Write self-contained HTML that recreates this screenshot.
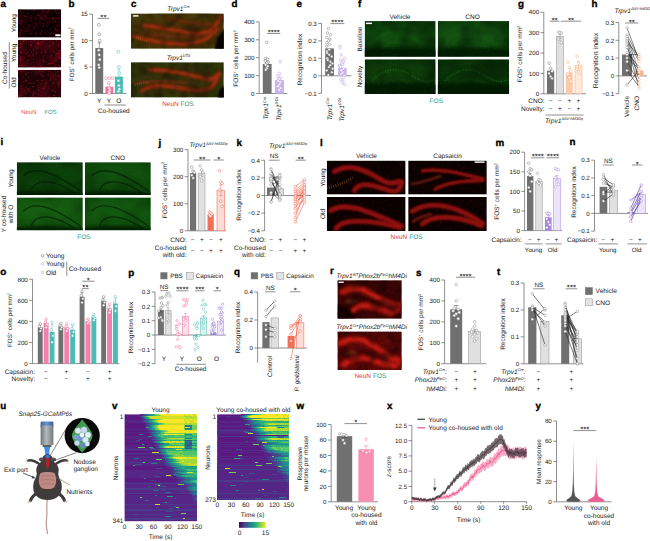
<!DOCTYPE html>
<html lang="en"><head><meta charset="utf-8"><title>Figure</title>
<style>
html,body{margin:0;padding:0;background:#fff;}
svg{display:block;font-family:"Liberation Sans", sans-serif;}
text{font-family:"Liberation Sans", sans-serif;}
</style></head><body>
<svg width="650" height="541" viewBox="0 0 650 541" text-rendering="geometricPrecision">
<defs>
<filter id="nzR" x="0" y="0" width="100%" height="100%" color-interpolation-filters="sRGB">
<feTurbulence type="fractalNoise" baseFrequency="0.4" numOctaves="2" seed="3"/>
<feColorMatrix type="matrix" values="0 0 0 0 0  0 0 0 0 0  0 0 0 0 0  3.4 0 0 0 -1.85"/>
<feComposite in="SourceGraphic" operator="in"/></filter>
<filter id="nzR2" x="0" y="0" width="100%" height="100%" color-interpolation-filters="sRGB">
<feTurbulence type="fractalNoise" baseFrequency="0.08" numOctaves="2" seed="11"/>
<feColorMatrix type="matrix" values="0 0 0 0 0  0 0 0 0 0  0 0 0 0 0  3.0 0 0 0 -1.2"/>
<feComposite in="SourceGraphic" operator="in"/></filter>
<filter id="nzR3" x="0" y="0" width="100%" height="100%" color-interpolation-filters="sRGB">
<feTurbulence type="fractalNoise" baseFrequency="0.06" numOctaves="2" seed="21"/>
<feColorMatrix type="matrix" values="0 0 0 0 0  0 0 0 0 0  0 0 0 0 0  3.0 0 0 0 -1.2"/>
<feComposite in="SourceGraphic" operator="in"/></filter>
<filter id="nzG" x="0" y="0" width="100%" height="100%" color-interpolation-filters="sRGB">
<feTurbulence type="fractalNoise" baseFrequency="0.5" numOctaves="2" seed="5"/>
<feColorMatrix type="matrix" values="0 0 0 0 0  0 0 0 0 0  0 0 0 0 0  2.4 0 0 0 -1.1"/>
<feComposite in="SourceGraphic" operator="in"/></filter>
<filter id="nzG2" x="0" y="0" width="100%" height="100%" color-interpolation-filters="sRGB">
<feTurbulence type="fractalNoise" baseFrequency="0.05" numOctaves="2" seed="9"/>
<feColorMatrix type="matrix" values="0 0 0 0 0  0 0 0 0 0  0 0 0 0 0  3.0 0 0 0 -1.2"/>
<feComposite in="SourceGraphic" operator="in"/></filter>
<filter id="b1" x="-20%" y="-20%" width="140%" height="140%"><feGaussianBlur stdDeviation="0.8"/></filter>
<filter id="b2" x="-20%" y="-20%" width="140%" height="140%"><feGaussianBlur stdDeviation="1.5"/></filter>
<filter id="b3" x="-20%" y="-20%" width="140%" height="140%"><feGaussianBlur stdDeviation="2.5"/></filter>
<filter id="b05" x="-20%" y="-20%" width="140%" height="140%"><feGaussianBlur stdDeviation="0.5"/></filter>
<filter id="b4" x="-20%" y="-20%" width="140%" height="140%"><feGaussianBlur stdDeviation="4"/></filter>
<clipPath id="cp1"><rect x="18" y="9.2" width="43.2" height="28.4"/></clipPath>
<clipPath id="cp2"><rect x="18" y="39.8" width="43.2" height="27.8"/></clipPath>
<clipPath id="cp3"><rect x="18" y="69.8" width="43.2" height="27.6"/></clipPath>
<clipPath id="cp4"><rect x="131" y="13.4" width="92.8" height="35.4"/></clipPath>
<clipPath id="cp5"><rect x="131" y="62.2" width="92.8" height="35.4"/></clipPath>
<clipPath id="cp6"><rect x="364.7" y="21.1" width="70.9" height="35.6"/></clipPath>
<clipPath id="cp7"><rect x="437.8" y="21.1" width="71.3" height="35.6"/></clipPath>
<clipPath id="cp8"><rect x="364.7" y="59.3" width="70.9" height="34.6"/></clipPath>
<clipPath id="cp9"><rect x="437.8" y="59.3" width="71.3" height="34.6"/></clipPath>
<clipPath id="cp10"><rect x="16.8" y="162.2" width="66" height="32.8"/></clipPath>
<clipPath id="cp11"><rect x="85" y="162.2" width="65.8" height="32.8"/></clipPath>
<clipPath id="cp12"><rect x="16.8" y="197.4" width="66" height="32.8"/></clipPath>
<clipPath id="cp13"><rect x="85" y="197.4" width="65.8" height="32.8"/></clipPath>
<clipPath id="cp14"><rect x="326.8" y="160.6" width="78.8" height="34"/></clipPath>
<clipPath id="cp15"><rect x="408.2" y="160.6" width="78.6" height="34"/></clipPath>
<clipPath id="cp16"><rect x="326.8" y="197" width="78.8" height="34"/></clipPath>
<clipPath id="cp17"><rect x="408.2" y="197" width="78.6" height="34"/></clipPath>
<clipPath id="cp18"><rect x="337.4" y="280.2" width="64.4" height="38.6"/></clipPath>
<clipPath id="cp19"><rect x="337.4" y="331.4" width="64.4" height="38.6"/></clipPath>
<linearGradient id="cyl" x1="0" x2="1" y1="0" y2="0"><stop offset="0" stop-color="#6e7378"/><stop offset="0.45" stop-color="#b4b9be"/><stop offset="1" stop-color="#74797e"/></linearGradient>
<linearGradient id="cylb" x1="0" x2="1" y1="0" y2="0"><stop offset="0" stop-color="#3b5f9a"/><stop offset="0.45" stop-color="#6f95cc"/><stop offset="1" stop-color="#3b5f9a"/></linearGradient>
<linearGradient id="virg" x1="0" x2="1" y1="0" y2="0"><stop offset="0.0" stop-color="#440154"/><stop offset="0.1" stop-color="#482475"/><stop offset="0.2" stop-color="#414487"/><stop offset="0.3" stop-color="#355f8d"/><stop offset="0.4" stop-color="#2a788e"/><stop offset="0.5" stop-color="#21918c"/><stop offset="0.6" stop-color="#22a884"/><stop offset="0.7" stop-color="#44bf70"/><stop offset="0.8" stop-color="#7ad151"/><stop offset="0.9" stop-color="#bddf26"/><stop offset="1.0" stop-color="#fde725"/></linearGradient>
</defs>
<rect width="650" height="541" fill="#fff"/>
<g id="panel_a">
<text x="0.5" y="7.2" font-size="9.8" fill="#000" font-weight="bold" stroke="#000" stroke-width="0.35">a</text>
<g clip-path="url(#cp1)">
<rect x="18" y="9.2" width="43.2" height="28.4" fill="#090102"/>
<rect x="18" y="9.2" width="43.2" height="28.4" fill="#3a0610" filter="url(#nzR2)" opacity="0.55"/>
<rect x="18" y="9.2" width="43.2" height="28.4" fill="#d01822" filter="url(#nzR)" opacity="0.42"/>
</g>
<g clip-path="url(#cp2)">
<rect x="18" y="39.8" width="43.2" height="27.8" fill="#250308"/>
<rect x="18" y="39.8" width="43.2" height="27.8" fill="#5a0814" filter="url(#nzR2)" opacity="0.8"/>
<rect x="18" y="39.8" width="43.2" height="27.8" fill="#d01822" filter="url(#nzR)" opacity="0.55"/>
</g>
<g clip-path="url(#cp3)">
<rect x="18" y="69.8" width="43.2" height="27.6" fill="#1b0306"/>
<rect x="18" y="69.8" width="43.2" height="27.6" fill="#4c0812" filter="url(#nzR2)" opacity="0.8"/>
<rect x="18" y="69.8" width="43.2" height="27.6" fill="#d01822" filter="url(#nzR)" opacity="0.5"/>
</g>
<rect x="55.3" y="34.3" width="5.2" height="1.9" fill="#fff"/>
<text font-size="6.5" fill="#1a1a1a" text-anchor="middle" transform="translate(16.2 23.2) rotate(-90)">Young</text>
<text font-size="6.5" fill="#1a1a1a" text-anchor="middle" transform="translate(16.2 52.8) rotate(-90)">Young</text>
<text font-size="6.5" fill="#1a1a1a" text-anchor="middle" transform="translate(16.2 82.4) rotate(-90)">Old</text>
<text font-size="6.5" fill="#1a1a1a" text-anchor="middle" transform="translate(7.2 68) rotate(-90)">Co-housed</text>
<line x1="9.3" y1="42" x2="9.3" y2="88.6" stroke="#444" stroke-width="0.6"/>
<text x="21.2" y="113.6" font-size="6.01" fill="#e8413c">NeuN</text>
<text x="44.4" y="113.6" font-size="6.01" fill="#2f9d7e">FOS</text>
</g>
<g id="panel_b">
<text x="68.5" y="7.2" font-size="9.8" fill="#000" font-weight="bold" stroke="#000" stroke-width="0.35">b</text>
<line x1="92.5" y1="14.2" x2="92.5" y2="93.5" stroke="#444" stroke-width="0.6"/>
<line x1="89.2" y1="14.2" x2="92.5" y2="14.2" stroke="#444" stroke-width="0.6"/>
<text x="87.8" y="16.45" font-size="6.2" fill="#1a1a1a" text-anchor="end">15</text>
<line x1="89.2" y1="40.63" x2="92.5" y2="40.63" stroke="#444" stroke-width="0.6"/>
<text x="87.8" y="42.88" font-size="6.2" fill="#1a1a1a" text-anchor="end">10</text>
<line x1="89.2" y1="67.07" x2="92.5" y2="67.07" stroke="#444" stroke-width="0.6"/>
<text x="87.8" y="69.32" font-size="6.2" fill="#1a1a1a" text-anchor="end">5</text>
<line x1="89.2" y1="93.5" x2="92.5" y2="93.5" stroke="#444" stroke-width="0.6"/>
<text x="87.8" y="95.75" font-size="6.2" fill="#1a1a1a" text-anchor="end">0</text>
<line x1="92.5" y1="93.5" x2="126.5" y2="93.5" stroke="#444" stroke-width="0.6"/>
<text font-size="6.21" fill="#1a1a1a" text-anchor="middle" transform="translate(73.8 54.2) rotate(-90)">FOS<tspan dy="-2.36" font-size="3.73">+</tspan><tspan dy="2.36">​</tspan> cells per mm<tspan dy="-2.36" font-size="3.73">2</tspan><tspan dy="2.36">​</tspan></text>
<rect x="95.3" y="48.03" width="7.9" height="45.47" fill="#707070"/>
<line x1="99.25" y1="42.75" x2="99.25" y2="48.03" stroke="#444" stroke-width="0.5"/>
<line x1="97.65" y1="42.75" x2="100.85" y2="42.75" stroke="#444" stroke-width="0.5"/>
<circle cx="98.75" cy="24.77" r="1.44" fill="#fff" stroke="#777" stroke-width="0.54"/>
<circle cx="99.25" cy="34.29" r="1.44" fill="#fff" stroke="#777" stroke-width="0.54"/>
<circle cx="99.75" cy="40.63" r="1.44" fill="#fff" stroke="#777" stroke-width="0.54"/>
<circle cx="98.75" cy="50.15" r="1.44" fill="#fff" stroke="#777" stroke-width="0.54"/>
<circle cx="99.25" cy="54.91" r="1.44" fill="#fff" stroke="#777" stroke-width="0.54"/>
<circle cx="99.75" cy="59.67" r="1.44" fill="#fff" stroke="#777" stroke-width="0.54"/>
<circle cx="98.75" cy="64.95" r="1.44" fill="#fff" stroke="#777" stroke-width="0.54"/>
<circle cx="99.25" cy="67.6" r="1.44" fill="#fff" stroke="#777" stroke-width="0.54"/>
<rect x="105.4" y="86.63" width="7.8" height="6.87" fill="#f2709f"/>
<line x1="109.3" y1="83.98" x2="109.3" y2="86.63" stroke="#f2709f" stroke-width="0.5"/>
<line x1="107.7" y1="83.98" x2="110.9" y2="83.98" stroke="#f2709f" stroke-width="0.5"/>
<circle cx="106.1" cy="78.17" r="1.44" fill="#fff" stroke="#f2709f" stroke-width="0.54"/>
<circle cx="109.3" cy="78.17" r="1.44" fill="#fff" stroke="#f2709f" stroke-width="0.54"/>
<circle cx="112.5" cy="78.17" r="1.44" fill="#fff" stroke="#f2709f" stroke-width="0.54"/>
<circle cx="108.8" cy="82.93" r="1.44" fill="#fff" stroke="#f2709f" stroke-width="0.54"/>
<circle cx="109.3" cy="88.21" r="1.44" fill="#fff" stroke="#f2709f" stroke-width="0.54"/>
<circle cx="109.8" cy="90.33" r="1.44" fill="#fff" stroke="#f2709f" stroke-width="0.54"/>
<circle cx="108.8" cy="91.91" r="1.44" fill="#fff" stroke="#f2709f" stroke-width="0.54"/>
<circle cx="109.3" cy="92.97" r="1.44" fill="#fff" stroke="#f2709f" stroke-width="0.54"/>
<rect x="114.9" y="76.58" width="8" height="16.92" fill="#4bbcb4"/>
<line x1="118.9" y1="69.71" x2="118.9" y2="76.58" stroke="#4bbcb4" stroke-width="0.5"/>
<line x1="117.3" y1="69.71" x2="120.5" y2="69.71" stroke="#4bbcb4" stroke-width="0.5"/>
<circle cx="118.4" cy="51.74" r="1.44" fill="#fff" stroke="#4bbcb4" stroke-width="0.54"/>
<circle cx="118.9" cy="67.07" r="1.44" fill="#fff" stroke="#4bbcb4" stroke-width="0.54"/>
<circle cx="119.4" cy="73.41" r="1.44" fill="#fff" stroke="#4bbcb4" stroke-width="0.54"/>
<circle cx="118.4" cy="80.81" r="1.44" fill="#fff" stroke="#4bbcb4" stroke-width="0.54"/>
<circle cx="118.9" cy="85.57" r="1.44" fill="#fff" stroke="#4bbcb4" stroke-width="0.54"/>
<circle cx="119.4" cy="89.27" r="1.44" fill="#fff" stroke="#4bbcb4" stroke-width="0.54"/>
<circle cx="118.4" cy="91.39" r="1.44" fill="#fff" stroke="#4bbcb4" stroke-width="0.54"/>
<line x1="97.4" y1="18.4" x2="109.4" y2="18.4" stroke="#444" stroke-width="0.6"/>
<text x="103.4" y="20" font-size="7.8" fill="#1a1a1a" text-anchor="middle">**</text>
<text x="99.2" y="102.6" font-size="6.5" fill="#1a1a1a" text-anchor="middle">Y</text>
<text x="108.8" y="102.6" font-size="6.5" fill="#1a1a1a" text-anchor="middle">Y</text>
<text x="118.9" y="102.6" font-size="6.5" fill="#1a1a1a" text-anchor="middle">O</text>
<line x1="104.5" y1="105" x2="125.8" y2="105" stroke="#444" stroke-width="0.6"/>
<text x="113.8" y="112.6" font-size="6.5" fill="#1a1a1a" text-anchor="middle">Co-housed</text>
</g>
<g id="panel_c">
<text x="131" y="7.2" font-size="9.8" fill="#000" font-weight="bold" stroke="#000" stroke-width="0.35">c</text>
<text x="178.5" y="10.8" font-size="6.5" fill="#1a1a1a" text-anchor="middle" font-style="italic">Trpv1<tspan dy="-2.47" font-size="3.9">Cre</tspan><tspan dy="2.47">​</tspan></text>
<text x="178.5" y="59.6" font-size="6.5" fill="#1a1a1a" text-anchor="middle" font-style="italic">Trpv1<tspan dy="-2.47" font-size="3.9">DTA</tspan><tspan dy="2.47">​</tspan></text>
<g clip-path="url(#cp4)">
<rect x="131" y="13.4" width="92.8" height="35.4" fill="#42380a"/>
<ellipse cx="177.4" cy="32.87" rx="46.4" ry="14.16" fill="#5a240a" opacity="0.28" filter="url(#b4)"/>
<ellipse cx="182.04" cy="15.17" rx="32.48" ry="5.31" fill="#4a3a10" opacity="0.8" filter="url(#b3)"/>
<g filter="url(#b2)" fill="none" stroke-linecap="round"><path d="M149.56 34.64 C168.12 35.35 182.04 37.47 197.82 36.06 M168.12 18.36 C182.04 20.48 195.96 24.73 210.81 24.02" stroke="#7a2a0c" stroke-width="3.2" opacity="0.75"/></g>
<g filter="url(#b2)" fill="none" stroke-linecap="round" stroke="#8a260e" stroke-width="4.4" opacity="0.9"><path d="M143.99 25.44 C158.84 26.14 172.76 30.39 190.39 32.87 S212.66 30.39 221.02 16.94"/><path d="M132.86 36.06 C144.92 38.89 163.48 44.55 182.04 43.84 S208.95 39.95 217.3 28.27"/></g>
<g filter="url(#b1)" fill="none" stroke-linecap="round" stroke="#c43a16" stroke-width="1.8" opacity="0.65"><path d="M143.99 25.44 C158.84 26.14 172.76 30.39 190.39 32.87 S212.66 30.39 221.02 16.94"/><path d="M132.86 36.06 C144.92 38.89 163.48 44.55 182.04 43.84 S208.95 39.95 217.3 28.27"/></g>
<g filter="url(#b05)" fill="none" stroke="#c87020" stroke-width="2.4" stroke-dasharray="0.9 1.3" opacity="0.5"><path d="M133.78 36.76 L147.7 41.72"/></g>
<path d="M214.52 50.57 L217.3 38.18 L225.66 26.85 L225.66 50.57 Z" fill="#050502" filter="url(#b1)"/>
<rect x="131" y="13.4" width="92.8" height="35.4" fill="#7a5a14" filter="url(#nzG)" opacity="0.1"/>
<rect x="131" y="13.4" width="92.8" height="35.4" fill="#100c03" filter="url(#nzR2)" opacity="0.4"/>
</g>
<g clip-path="url(#cp5)">
<rect x="131" y="62.2" width="92.8" height="35.4" fill="#30360c"/>
<ellipse cx="177.4" cy="81.67" rx="41.76" ry="12.39" fill="#4a200a" opacity="0.3" filter="url(#b4)"/>
<g filter="url(#b2)" fill="none" stroke-linecap="round"><path d="M135.64 83.44 C149.56 79.19 168.12 80.61 186.68 83.44" stroke="#7a2a0c" stroke-width="3.2" opacity="0.75"/></g>
<g filter="url(#b2)" fill="none" stroke-linecap="round" stroke="#8a260e" stroke-width="4.4" opacity="0.9"><path d="M149.56 69.99 C163.48 69.28 182.04 72.82 199.67 77.07 S214.52 76.36 219.16 72.82"/><path d="M142.14 90.52 C154.2 82.02 172.76 86.98 190.39 89.81 S212.66 89.1 219.16 74.24"/></g>
<g filter="url(#b1)" fill="none" stroke-linecap="round" stroke="#c43a16" stroke-width="1.8" opacity="0.65"><path d="M149.56 69.99 C163.48 69.28 182.04 72.82 199.67 77.07 S214.52 76.36 219.16 72.82"/><path d="M142.14 90.52 C154.2 82.02 172.76 86.98 190.39 89.81 S212.66 89.1 219.16 74.24"/></g>
<g filter="url(#b05)" fill="none" stroke="#c87020" stroke-width="2.4" stroke-dasharray="0.9 1.3" opacity="0.5"><path d="M134.71 84.86 L149.56 82.02"/></g>
<path d="M217.3 99.37 L220.09 88.75 L225.66 85.21 L225.66 99.37 Z" fill="#050502" filter="url(#b1)"/>
<rect x="131" y="62.2" width="92.8" height="35.4" fill="#7a5a14" filter="url(#nzG)" opacity="0.1"/>
<rect x="131" y="62.2" width="92.8" height="35.4" fill="#100c03" filter="url(#nzR2)" opacity="0.4"/>
</g>
<rect x="133" y="15.2" width="5.5" height="1.4" fill="#fff"/>
<text x="178.8" y="105.6" font-size="6.5" fill="#e8413c" text-anchor="end">NeuN</text>
<text x="180.6" y="105.6" font-size="6.5" fill="#2f9d7e">FOS</text>
</g>
<g id="panel_d">
<text x="231.5" y="7.2" font-size="9.8" fill="#000" font-weight="bold" stroke="#000" stroke-width="0.35">d</text>
<line x1="259.2" y1="21.9" x2="259.2" y2="93.5" stroke="#444" stroke-width="0.6"/>
<line x1="255.9" y1="21.9" x2="259.2" y2="21.9" stroke="#444" stroke-width="0.6"/>
<text x="254.5" y="24.15" font-size="6.2" fill="#1a1a1a" text-anchor="end">400</text>
<line x1="255.9" y1="39.8" x2="259.2" y2="39.8" stroke="#444" stroke-width="0.6"/>
<text x="254.5" y="42.05" font-size="6.2" fill="#1a1a1a" text-anchor="end">300</text>
<line x1="255.9" y1="57.7" x2="259.2" y2="57.7" stroke="#444" stroke-width="0.6"/>
<text x="254.5" y="59.95" font-size="6.2" fill="#1a1a1a" text-anchor="end">200</text>
<line x1="255.9" y1="75.6" x2="259.2" y2="75.6" stroke="#444" stroke-width="0.6"/>
<text x="254.5" y="77.85" font-size="6.2" fill="#1a1a1a" text-anchor="end">100</text>
<line x1="255.9" y1="93.5" x2="259.2" y2="93.5" stroke="#444" stroke-width="0.6"/>
<text x="254.5" y="95.75" font-size="6.2" fill="#1a1a1a" text-anchor="end">0</text>
<line x1="259.2" y1="93.5" x2="287.4" y2="93.5" stroke="#444" stroke-width="0.6"/>
<text font-size="6.5" fill="#1a1a1a" text-anchor="middle" transform="translate(238.3 58.6) rotate(-90)">FOS<tspan dy="-2.47" font-size="3.9">+</tspan><tspan dy="2.47">​</tspan> cells per mm<tspan dy="-2.47" font-size="3.9">2</tspan><tspan dy="2.47">​</tspan></text>
<rect x="262.8" y="63.97" width="8.8" height="29.53" fill="#707070"/>
<line x1="266.75" y1="61.82" x2="266.75" y2="63.97" stroke="#444" stroke-width="0.5"/>
<line x1="265.15" y1="61.82" x2="268.35" y2="61.82" stroke="#444" stroke-width="0.5"/>
<circle cx="266.7" cy="42.48" r="1.38" fill="#fff" stroke="#777" stroke-width="0.54"/>
<circle cx="265.7" cy="58.59" r="1.38" fill="#fff" stroke="#777" stroke-width="0.54"/>
<circle cx="267.7" cy="59.49" r="1.38" fill="#fff" stroke="#777" stroke-width="0.54"/>
<circle cx="265.3" cy="60.92" r="1.38" fill="#fff" stroke="#777" stroke-width="0.54"/>
<circle cx="268.1" cy="62" r="1.38" fill="#fff" stroke="#777" stroke-width="0.54"/>
<circle cx="266.7" cy="63.07" r="1.38" fill="#fff" stroke="#777" stroke-width="0.54"/>
<circle cx="265.7" cy="64.86" r="1.38" fill="#fff" stroke="#777" stroke-width="0.54"/>
<circle cx="267.7" cy="66.29" r="1.38" fill="#fff" stroke="#777" stroke-width="0.54"/>
<circle cx="266.7" cy="68.44" r="1.38" fill="#fff" stroke="#777" stroke-width="0.54"/>
<circle cx="265.7" cy="69.87" r="1.38" fill="#fff" stroke="#777" stroke-width="0.54"/>
<rect x="274.9" y="80.08" width="9.1" height="13.42" fill="#c9b6ee"/>
<line x1="279.2" y1="77.93" x2="279.2" y2="80.08" stroke="#a67fd8" stroke-width="0.5"/>
<line x1="277.6" y1="77.93" x2="280.8" y2="77.93" stroke="#a67fd8" stroke-width="0.5"/>
<circle cx="280.2" cy="61.64" r="1.38" fill="#fff" stroke="#b79ae6" stroke-width="0.54"/>
<circle cx="279.2" cy="73.45" r="1.38" fill="#fff" stroke="#b79ae6" stroke-width="0.54"/>
<circle cx="277.8" cy="76.5" r="1.38" fill="#fff" stroke="#b79ae6" stroke-width="0.54"/>
<circle cx="280.6" cy="77.75" r="1.38" fill="#fff" stroke="#b79ae6" stroke-width="0.54"/>
<circle cx="279.2" cy="79.18" r="1.38" fill="#fff" stroke="#b79ae6" stroke-width="0.54"/>
<circle cx="278.2" cy="80.97" r="1.38" fill="#fff" stroke="#b79ae6" stroke-width="0.54"/>
<circle cx="280.2" cy="82.4" r="1.38" fill="#fff" stroke="#b79ae6" stroke-width="0.54"/>
<circle cx="279.2" cy="84.55" r="1.38" fill="#fff" stroke="#b79ae6" stroke-width="0.54"/>
<circle cx="278" cy="86.34" r="1.38" fill="#fff" stroke="#b79ae6" stroke-width="0.54"/>
<circle cx="280.4" cy="88.13" r="1.38" fill="#fff" stroke="#b79ae6" stroke-width="0.54"/>
<circle cx="279.2" cy="89.92" r="1.38" fill="#fff" stroke="#b79ae6" stroke-width="0.54"/>
<line x1="267.2" y1="33.5" x2="280.4" y2="33.5" stroke="#444" stroke-width="0.6"/>
<text x="273.8" y="35.1" font-size="7.8" fill="#1a1a1a" text-anchor="middle">****</text>
<text font-size="6.6" fill="#1a1a1a" text-anchor="end" font-style="italic" transform="translate(268 96.8) rotate(-90)">Trpv1<tspan dy="-2.51" font-size="3.96">Cre</tspan><tspan dy="2.51">​</tspan></text>
<text font-size="6.6" fill="#1a1a1a" text-anchor="end" font-style="italic" transform="translate(280.8 96.8) rotate(-90)">Trpv1<tspan dy="-2.51" font-size="3.96">DTA</tspan><tspan dy="2.51">​</tspan></text>
</g>
<g id="panel_e">
<text x="296.5" y="7.2" font-size="9.8" fill="#000" font-weight="bold" stroke="#000" stroke-width="0.35">e</text>
<line x1="321.5" y1="23.4" x2="321.5" y2="93.27" stroke="#444" stroke-width="0.6"/>
<line x1="318.2" y1="23.4" x2="321.5" y2="23.4" stroke="#444" stroke-width="0.6"/>
<text x="316.8" y="25.65" font-size="6.2" fill="#1a1a1a" text-anchor="end">0.3</text>
<line x1="318.2" y1="40.87" x2="321.5" y2="40.87" stroke="#444" stroke-width="0.6"/>
<text x="316.8" y="43.12" font-size="6.2" fill="#1a1a1a" text-anchor="end">0.2</text>
<line x1="318.2" y1="58.33" x2="321.5" y2="58.33" stroke="#444" stroke-width="0.6"/>
<text x="316.8" y="60.58" font-size="6.2" fill="#1a1a1a" text-anchor="end">0.1</text>
<line x1="318.2" y1="75.8" x2="321.5" y2="75.8" stroke="#444" stroke-width="0.6"/>
<text x="316.8" y="78.05" font-size="6.2" fill="#1a1a1a" text-anchor="end">0</text>
<line x1="318.2" y1="93.27" x2="321.5" y2="93.27" stroke="#444" stroke-width="0.6"/>
<text x="316.8" y="95.52" font-size="6.2" fill="#1a1a1a" text-anchor="end">−0.1</text>
<line x1="321.5" y1="75.8" x2="351.5" y2="75.8" stroke="#444" stroke-width="0.6"/>
<text font-size="6.5" fill="#1a1a1a" text-anchor="middle" transform="translate(302 59.5) rotate(-90)">Recognition index</text>
<rect x="325.2" y="48.38" width="8.8" height="27.42" fill="#707070"/>
<circle cx="328.47" cy="28.64" r="1.25" fill="#fff" stroke="#777" stroke-width="0.48"/>
<circle cx="327.37" cy="33.01" r="1.25" fill="#fff" stroke="#777" stroke-width="0.48"/>
<circle cx="330.57" cy="34.75" r="1.25" fill="#fff" stroke="#777" stroke-width="0.48"/>
<circle cx="326.86" cy="37.37" r="1.25" fill="#fff" stroke="#777" stroke-width="0.48"/>
<circle cx="329.83" cy="39.12" r="1.25" fill="#fff" stroke="#777" stroke-width="0.48"/>
<circle cx="328.74" cy="40.87" r="1.25" fill="#fff" stroke="#777" stroke-width="0.48"/>
<circle cx="326.77" cy="42.61" r="1.25" fill="#fff" stroke="#777" stroke-width="0.48"/>
<circle cx="329.65" cy="44.36" r="1.25" fill="#fff" stroke="#777" stroke-width="0.48"/>
<circle cx="326.64" cy="46.11" r="1.25" fill="#fff" stroke="#777" stroke-width="0.48"/>
<circle cx="329.18" cy="49.6" r="1.25" fill="#fff" stroke="#777" stroke-width="0.48"/>
<circle cx="326.85" cy="51.35" r="1.25" fill="#fff" stroke="#777" stroke-width="0.48"/>
<circle cx="326.98" cy="53.09" r="1.25" fill="#fff" stroke="#777" stroke-width="0.48"/>
<circle cx="329.12" cy="54.84" r="1.25" fill="#fff" stroke="#777" stroke-width="0.48"/>
<circle cx="331.69" cy="56.59" r="1.25" fill="#fff" stroke="#777" stroke-width="0.48"/>
<circle cx="327.19" cy="58.33" r="1.25" fill="#fff" stroke="#777" stroke-width="0.48"/>
<circle cx="327.83" cy="60.08" r="1.25" fill="#fff" stroke="#777" stroke-width="0.48"/>
<circle cx="330.42" cy="61.83" r="1.25" fill="#fff" stroke="#777" stroke-width="0.48"/>
<circle cx="332.47" cy="63.57" r="1.25" fill="#fff" stroke="#777" stroke-width="0.48"/>
<circle cx="330.09" cy="65.32" r="1.25" fill="#fff" stroke="#777" stroke-width="0.48"/>
<circle cx="328.94" cy="67.07" r="1.25" fill="#fff" stroke="#777" stroke-width="0.48"/>
<circle cx="332.65" cy="68.81" r="1.25" fill="#fff" stroke="#777" stroke-width="0.48"/>
<circle cx="326.7" cy="70.56" r="1.25" fill="#fff" stroke="#777" stroke-width="0.48"/>
<circle cx="331.89" cy="72.31" r="1.25" fill="#fff" stroke="#777" stroke-width="0.48"/>
<circle cx="328.25" cy="74.93" r="1.25" fill="#fff" stroke="#777" stroke-width="0.48"/>
<rect x="338.1" y="67.94" width="8.6" height="7.86" fill="#c9b6ee"/>
<circle cx="340.12" cy="46.11" r="1.25" fill="#fff" stroke="#b79ae6" stroke-width="0.48"/>
<circle cx="339.95" cy="47.85" r="1.25" fill="#fff" stroke="#b79ae6" stroke-width="0.48"/>
<circle cx="341.17" cy="54.84" r="1.25" fill="#fff" stroke="#b79ae6" stroke-width="0.48"/>
<circle cx="344.42" cy="58.33" r="1.25" fill="#fff" stroke="#b79ae6" stroke-width="0.48"/>
<circle cx="340.36" cy="60.08" r="1.25" fill="#fff" stroke="#b79ae6" stroke-width="0.48"/>
<circle cx="342.92" cy="60.95" r="1.25" fill="#fff" stroke="#b79ae6" stroke-width="0.48"/>
<circle cx="343.29" cy="61.83" r="1.25" fill="#fff" stroke="#b79ae6" stroke-width="0.48"/>
<circle cx="341.58" cy="63.57" r="1.25" fill="#fff" stroke="#b79ae6" stroke-width="0.48"/>
<circle cx="342.71" cy="64.45" r="1.25" fill="#fff" stroke="#b79ae6" stroke-width="0.48"/>
<circle cx="339.6" cy="65.32" r="1.25" fill="#fff" stroke="#b79ae6" stroke-width="0.48"/>
<circle cx="339.58" cy="66.19" r="1.25" fill="#fff" stroke="#b79ae6" stroke-width="0.48"/>
<circle cx="340.52" cy="67.07" r="1.25" fill="#fff" stroke="#b79ae6" stroke-width="0.48"/>
<circle cx="343.55" cy="68.81" r="1.25" fill="#fff" stroke="#b79ae6" stroke-width="0.48"/>
<circle cx="341.94" cy="69.69" r="1.25" fill="#fff" stroke="#b79ae6" stroke-width="0.48"/>
<circle cx="341.21" cy="70.56" r="1.25" fill="#fff" stroke="#b79ae6" stroke-width="0.48"/>
<circle cx="342.95" cy="72.31" r="1.25" fill="#fff" stroke="#b79ae6" stroke-width="0.48"/>
<circle cx="342.1" cy="73.18" r="1.25" fill="#fff" stroke="#b79ae6" stroke-width="0.48"/>
<circle cx="341.12" cy="74.05" r="1.25" fill="#fff" stroke="#b79ae6" stroke-width="0.48"/>
<circle cx="344.28" cy="75.8" r="1.25" fill="#fff" stroke="#b79ae6" stroke-width="0.48"/>
<circle cx="343.67" cy="77.55" r="1.25" fill="#fff" stroke="#b79ae6" stroke-width="0.48"/>
<circle cx="340.76" cy="79.29" r="1.25" fill="#fff" stroke="#b79ae6" stroke-width="0.48"/>
<circle cx="342.88" cy="81.04" r="1.25" fill="#fff" stroke="#b79ae6" stroke-width="0.48"/>
<circle cx="342.56" cy="82.79" r="1.25" fill="#fff" stroke="#b79ae6" stroke-width="0.48"/>
<circle cx="344.8" cy="84.53" r="1.25" fill="#fff" stroke="#b79ae6" stroke-width="0.48"/>
<line x1="330.4" y1="23.6" x2="344.4" y2="23.6" stroke="#444" stroke-width="0.6"/>
<text x="337.4" y="25.2" font-size="7.8" fill="#1a1a1a" text-anchor="middle">****</text>
<text font-size="6.6" fill="#1a1a1a" text-anchor="end" font-style="italic" transform="translate(331.6 97.5) rotate(-90)">Trpv1<tspan dy="-2.51" font-size="3.96">Cre</tspan><tspan dy="2.51">​</tspan></text>
<text font-size="6.6" fill="#1a1a1a" text-anchor="end" font-style="italic" transform="translate(343.6 97.5) rotate(-90)">Trpv1<tspan dy="-2.51" font-size="3.96">DTA</tspan><tspan dy="2.51">​</tspan></text>
</g>
<g id="panel_f">
<text x="358" y="7.2" font-size="9.8" fill="#000" font-weight="bold" stroke="#000" stroke-width="0.35">f</text>
<text x="400" y="18.6" font-size="6.5" fill="#1a1a1a" text-anchor="middle">Vehicle</text>
<text x="472.5" y="18.6" font-size="6.5" fill="#1a1a1a" text-anchor="middle">CNO</text>
<g clip-path="url(#cp6)">
<rect x="364.7" y="21.1" width="70.9" height="35.6" fill="#0c3c0b"/>
<ellipse cx="400.15" cy="35.34" rx="35.45" ry="12.82" fill="#186018" opacity="0.45" filter="url(#b4)"/>
<g filter="url(#b1)" fill="none" stroke="#1a5e16" stroke-width="2.4" opacity="0.4"><path d="M371.79 43.17 C382.43 31.78 396.61 28.22 408.66 36.05 S424.97 45.31 434.18 42.46"/><path d="M380.3 50.29 C389.51 38.9 401.57 39.61 415.75 48.16"/></g>
<path d="M361.15 60.26 L361.15 48.87 Q400.15 45.31 439.15 49.58 L439.15 60.26 Z" fill="#041404" opacity="0.8" filter="url(#b2)"/>
<rect x="364.7" y="21.1" width="70.9" height="35.6" fill="#2a8426" filter="url(#nzG)" opacity="0.12"/>
<rect x="364.7" y="21.1" width="70.9" height="35.6" fill="#041604" filter="url(#nzG2)" opacity="0.5"/>
</g>
<g clip-path="url(#cp7)">
<rect x="437.8" y="21.1" width="71.3" height="35.6" fill="#0d400b"/>
<ellipse cx="473.45" cy="35.34" rx="35.65" ry="12.82" fill="#1b661a" opacity="0.45" filter="url(#b4)"/>
<g filter="url(#b1)" fill="none" stroke="#1a5e16" stroke-width="2.4" opacity="0.4"><path d="M444.93 43.17 C455.62 31.78 469.88 28.22 482.01 36.05 S498.41 45.31 507.67 42.46"/><path d="M453.49 50.29 C462.75 38.9 474.88 39.61 489.14 48.16"/></g>
<path d="M434.24 60.26 L434.24 48.87 Q473.45 45.31 512.66 49.58 L512.66 60.26 Z" fill="#041404" opacity="0.8" filter="url(#b2)"/>
<rect x="437.8" y="21.1" width="71.3" height="35.6" fill="#2a8426" filter="url(#nzG)" opacity="0.12"/>
<rect x="437.8" y="21.1" width="71.3" height="35.6" fill="#041604" filter="url(#nzG2)" opacity="0.5"/>
</g>
<g clip-path="url(#cp8)">
<rect x="364.7" y="59.3" width="70.9" height="34.6" fill="#0a3009"/>
<ellipse cx="400.15" cy="73.14" rx="35.45" ry="12.46" fill="#124a10" opacity="0.45" filter="url(#b4)"/>
<g filter="url(#b1)" fill="none" stroke="#1a5e16" stroke-width="2.4" opacity="0.25"><path d="M371.79 80.75 C382.43 69.68 396.61 66.22 408.66 73.83 S424.97 82.83 434.18 80.06"/><path d="M380.3 87.67 C389.51 76.6 401.57 77.29 415.75 85.6"/></g>
<path d="M361.15 97.36 L361.15 84.21 Q400.15 80.75 439.15 84.9 L439.15 97.36 Z" fill="#041404" opacity="0.8" filter="url(#b2)"/>
<g filter="url(#b05)" fill="none" stroke="#4fae4f" stroke-width="0.9" stroke-dasharray="0.7 2" opacity="0.7"><path d="M371.79 80.75 C382.43 69.68 396.61 66.22 408.66 73.83 S424.97 82.83 434.18 80.06"/></g>
<rect x="364.7" y="59.3" width="70.9" height="34.6" fill="#2a8426" filter="url(#nzG)" opacity="0.12"/>
<rect x="364.7" y="59.3" width="70.9" height="34.6" fill="#041604" filter="url(#nzG2)" opacity="0.5"/>
</g>
<g clip-path="url(#cp9)">
<rect x="437.8" y="59.3" width="71.3" height="34.6" fill="#092c08"/>
<ellipse cx="473.45" cy="73.14" rx="35.65" ry="12.46" fill="#10440e" opacity="0.45" filter="url(#b4)"/>
<g filter="url(#b1)" fill="none" stroke="#1a5e16" stroke-width="2.4" opacity="0.25"><path d="M444.93 80.75 C455.62 69.68 469.88 66.22 482.01 73.83 S498.41 82.83 507.67 80.06"/><path d="M453.49 87.67 C462.75 76.6 474.88 77.29 489.14 85.6"/></g>
<path d="M434.24 97.36 L434.24 84.21 Q473.45 80.75 512.66 84.9 L512.66 97.36 Z" fill="#041404" opacity="0.8" filter="url(#b2)"/>
<g filter="url(#b05)" fill="none" stroke="#4fae4f" stroke-width="0.9" stroke-dasharray="0.7 2" opacity="0.7"><path d="M444.93 80.75 C455.62 69.68 469.88 66.22 482.01 73.83 S498.41 82.83 507.67 80.06"/></g>
<rect x="437.8" y="59.3" width="71.3" height="34.6" fill="#2a8426" filter="url(#nzG)" opacity="0.12"/>
<rect x="437.8" y="59.3" width="71.3" height="34.6" fill="#041604" filter="url(#nzG2)" opacity="0.5"/>
</g>
<rect x="366" y="22.6" width="6" height="1.5" fill="#fff"/>
<text font-size="6.5" fill="#1a1a1a" text-anchor="middle" transform="translate(362 39) rotate(-90)">Baseline</text>
<text font-size="6.5" fill="#1a1a1a" text-anchor="middle" transform="translate(362 76.5) rotate(-90)">Novelty</text>
<text x="436.3" y="102.6" font-size="6.5" fill="#2f9d7e" text-anchor="middle">FOS</text>
</g>
<g id="panel_g">
<text x="518" y="7.2" font-size="9.8" fill="#000" font-weight="bold" stroke="#000" stroke-width="0.35">g</text>
<line x1="543.8" y1="12.2" x2="543.8" y2="93.8" stroke="#444" stroke-width="0.6"/>
<line x1="540.5" y1="12.2" x2="543.8" y2="12.2" stroke="#444" stroke-width="0.6"/>
<text x="539.1" y="14.45" font-size="6.2" fill="#1a1a1a" text-anchor="end">400</text>
<line x1="540.5" y1="32.6" x2="543.8" y2="32.6" stroke="#444" stroke-width="0.6"/>
<text x="539.1" y="34.85" font-size="6.2" fill="#1a1a1a" text-anchor="end">300</text>
<line x1="540.5" y1="53" x2="543.8" y2="53" stroke="#444" stroke-width="0.6"/>
<text x="539.1" y="55.25" font-size="6.2" fill="#1a1a1a" text-anchor="end">200</text>
<line x1="540.5" y1="73.4" x2="543.8" y2="73.4" stroke="#444" stroke-width="0.6"/>
<text x="539.1" y="75.65" font-size="6.2" fill="#1a1a1a" text-anchor="end">100</text>
<line x1="540.5" y1="93.8" x2="543.8" y2="93.8" stroke="#444" stroke-width="0.6"/>
<text x="539.1" y="96.05" font-size="6.2" fill="#1a1a1a" text-anchor="end">0</text>
<line x1="543.8" y1="93.8" x2="586" y2="93.8" stroke="#444" stroke-width="0.6"/>
<text font-size="6.5" fill="#1a1a1a" text-anchor="middle" transform="translate(522.4 54) rotate(-90)">FOS<tspan dy="-2.47" font-size="3.9">+</tspan><tspan dy="2.47">​</tspan> cells per mm<tspan dy="-2.47" font-size="3.9">2</tspan><tspan dy="2.47">​</tspan></text>
<rect x="547" y="70.75" width="7.2" height="23.05" fill="#707070"/>
<line x1="550.6" y1="68.3" x2="550.6" y2="73.2" stroke="#444" stroke-width="0.5"/>
<line x1="549.1" y1="68.3" x2="552.1" y2="68.3" stroke="#444" stroke-width="0.5"/>
<line x1="549.1" y1="73.2" x2="552.1" y2="73.2" stroke="#444" stroke-width="0.5"/>
<circle cx="549.1" cy="63.2" r="1.31" fill="#fff" stroke="#777" stroke-width="0.48"/>
<circle cx="550.6" cy="68.3" r="1.31" fill="#fff" stroke="#777" stroke-width="0.48"/>
<circle cx="552.1" cy="71.36" r="1.31" fill="#fff" stroke="#777" stroke-width="0.48"/>
<circle cx="549.1" cy="73.4" r="1.31" fill="#fff" stroke="#777" stroke-width="0.48"/>
<circle cx="550.6" cy="76.46" r="1.31" fill="#fff" stroke="#777" stroke-width="0.48"/>
<circle cx="552.1" cy="78.5" r="1.31" fill="#fff" stroke="#777" stroke-width="0.48"/>
<rect x="556.5" y="36.48" width="6.9" height="57.32" fill="#e0e0e0" stroke="#8c8c8c" stroke-width="0.5"/>
<line x1="559.95" y1="34.44" x2="559.95" y2="38.52" stroke="#888" stroke-width="0.5"/>
<line x1="558.45" y1="34.44" x2="561.45" y2="34.44" stroke="#888" stroke-width="0.5"/>
<line x1="558.45" y1="38.52" x2="561.45" y2="38.52" stroke="#888" stroke-width="0.5"/>
<circle cx="558.45" cy="32.19" r="1.31" fill="#fff" stroke="#888" stroke-width="0.48"/>
<circle cx="559.95" cy="32.6" r="1.31" fill="#fff" stroke="#888" stroke-width="0.48"/>
<circle cx="561.45" cy="33.01" r="1.31" fill="#fff" stroke="#888" stroke-width="0.48"/>
<circle cx="558.45" cy="38.72" r="1.31" fill="#fff" stroke="#888" stroke-width="0.48"/>
<circle cx="559.95" cy="41.78" r="1.31" fill="#fff" stroke="#888" stroke-width="0.48"/>
<circle cx="561.45" cy="42.8" r="1.31" fill="#fff" stroke="#888" stroke-width="0.48"/>
<rect x="565.8" y="72.58" width="7" height="21.22" fill="#f9c9a8"/>
<line x1="569.3" y1="68.1" x2="569.3" y2="77.07" stroke="#f4a87a" stroke-width="0.5"/>
<line x1="567.8" y1="68.1" x2="570.8" y2="68.1" stroke="#f4a87a" stroke-width="0.5"/>
<line x1="567.8" y1="77.07" x2="570.8" y2="77.07" stroke="#f4a87a" stroke-width="0.5"/>
<circle cx="567.8" cy="62.18" r="1.31" fill="#fff" stroke="#f4a87a" stroke-width="0.48"/>
<circle cx="569.3" cy="67.28" r="1.31" fill="#fff" stroke="#f4a87a" stroke-width="0.48"/>
<circle cx="570.8" cy="71.36" r="1.31" fill="#fff" stroke="#f4a87a" stroke-width="0.48"/>
<circle cx="567.8" cy="74.42" r="1.31" fill="#fff" stroke="#f4a87a" stroke-width="0.48"/>
<circle cx="569.3" cy="77.48" r="1.31" fill="#fff" stroke="#f4a87a" stroke-width="0.48"/>
<circle cx="570.8" cy="81.56" r="1.31" fill="#fff" stroke="#f4a87a" stroke-width="0.48"/>
<rect x="575" y="65.65" width="7" height="28.15" fill="#fdeadb" stroke="#f4a87a" stroke-width="0.5"/>
<line x1="578.5" y1="61.16" x2="578.5" y2="70.14" stroke="#f4a87a" stroke-width="0.5"/>
<line x1="577" y1="61.16" x2="580" y2="61.16" stroke="#f4a87a" stroke-width="0.5"/>
<line x1="577" y1="70.14" x2="580" y2="70.14" stroke="#f4a87a" stroke-width="0.5"/>
<circle cx="577" cy="56.06" r="1.31" fill="#fff" stroke="#f4a87a" stroke-width="0.48"/>
<circle cx="578.5" cy="63.2" r="1.31" fill="#fff" stroke="#f4a87a" stroke-width="0.48"/>
<circle cx="580" cy="65.24" r="1.31" fill="#fff" stroke="#f4a87a" stroke-width="0.48"/>
<circle cx="577" cy="69.32" r="1.31" fill="#fff" stroke="#f4a87a" stroke-width="0.48"/>
<circle cx="578.5" cy="72.38" r="1.31" fill="#fff" stroke="#f4a87a" stroke-width="0.48"/>
<circle cx="580" cy="73.4" r="1.31" fill="#fff" stroke="#f4a87a" stroke-width="0.48"/>
<line x1="549.5" y1="21.2" x2="559.4" y2="21.2" stroke="#444" stroke-width="0.6"/>
<text x="554.45" y="22.8" font-size="7.8" fill="#1a1a1a" text-anchor="middle">**</text>
<line x1="560.8" y1="21.2" x2="581.2" y2="21.2" stroke="#444" stroke-width="0.6"/>
<text x="571" y="22.8" font-size="7.8" fill="#1a1a1a" text-anchor="middle">**</text>
<text x="544.5" y="102.8" font-size="6.5" fill="#1a1a1a" text-anchor="end">CNO:</text>
<text x="544.5" y="110.8" font-size="6.5" fill="#1a1a1a" text-anchor="end">Novelty:</text>
<text x="550.6" y="102.8" font-size="6.5" fill="#1a1a1a" text-anchor="middle">−</text>
<text x="550.6" y="110.8" font-size="6.5" fill="#1a1a1a" text-anchor="middle">−</text>
<text x="560" y="102.8" font-size="6.5" fill="#1a1a1a" text-anchor="middle">−</text>
<text x="560" y="110.8" font-size="6.5" fill="#1a1a1a" text-anchor="middle">+</text>
<text x="569.3" y="102.8" font-size="6.5" fill="#1a1a1a" text-anchor="middle">+</text>
<text x="569.3" y="110.8" font-size="6.5" fill="#1a1a1a" text-anchor="middle">−</text>
<text x="578.5" y="102.8" font-size="6.5" fill="#1a1a1a" text-anchor="middle">+</text>
<text x="578.5" y="110.8" font-size="6.5" fill="#1a1a1a" text-anchor="middle">+</text>
<line x1="545.4" y1="115" x2="583.6" y2="115" stroke="#444" stroke-width="0.6"/>
<text x="564" y="122.6" font-size="6.6" fill="#1a1a1a" text-anchor="middle" font-style="italic">Trpv1<tspan dy="-2.51" font-size="3.96">AAV-hM3Dq</tspan><tspan dy="2.51">​</tspan></text>
</g>
<g id="panel_h">
<text x="591.5" y="7.2" font-size="9.8" fill="#000" font-weight="bold" stroke="#000" stroke-width="0.35">h</text>
<text x="614.6" y="12.8" font-size="6.6" fill="#1a1a1a" font-style="italic">Trpv1<tspan dy="-2.51" font-size="3.96">AAV-hM3Dq</tspan><tspan dy="2.51">​</tspan></text>
<line x1="618.8" y1="22.5" x2="618.8" y2="93.7" stroke="#444" stroke-width="0.6"/>
<line x1="615.5" y1="22.5" x2="618.8" y2="22.5" stroke="#444" stroke-width="0.6"/>
<text x="614.1" y="24.75" font-size="6.2" fill="#1a1a1a" text-anchor="end">0.3</text>
<line x1="615.5" y1="40.3" x2="618.8" y2="40.3" stroke="#444" stroke-width="0.6"/>
<text x="614.1" y="42.55" font-size="6.2" fill="#1a1a1a" text-anchor="end">0.2</text>
<line x1="615.5" y1="58.1" x2="618.8" y2="58.1" stroke="#444" stroke-width="0.6"/>
<text x="614.1" y="60.35" font-size="6.2" fill="#1a1a1a" text-anchor="end">0.1</text>
<line x1="615.5" y1="75.9" x2="618.8" y2="75.9" stroke="#444" stroke-width="0.6"/>
<text x="614.1" y="78.15" font-size="6.2" fill="#1a1a1a" text-anchor="end">0</text>
<line x1="615.5" y1="93.7" x2="618.8" y2="93.7" stroke="#444" stroke-width="0.6"/>
<text x="614.1" y="95.95" font-size="6.2" fill="#1a1a1a" text-anchor="end">−0.1</text>
<line x1="618.8" y1="75.9" x2="647" y2="75.9" stroke="#444" stroke-width="0.6"/>
<text font-size="7" fill="#1a1a1a" text-anchor="middle" transform="translate(597.6 60.5) rotate(-90)">Recognition index</text>
<rect x="622" y="54.54" width="10" height="21.36" fill="#707070"/>
<rect x="634.5" y="70.56" width="9" height="5.34" fill="#f9b48c"/>
<line x1="627" y1="27.84" x2="639" y2="59.88" stroke="#222" stroke-width="0.55"/>
<line x1="627" y1="34.96" x2="639" y2="58.1" stroke="#222" stroke-width="0.55"/>
<line x1="627" y1="36.74" x2="639" y2="72.34" stroke="#222" stroke-width="0.55"/>
<line x1="627" y1="38.52" x2="639" y2="61.66" stroke="#222" stroke-width="0.55"/>
<line x1="627" y1="40.3" x2="639" y2="79.46" stroke="#222" stroke-width="0.55"/>
<line x1="627" y1="42.08" x2="639" y2="56.32" stroke="#222" stroke-width="0.55"/>
<line x1="627" y1="47.42" x2="639" y2="75.9" stroke="#222" stroke-width="0.55"/>
<line x1="627" y1="52.76" x2="639" y2="67" stroke="#222" stroke-width="0.55"/>
<line x1="627" y1="58.1" x2="639" y2="68.78" stroke="#222" stroke-width="0.55"/>
<line x1="627" y1="61.66" x2="639" y2="83.02" stroke="#222" stroke-width="0.55"/>
<line x1="627" y1="70.56" x2="639" y2="86.58" stroke="#222" stroke-width="0.55"/>
<line x1="627" y1="84.8" x2="639" y2="70.56" stroke="#222" stroke-width="0.55"/>
<line x1="627" y1="43.86" x2="639" y2="88.36" stroke="#222" stroke-width="0.55"/>
<line x1="627" y1="54.54" x2="639" y2="54.54" stroke="#222" stroke-width="0.55"/>
<circle cx="627" cy="27.84" r="1.25" fill="#fff" stroke="#888" stroke-width="0.48"/>
<circle cx="627" cy="34.96" r="1.25" fill="#fff" stroke="#888" stroke-width="0.48"/>
<circle cx="627" cy="36.74" r="1.25" fill="#fff" stroke="#888" stroke-width="0.48"/>
<circle cx="627" cy="38.52" r="1.25" fill="#fff" stroke="#888" stroke-width="0.48"/>
<circle cx="627" cy="40.3" r="1.25" fill="#fff" stroke="#888" stroke-width="0.48"/>
<circle cx="627" cy="42.08" r="1.25" fill="#fff" stroke="#888" stroke-width="0.48"/>
<circle cx="627" cy="47.42" r="1.25" fill="#fff" stroke="#888" stroke-width="0.48"/>
<circle cx="627" cy="52.76" r="1.25" fill="#fff" stroke="#888" stroke-width="0.48"/>
<circle cx="627" cy="58.1" r="1.25" fill="#fff" stroke="#888" stroke-width="0.48"/>
<circle cx="627" cy="61.66" r="1.25" fill="#fff" stroke="#888" stroke-width="0.48"/>
<circle cx="627" cy="70.56" r="1.25" fill="#fff" stroke="#888" stroke-width="0.48"/>
<circle cx="627" cy="84.8" r="1.25" fill="#fff" stroke="#888" stroke-width="0.48"/>
<circle cx="627" cy="43.86" r="1.25" fill="#fff" stroke="#888" stroke-width="0.48"/>
<circle cx="627" cy="54.54" r="1.25" fill="#fff" stroke="#888" stroke-width="0.48"/>
<circle cx="639" cy="59.88" r="1.25" fill="#fff" stroke="#f4a87a" stroke-width="0.48"/>
<circle cx="639" cy="58.1" r="1.25" fill="#fff" stroke="#f4a87a" stroke-width="0.48"/>
<circle cx="639" cy="72.34" r="1.25" fill="#fff" stroke="#f4a87a" stroke-width="0.48"/>
<circle cx="639" cy="61.66" r="1.25" fill="#fff" stroke="#f4a87a" stroke-width="0.48"/>
<circle cx="639" cy="79.46" r="1.25" fill="#fff" stroke="#f4a87a" stroke-width="0.48"/>
<circle cx="639" cy="56.32" r="1.25" fill="#fff" stroke="#f4a87a" stroke-width="0.48"/>
<circle cx="639" cy="75.9" r="1.25" fill="#fff" stroke="#f4a87a" stroke-width="0.48"/>
<circle cx="639" cy="67" r="1.25" fill="#fff" stroke="#f4a87a" stroke-width="0.48"/>
<circle cx="639" cy="68.78" r="1.25" fill="#fff" stroke="#f4a87a" stroke-width="0.48"/>
<circle cx="639" cy="83.02" r="1.25" fill="#fff" stroke="#f4a87a" stroke-width="0.48"/>
<circle cx="639" cy="86.58" r="1.25" fill="#fff" stroke="#f4a87a" stroke-width="0.48"/>
<circle cx="639" cy="70.56" r="1.25" fill="#fff" stroke="#f4a87a" stroke-width="0.48"/>
<circle cx="639" cy="88.36" r="1.25" fill="#fff" stroke="#f4a87a" stroke-width="0.48"/>
<circle cx="639" cy="54.54" r="1.25" fill="#fff" stroke="#f4a87a" stroke-width="0.48"/>
<line x1="625" y1="23" x2="638.5" y2="23" stroke="#444" stroke-width="0.6"/>
<text x="631.75" y="24.6" font-size="7.8" fill="#1a1a1a" text-anchor="middle">**</text>
<text font-size="6.5" fill="#1a1a1a" text-anchor="end" transform="translate(628.6 96) rotate(-90)">Vehicle</text>
<text font-size="6.5" fill="#1a1a1a" text-anchor="end" transform="translate(638.6 96) rotate(-90)">CNO</text>
</g>
<g id="panel_i">
<text x="0.5" y="144.5" font-size="9.8" fill="#000" font-weight="bold" stroke="#000" stroke-width="0.35">i</text>
<text x="50" y="159.6" font-size="6.5" fill="#1a1a1a" text-anchor="middle">Vehicle</text>
<text x="117.8" y="159.6" font-size="6.5" fill="#1a1a1a" text-anchor="middle">CNO</text>
<g clip-path="url(#cp10)">
<rect x="16.8" y="162.2" width="66" height="32.8" fill="#0c3a09"/>
<ellipse cx="49.8" cy="175.32" rx="33" ry="11.81" fill="#114a0d" opacity="0.45" filter="url(#b4)"/>
<g filter="url(#b05)" fill="none" stroke="#062005" stroke-width="1.4" opacity="0.7"><path d="M23.4 175.98 C33.3 166.14 49.8 169.42 80.82 191.06"/><path d="M31.32 190.08 C36.6 176.96 56.4 180.24 74.88 193.36"/></g>
<path d="M13.5 198.28 L13.5 192.38 Q49.8 189.1 86.1 193.03 L86.1 198.28 Z" fill="#041404" opacity="0.8" filter="url(#b2)"/>
<rect x="16.8" y="162.2" width="66" height="32.8" fill="#2a8426" filter="url(#nzG)" opacity="0.12"/>
<rect x="16.8" y="162.2" width="66" height="32.8" fill="#041604" filter="url(#nzG2)" opacity="0.2"/>
</g>
<g clip-path="url(#cp11)">
<rect x="85" y="162.2" width="65.8" height="32.8" fill="#0f460b"/>
<ellipse cx="117.9" cy="175.32" rx="32.9" ry="11.81" fill="#175c13" opacity="0.45" filter="url(#b4)"/>
<g filter="url(#b05)" fill="none" stroke="#062005" stroke-width="1.4" opacity="0.7"><path d="M91.58 175.98 C101.45 166.14 117.9 169.42 148.83 191.06"/><path d="M99.48 190.08 C104.74 176.96 124.48 180.24 142.9 193.36"/></g>
<path d="M81.71 198.28 L81.71 192.38 Q117.9 189.1 154.09 193.03 L154.09 198.28 Z" fill="#041404" opacity="0.8" filter="url(#b2)"/>
<rect x="85" y="162.2" width="65.8" height="32.8" fill="#2a8426" filter="url(#nzG)" opacity="0.12"/>
<rect x="85" y="162.2" width="65.8" height="32.8" fill="#041604" filter="url(#nzG2)" opacity="0.2"/>
</g>
<g clip-path="url(#cp12)">
<rect x="16.8" y="197.4" width="66" height="32.8" fill="#13540f"/>
<ellipse cx="49.8" cy="210.52" rx="33" ry="11.81" fill="#1a6815" opacity="0.45" filter="url(#b4)"/>
<g filter="url(#b05)" fill="none" stroke="#062005" stroke-width="1.4" opacity="0.7"><path d="M23.4 211.18 C33.3 201.34 49.8 204.62 80.82 226.26"/><path d="M31.32 225.28 C36.6 212.16 56.4 215.44 74.88 228.56"/></g>
<path d="M13.5 233.48 L13.5 227.58 Q49.8 224.3 86.1 228.23 L86.1 233.48 Z" fill="#041404" opacity="0.8" filter="url(#b2)"/>
<rect x="16.8" y="197.4" width="66" height="32.8" fill="#2a8426" filter="url(#nzG)" opacity="0.12"/>
<rect x="16.8" y="197.4" width="66" height="32.8" fill="#041604" filter="url(#nzG2)" opacity="0.2"/>
</g>
<g clip-path="url(#cp13)">
<rect x="85" y="197.4" width="65.8" height="32.8" fill="#12500e"/>
<ellipse cx="117.9" cy="210.52" rx="32.9" ry="11.81" fill="#196414" opacity="0.45" filter="url(#b4)"/>
<g filter="url(#b05)" fill="none" stroke="#062005" stroke-width="1.4" opacity="0.7"><path d="M91.58 211.18 C101.45 201.34 117.9 204.62 148.83 226.26"/><path d="M99.48 225.28 C104.74 212.16 124.48 215.44 142.9 228.56"/></g>
<path d="M81.71 233.48 L81.71 227.58 Q117.9 224.3 154.09 228.23 L154.09 233.48 Z" fill="#041404" opacity="0.8" filter="url(#b2)"/>
<rect x="85" y="197.4" width="65.8" height="32.8" fill="#2a8426" filter="url(#nzG)" opacity="0.12"/>
<rect x="85" y="197.4" width="65.8" height="32.8" fill="#041604" filter="url(#nzG2)" opacity="0.2"/>
</g>
<text font-size="6.5" fill="#1a1a1a" text-anchor="middle" transform="translate(13.2 178.5) rotate(-90)">Young</text>
<text font-size="6.6" fill="#1a1a1a" text-anchor="middle" transform="translate(6.2 214) rotate(-90)">Y co-housed</text>
<text font-size="6.6" fill="#1a1a1a" text-anchor="middle" transform="translate(13.2 214) rotate(-90)">with O</text>
<text x="84" y="238.6" font-size="6.5" fill="#2f9d7e" text-anchor="middle">FOS</text>
</g>
<g id="panel_j">
<text x="158.6" y="145.6" font-size="9.8" fill="#000" font-weight="bold" stroke="#000" stroke-width="0.35">j</text>
<text x="189.5" y="147.2" font-size="6.6" fill="#1a1a1a" font-style="italic">Trpv1<tspan dy="-2.51" font-size="3.96">AAV-hM3Dq</tspan><tspan dy="2.51">​</tspan></text>
<line x1="188" y1="149.6" x2="188" y2="230.8" stroke="#444" stroke-width="0.6"/>
<line x1="184.7" y1="149.6" x2="188" y2="149.6" stroke="#444" stroke-width="0.6"/>
<text x="183.3" y="151.85" font-size="6.2" fill="#1a1a1a" text-anchor="end">300</text>
<line x1="184.7" y1="176.67" x2="188" y2="176.67" stroke="#444" stroke-width="0.6"/>
<text x="183.3" y="178.92" font-size="6.2" fill="#1a1a1a" text-anchor="end">200</text>
<line x1="184.7" y1="203.73" x2="188" y2="203.73" stroke="#444" stroke-width="0.6"/>
<text x="183.3" y="205.98" font-size="6.2" fill="#1a1a1a" text-anchor="end">100</text>
<line x1="184.7" y1="230.8" x2="188" y2="230.8" stroke="#444" stroke-width="0.6"/>
<text x="183.3" y="233.05" font-size="6.2" fill="#1a1a1a" text-anchor="end">0</text>
<line x1="188" y1="230.8" x2="226" y2="230.8" stroke="#444" stroke-width="0.6"/>
<text font-size="6.5" fill="#1a1a1a" text-anchor="middle" transform="translate(166.5 190) rotate(-90)">FOS<tspan dy="-2.47" font-size="3.9">+</tspan><tspan dy="2.47">​</tspan> cells per mm<tspan dy="-2.47" font-size="3.9">2</tspan><tspan dy="2.47">​</tspan></text>
<rect x="190" y="173.15" width="6.2" height="57.65" fill="#707070"/>
<line x1="193.1" y1="170.44" x2="193.1" y2="175.85" stroke="#444" stroke-width="0.5"/>
<line x1="191.6" y1="170.44" x2="194.6" y2="170.44" stroke="#444" stroke-width="0.5"/>
<line x1="191.6" y1="175.85" x2="194.6" y2="175.85" stroke="#444" stroke-width="0.5"/>
<circle cx="191.8" cy="167.19" r="1.31" fill="#fff" stroke="#777" stroke-width="0.48"/>
<circle cx="193.1" cy="171.25" r="1.31" fill="#fff" stroke="#777" stroke-width="0.48"/>
<circle cx="194.4" cy="172.61" r="1.31" fill="#fff" stroke="#777" stroke-width="0.48"/>
<circle cx="191.8" cy="175.31" r="1.31" fill="#fff" stroke="#777" stroke-width="0.48"/>
<circle cx="193.1" cy="178.02" r="1.31" fill="#fff" stroke="#777" stroke-width="0.48"/>
<rect x="198.2" y="173.15" width="6.8" height="57.65" fill="#e0e0e0" stroke="#8c8c8c" stroke-width="0.5"/>
<line x1="201.6" y1="169.9" x2="201.6" y2="176.4" stroke="#888" stroke-width="0.5"/>
<line x1="200.1" y1="169.9" x2="203.1" y2="169.9" stroke="#888" stroke-width="0.5"/>
<line x1="200.1" y1="176.4" x2="203.1" y2="176.4" stroke="#888" stroke-width="0.5"/>
<circle cx="200.3" cy="165.84" r="1.31" fill="#fff" stroke="#888" stroke-width="0.48"/>
<circle cx="201.6" cy="169.9" r="1.31" fill="#fff" stroke="#888" stroke-width="0.48"/>
<circle cx="202.9" cy="172.61" r="1.31" fill="#fff" stroke="#888" stroke-width="0.48"/>
<circle cx="200.3" cy="176.67" r="1.31" fill="#fff" stroke="#888" stroke-width="0.48"/>
<circle cx="201.6" cy="180.73" r="1.31" fill="#fff" stroke="#888" stroke-width="0.48"/>
<rect x="207.5" y="214.56" width="6.3" height="16.24" fill="#f0705c"/>
<line x1="210.65" y1="213.48" x2="210.65" y2="215.64" stroke="#f0604a" stroke-width="0.5"/>
<line x1="209.15" y1="213.48" x2="212.15" y2="213.48" stroke="#f0604a" stroke-width="0.5"/>
<line x1="209.15" y1="215.64" x2="212.15" y2="215.64" stroke="#f0604a" stroke-width="0.5"/>
<circle cx="209.35" cy="211.85" r="1.31" fill="#fff" stroke="#f0604a" stroke-width="0.48"/>
<circle cx="210.65" cy="212.94" r="1.31" fill="#fff" stroke="#f0604a" stroke-width="0.48"/>
<circle cx="211.95" cy="214.02" r="1.31" fill="#fff" stroke="#f0604a" stroke-width="0.48"/>
<circle cx="209.35" cy="215.1" r="1.31" fill="#fff" stroke="#f0604a" stroke-width="0.48"/>
<circle cx="210.65" cy="216.18" r="1.31" fill="#fff" stroke="#f0604a" stroke-width="0.48"/>
<rect x="217" y="190.2" width="7.7" height="40.6" fill="#fcdcd5" stroke="#f0604a" stroke-width="0.5"/>
<line x1="220.85" y1="184.79" x2="220.85" y2="195.61" stroke="#f0604a" stroke-width="0.5"/>
<line x1="219.35" y1="184.79" x2="222.35" y2="184.79" stroke="#f0604a" stroke-width="0.5"/>
<line x1="219.35" y1="195.61" x2="222.35" y2="195.61" stroke="#f0604a" stroke-width="0.5"/>
<circle cx="219.55" cy="170.71" r="1.31" fill="#fff" stroke="#f0604a" stroke-width="0.48"/>
<circle cx="220.85" cy="182.08" r="1.31" fill="#fff" stroke="#f0604a" stroke-width="0.48"/>
<circle cx="222.15" cy="183.43" r="1.31" fill="#fff" stroke="#f0604a" stroke-width="0.48"/>
<circle cx="219.55" cy="190.2" r="1.31" fill="#fff" stroke="#f0604a" stroke-width="0.48"/>
<circle cx="220.85" cy="201.03" r="1.31" fill="#fff" stroke="#f0604a" stroke-width="0.48"/>
<circle cx="222.15" cy="206.44" r="1.31" fill="#fff" stroke="#f0604a" stroke-width="0.48"/>
<line x1="193.8" y1="160" x2="210.5" y2="160" stroke="#444" stroke-width="0.6"/>
<text x="202.15" y="161.6" font-size="7.8" fill="#1a1a1a" text-anchor="middle">**</text>
<line x1="213.5" y1="160" x2="223.8" y2="160" stroke="#444" stroke-width="0.6"/>
<text x="218.65" y="161.6" font-size="7.8" fill="#1a1a1a" text-anchor="middle">*</text>
<text x="186.5" y="242.4" font-size="6.5" fill="#1a1a1a" text-anchor="end">CNO:</text>
<text x="186.5" y="249.8" font-size="6.5" fill="#1a1a1a" text-anchor="end">Co-housed</text>
<text x="186.5" y="256.8" font-size="6.5" fill="#1a1a1a" text-anchor="end">with old:</text>
<text x="192.6" y="242.4" font-size="6.5" fill="#1a1a1a" text-anchor="middle">−</text>
<text x="192.6" y="252.6" font-size="6.5" fill="#1a1a1a" text-anchor="middle">−</text>
<text x="201.8" y="242.4" font-size="6.5" fill="#1a1a1a" text-anchor="middle">+</text>
<text x="201.8" y="252.6" font-size="6.5" fill="#1a1a1a" text-anchor="middle">−</text>
<text x="210.8" y="242.4" font-size="6.5" fill="#1a1a1a" text-anchor="middle">−</text>
<text x="210.8" y="252.6" font-size="6.5" fill="#1a1a1a" text-anchor="middle">+</text>
<text x="220.8" y="242.4" font-size="6.5" fill="#1a1a1a" text-anchor="middle">+</text>
<text x="220.8" y="252.6" font-size="6.5" fill="#1a1a1a" text-anchor="middle">+</text>
</g>
<g id="panel_k">
<text x="236.5" y="145.6" font-size="9.8" fill="#000" font-weight="bold" stroke="#000" stroke-width="0.35">k</text>
<text x="269" y="147.8" font-size="6.6" fill="#1a1a1a" font-style="italic">Trpv1<tspan dy="-2.51" font-size="3.96">AAV-hM3Dq</tspan><tspan dy="2.51">​</tspan></text>
<line x1="264.6" y1="160.25" x2="264.6" y2="230.75" stroke="#444" stroke-width="0.6"/>
<line x1="261.3" y1="160.25" x2="264.6" y2="160.25" stroke="#444" stroke-width="0.6"/>
<text x="259.9" y="162.5" font-size="6.2" fill="#1a1a1a" text-anchor="end">0.4</text>
<line x1="261.3" y1="177.88" x2="264.6" y2="177.88" stroke="#444" stroke-width="0.6"/>
<text x="259.9" y="180.12" font-size="6.2" fill="#1a1a1a" text-anchor="end">0.2</text>
<line x1="261.3" y1="195.5" x2="264.6" y2="195.5" stroke="#444" stroke-width="0.6"/>
<text x="259.9" y="197.75" font-size="6.2" fill="#1a1a1a" text-anchor="end">0</text>
<line x1="261.3" y1="213.12" x2="264.6" y2="213.12" stroke="#444" stroke-width="0.6"/>
<text x="259.9" y="215.38" font-size="6.2" fill="#1a1a1a" text-anchor="end">−0.2</text>
<line x1="261.3" y1="230.75" x2="264.6" y2="230.75" stroke="#444" stroke-width="0.6"/>
<text x="259.9" y="233" font-size="6.2" fill="#1a1a1a" text-anchor="end">−0.4</text>
<line x1="264.6" y1="195.5" x2="311" y2="195.5" stroke="#444" stroke-width="0.6"/>
<text font-size="6.5" fill="#1a1a1a" text-anchor="middle" transform="translate(241 195) rotate(-90)">Recognition index</text>
<rect x="267" y="187.57" width="7.8" height="7.93" fill="#707070"/>
<rect x="276.2" y="188.89" width="7.6" height="6.61" fill="#e0e0e0" stroke="#8c8c8c" stroke-width="0.5"/>
<line x1="271" y1="169.06" x2="279.8" y2="193.74" stroke="#222" stroke-width="0.5"/>
<line x1="271" y1="201.67" x2="279.8" y2="174.35" stroke="#222" stroke-width="0.5"/>
<line x1="271" y1="177.88" x2="279.8" y2="199.91" stroke="#222" stroke-width="0.5"/>
<line x1="271" y1="202.11" x2="279.8" y2="177.91" stroke="#222" stroke-width="0.5"/>
<line x1="271" y1="193.86" x2="279.8" y2="194.39" stroke="#222" stroke-width="0.5"/>
<line x1="271" y1="169.21" x2="279.8" y2="187.94" stroke="#222" stroke-width="0.5"/>
<line x1="271" y1="174.54" x2="279.8" y2="187.77" stroke="#222" stroke-width="0.5"/>
<line x1="271" y1="181.15" x2="279.8" y2="196.67" stroke="#222" stroke-width="0.5"/>
<line x1="271" y1="181.29" x2="279.8" y2="177.07" stroke="#222" stroke-width="0.5"/>
<line x1="271" y1="185.03" x2="279.8" y2="180.54" stroke="#222" stroke-width="0.5"/>
<line x1="271" y1="180.07" x2="279.8" y2="199.04" stroke="#222" stroke-width="0.5"/>
<line x1="271" y1="177.16" x2="279.8" y2="184.64" stroke="#222" stroke-width="0.5"/>
<line x1="271" y1="192.46" x2="279.8" y2="199.94" stroke="#222" stroke-width="0.5"/>
<line x1="271" y1="173.57" x2="279.8" y2="187.87" stroke="#222" stroke-width="0.5"/>
<line x1="271" y1="178.48" x2="279.8" y2="176.78" stroke="#222" stroke-width="0.5"/>
<line x1="271" y1="178.64" x2="279.8" y2="175.62" stroke="#222" stroke-width="0.5"/>
<circle cx="271" cy="169.06" r="1.25" fill="#fff" stroke="#888" stroke-width="0.48"/>
<circle cx="271" cy="201.67" r="1.25" fill="#fff" stroke="#888" stroke-width="0.48"/>
<circle cx="271" cy="177.88" r="1.25" fill="#fff" stroke="#888" stroke-width="0.48"/>
<circle cx="271" cy="202.11" r="1.25" fill="#fff" stroke="#888" stroke-width="0.48"/>
<circle cx="271" cy="193.86" r="1.25" fill="#fff" stroke="#888" stroke-width="0.48"/>
<circle cx="271" cy="169.21" r="1.25" fill="#fff" stroke="#888" stroke-width="0.48"/>
<circle cx="271" cy="174.54" r="1.25" fill="#fff" stroke="#888" stroke-width="0.48"/>
<circle cx="271" cy="181.15" r="1.25" fill="#fff" stroke="#888" stroke-width="0.48"/>
<circle cx="271" cy="181.29" r="1.25" fill="#fff" stroke="#888" stroke-width="0.48"/>
<circle cx="271" cy="185.03" r="1.25" fill="#fff" stroke="#888" stroke-width="0.48"/>
<circle cx="271" cy="180.07" r="1.25" fill="#fff" stroke="#888" stroke-width="0.48"/>
<circle cx="271" cy="177.16" r="1.25" fill="#fff" stroke="#888" stroke-width="0.48"/>
<circle cx="271" cy="192.46" r="1.25" fill="#fff" stroke="#888" stroke-width="0.48"/>
<circle cx="271" cy="173.57" r="1.25" fill="#fff" stroke="#888" stroke-width="0.48"/>
<circle cx="271" cy="178.48" r="1.25" fill="#fff" stroke="#888" stroke-width="0.48"/>
<circle cx="271" cy="178.64" r="1.25" fill="#fff" stroke="#888" stroke-width="0.48"/>
<circle cx="279.8" cy="193.74" r="1.25" fill="#fff" stroke="#888" stroke-width="0.48"/>
<circle cx="279.8" cy="174.35" r="1.25" fill="#fff" stroke="#888" stroke-width="0.48"/>
<circle cx="279.8" cy="199.91" r="1.25" fill="#fff" stroke="#888" stroke-width="0.48"/>
<circle cx="279.8" cy="177.91" r="1.25" fill="#fff" stroke="#888" stroke-width="0.48"/>
<circle cx="279.8" cy="194.39" r="1.25" fill="#fff" stroke="#888" stroke-width="0.48"/>
<circle cx="279.8" cy="187.94" r="1.25" fill="#fff" stroke="#888" stroke-width="0.48"/>
<circle cx="279.8" cy="187.77" r="1.25" fill="#fff" stroke="#888" stroke-width="0.48"/>
<circle cx="279.8" cy="196.67" r="1.25" fill="#fff" stroke="#888" stroke-width="0.48"/>
<circle cx="279.8" cy="177.07" r="1.25" fill="#fff" stroke="#888" stroke-width="0.48"/>
<circle cx="279.8" cy="180.54" r="1.25" fill="#fff" stroke="#888" stroke-width="0.48"/>
<circle cx="279.8" cy="199.04" r="1.25" fill="#fff" stroke="#888" stroke-width="0.48"/>
<circle cx="279.8" cy="184.64" r="1.25" fill="#fff" stroke="#888" stroke-width="0.48"/>
<circle cx="279.8" cy="199.94" r="1.25" fill="#fff" stroke="#888" stroke-width="0.48"/>
<circle cx="279.8" cy="187.87" r="1.25" fill="#fff" stroke="#888" stroke-width="0.48"/>
<circle cx="279.8" cy="176.78" r="1.25" fill="#fff" stroke="#888" stroke-width="0.48"/>
<circle cx="279.8" cy="175.62" r="1.25" fill="#fff" stroke="#888" stroke-width="0.48"/>
<line x1="295.3" y1="186.69" x2="304.4" y2="179.64" stroke="#f0604a" stroke-width="0.6"/>
<line x1="295.3" y1="190.21" x2="304.4" y2="182.28" stroke="#f0604a" stroke-width="0.6"/>
<line x1="295.3" y1="191.97" x2="304.4" y2="184.93" stroke="#f0604a" stroke-width="0.6"/>
<line x1="295.3" y1="193.74" x2="304.4" y2="186.69" stroke="#f0604a" stroke-width="0.6"/>
<line x1="295.3" y1="195.5" x2="304.4" y2="187.57" stroke="#f0604a" stroke-width="0.6"/>
<line x1="295.3" y1="196.38" x2="304.4" y2="189.33" stroke="#f0604a" stroke-width="0.6"/>
<line x1="295.3" y1="198.14" x2="304.4" y2="190.21" stroke="#f0604a" stroke-width="0.6"/>
<line x1="295.3" y1="199.03" x2="304.4" y2="191.09" stroke="#f0604a" stroke-width="0.6"/>
<line x1="295.3" y1="199.91" x2="304.4" y2="193.74" stroke="#f0604a" stroke-width="0.6"/>
<line x1="295.3" y1="201.67" x2="304.4" y2="195.5" stroke="#f0604a" stroke-width="0.6"/>
<line x1="295.3" y1="203.43" x2="304.4" y2="192.86" stroke="#f0604a" stroke-width="0.6"/>
<line x1="295.3" y1="206.07" x2="304.4" y2="199.91" stroke="#f0604a" stroke-width="0.6"/>
<line x1="295.3" y1="208.72" x2="304.4" y2="188.45" stroke="#f0604a" stroke-width="0.6"/>
<line x1="295.3" y1="213.12" x2="304.4" y2="197.26" stroke="#f0604a" stroke-width="0.6"/>
<line x1="295.3" y1="221.94" x2="304.4" y2="202.55" stroke="#f0604a" stroke-width="0.6"/>
<line x1="295.3" y1="217.53" x2="304.4" y2="191.97" stroke="#f0604a" stroke-width="0.6"/>
<circle cx="295.3" cy="186.69" r="1.25" fill="#fff" stroke="#f0604a" stroke-width="0.48"/>
<circle cx="295.3" cy="190.21" r="1.25" fill="#fff" stroke="#f0604a" stroke-width="0.48"/>
<circle cx="295.3" cy="191.97" r="1.25" fill="#fff" stroke="#f0604a" stroke-width="0.48"/>
<circle cx="295.3" cy="193.74" r="1.25" fill="#fff" stroke="#f0604a" stroke-width="0.48"/>
<circle cx="295.3" cy="195.5" r="1.25" fill="#fff" stroke="#f0604a" stroke-width="0.48"/>
<circle cx="295.3" cy="196.38" r="1.25" fill="#fff" stroke="#f0604a" stroke-width="0.48"/>
<circle cx="295.3" cy="198.14" r="1.25" fill="#fff" stroke="#f0604a" stroke-width="0.48"/>
<circle cx="295.3" cy="199.03" r="1.25" fill="#fff" stroke="#f0604a" stroke-width="0.48"/>
<circle cx="295.3" cy="199.91" r="1.25" fill="#fff" stroke="#f0604a" stroke-width="0.48"/>
<circle cx="295.3" cy="201.67" r="1.25" fill="#fff" stroke="#f0604a" stroke-width="0.48"/>
<circle cx="295.3" cy="203.43" r="1.25" fill="#fff" stroke="#f0604a" stroke-width="0.48"/>
<circle cx="295.3" cy="206.07" r="1.25" fill="#fff" stroke="#f0604a" stroke-width="0.48"/>
<circle cx="295.3" cy="208.72" r="1.25" fill="#fff" stroke="#f0604a" stroke-width="0.48"/>
<circle cx="295.3" cy="213.12" r="1.25" fill="#fff" stroke="#f0604a" stroke-width="0.48"/>
<circle cx="295.3" cy="221.94" r="1.25" fill="#fff" stroke="#f0604a" stroke-width="0.48"/>
<circle cx="295.3" cy="217.53" r="1.25" fill="#fff" stroke="#f0604a" stroke-width="0.48"/>
<circle cx="304.4" cy="179.64" r="1.25" fill="#fff" stroke="#f0604a" stroke-width="0.48"/>
<circle cx="304.4" cy="182.28" r="1.25" fill="#fff" stroke="#f0604a" stroke-width="0.48"/>
<circle cx="304.4" cy="184.93" r="1.25" fill="#fff" stroke="#f0604a" stroke-width="0.48"/>
<circle cx="304.4" cy="186.69" r="1.25" fill="#fff" stroke="#f0604a" stroke-width="0.48"/>
<circle cx="304.4" cy="187.57" r="1.25" fill="#fff" stroke="#f0604a" stroke-width="0.48"/>
<circle cx="304.4" cy="189.33" r="1.25" fill="#fff" stroke="#f0604a" stroke-width="0.48"/>
<circle cx="304.4" cy="190.21" r="1.25" fill="#fff" stroke="#f0604a" stroke-width="0.48"/>
<circle cx="304.4" cy="191.09" r="1.25" fill="#fff" stroke="#f0604a" stroke-width="0.48"/>
<circle cx="304.4" cy="193.74" r="1.25" fill="#fff" stroke="#f0604a" stroke-width="0.48"/>
<circle cx="304.4" cy="195.5" r="1.25" fill="#fff" stroke="#f0604a" stroke-width="0.48"/>
<circle cx="304.4" cy="192.86" r="1.25" fill="#fff" stroke="#f0604a" stroke-width="0.48"/>
<circle cx="304.4" cy="199.91" r="1.25" fill="#fff" stroke="#f0604a" stroke-width="0.48"/>
<circle cx="304.4" cy="188.45" r="1.25" fill="#fff" stroke="#f0604a" stroke-width="0.48"/>
<circle cx="304.4" cy="197.26" r="1.25" fill="#fff" stroke="#f0604a" stroke-width="0.48"/>
<circle cx="304.4" cy="202.55" r="1.25" fill="#fff" stroke="#f0604a" stroke-width="0.48"/>
<circle cx="304.4" cy="191.97" r="1.25" fill="#fff" stroke="#f0604a" stroke-width="0.48"/>
<line x1="268.8" y1="160.2" x2="279.6" y2="160.2" stroke="#444" stroke-width="0.6"/>
<text x="274.2" y="158.4" font-size="6.3" fill="#1a1a1a" text-anchor="middle">NS</text>
<line x1="295.6" y1="160.2" x2="305.8" y2="160.2" stroke="#444" stroke-width="0.6"/>
<text x="300.7" y="161.8" font-size="7.8" fill="#1a1a1a" text-anchor="middle">**</text>
<text x="265.8" y="242.4" font-size="6.5" fill="#1a1a1a" text-anchor="end">CNO:</text>
<text x="265.8" y="249.8" font-size="6.5" fill="#1a1a1a" text-anchor="end">Co-housed</text>
<text x="265.8" y="256.8" font-size="6.5" fill="#1a1a1a" text-anchor="end">with old:</text>
<text x="271.1" y="242.4" font-size="6.5" fill="#1a1a1a" text-anchor="middle">−</text>
<text x="271.1" y="252.6" font-size="6.5" fill="#1a1a1a" text-anchor="middle">−</text>
<text x="280.3" y="242.4" font-size="6.5" fill="#1a1a1a" text-anchor="middle">+</text>
<text x="280.3" y="252.6" font-size="6.5" fill="#1a1a1a" text-anchor="middle">−</text>
<text x="295.4" y="242.4" font-size="6.5" fill="#1a1a1a" text-anchor="middle">−</text>
<text x="295.4" y="252.6" font-size="6.5" fill="#1a1a1a" text-anchor="middle">+</text>
<text x="304.4" y="242.4" font-size="6.5" fill="#1a1a1a" text-anchor="middle">+</text>
<text x="304.4" y="252.6" font-size="6.5" fill="#1a1a1a" text-anchor="middle">+</text>
</g>
<g id="panel_l">
<text x="320" y="145.6" font-size="9.8" fill="#000" font-weight="bold" stroke="#000" stroke-width="0.35">l</text>
<text x="366.5" y="158.2" font-size="6.5" fill="#1a1a1a" text-anchor="middle">Vehicle</text>
<text x="447.5" y="158.2" font-size="6.5" fill="#1a1a1a" text-anchor="middle">Capsaicin</text>
<g clip-path="url(#cp14)">
<rect x="326.8" y="160.6" width="78.8" height="34" fill="#0a0101"/>
<g filter="url(#b1)" fill="none" stroke="#6a0a0a" stroke-width="5.6" stroke-linecap="round"><path d="M334.68 171.48 C350.44 162.3 366.2 170.8 380.38 179.3 S397.72 179.3 401.66 181.68"/><path d="M354.38 190.52 C358.32 181 374.08 185.08 385.9 189.5 S400.08 189.5 401.66 182.36"/></g>
<g filter="url(#b1)" fill="none" stroke="#aa1210" stroke-width="2.6" stroke-linecap="round" opacity="0.7"><path d="M334.68 171.48 C350.44 162.3 366.2 170.8 380.38 179.3 S397.72 179.3 401.66 181.68"/><path d="M354.38 190.52 C358.32 181 374.08 185.08 385.9 189.5 S400.08 189.5 401.66 182.36"/></g>
<path d="M326.8 187.8 Q338.62 186.1 352.8 177.6" stroke="#b87818" stroke-width="3" stroke-dasharray="0.7 1.6" fill="none" filter="url(#b05)" opacity="0.6"/>
<rect x="326.8" y="160.6" width="78.8" height="34" fill="#c02018" filter="url(#nzR)" opacity="0.15"/>
</g>
<g clip-path="url(#cp15)">
<rect x="408.2" y="160.6" width="78.6" height="34" fill="#0a0101"/>
<g filter="url(#b1)" fill="none" stroke="#6a0a0a" stroke-width="3.81" stroke-linecap="round"><path d="M422.35 170.8 C439.64 168.08 459.29 172.84 482.87 178.96"/><path d="M434.92 189.5 C445.93 181.68 467.15 181 482.87 180.32"/></g>
<g filter="url(#b1)" fill="none" stroke="#aa1210" stroke-width="1.77" stroke-linecap="round" opacity="0.7"><path d="M422.35 170.8 C439.64 168.08 459.29 172.84 482.87 178.96"/><path d="M434.92 189.5 C445.93 181.68 467.15 181 482.87 180.32"/></g>
<path d="M410.56 184.4 C419.99 182.7 431.78 179.3 441.21 175.9" stroke="#6a1a10" stroke-width="2.4" fill="none" filter="url(#b1)"/>
<rect x="408.2" y="160.6" width="78.6" height="34" fill="#c02018" filter="url(#nzR)" opacity="0.15"/>
</g>
<g clip-path="url(#cp16)">
<rect x="326.8" y="197" width="78.8" height="34" fill="#0a0101"/>
<g filter="url(#b1)" fill="none" stroke="#6a0a0a" stroke-width="5.6" stroke-linecap="round"><path d="M330.74 210.6 C346.5 200.4 370.14 212.3 401.66 225.9"/><path d="M336.26 228.28 C342.56 217.4 374.08 220.8 400.08 227.6"/></g>
<g filter="url(#b1)" fill="none" stroke="#aa1210" stroke-width="2.6" stroke-linecap="round" opacity="0.7"><path d="M330.74 210.6 C346.5 200.4 370.14 212.3 401.66 225.9"/><path d="M336.26 228.28 C342.56 217.4 374.08 220.8 400.08 227.6"/></g>

<rect x="326.8" y="197" width="78.8" height="34" fill="#c02018" filter="url(#nzR)" opacity="0.15"/>
</g>
<g clip-path="url(#cp17)">
<rect x="408.2" y="197" width="78.6" height="34" fill="#0a0101"/>
<g filter="url(#b1)" fill="none" stroke="#6a0a0a" stroke-width="5.6" stroke-linecap="round"><path d="M412.13 211.28 C431.78 198.7 459.29 207.2 482.87 223.52"/><path d="M422.35 224.2 C431.78 214 459.29 215.7 481.3 225.9"/></g>
<g filter="url(#b1)" fill="none" stroke="#aa1210" stroke-width="2.6" stroke-linecap="round" opacity="0.7"><path d="M412.13 211.28 C431.78 198.7 459.29 207.2 482.87 223.52"/><path d="M422.35 224.2 C431.78 214 459.29 215.7 481.3 225.9"/></g>
<path d="M412.13 222.5 C417.63 217.4 423.92 215.7 431.78 214" stroke="#6a1210" stroke-width="3" fill="none" filter="url(#b1)"/>
<rect x="408.2" y="197" width="78.6" height="34" fill="#c02018" filter="url(#nzR)" opacity="0.15"/>
</g>
<rect x="474.6" y="161.4" width="10" height="1.4" fill="#fff"/>
<text font-size="6.5" fill="#1a1a1a" text-anchor="middle" transform="translate(324.6 177.6) rotate(-90)">Young</text>
<text font-size="6.5" fill="#1a1a1a" text-anchor="middle" transform="translate(324.6 214) rotate(-90)">Old</text>
<text x="407.2" y="238.8" font-size="6.5" fill="#e8413c" text-anchor="end">NeuN</text>
<text x="409.2" y="238.8" font-size="6.5" fill="#2f9d7e">FOS</text>
</g>
<g id="panel_m">
<text x="495.5" y="145.6" font-size="9.8" fill="#000" font-weight="bold" stroke="#000" stroke-width="0.35">m</text>
<line x1="524.6" y1="152.2" x2="524.6" y2="230.6" stroke="#444" stroke-width="0.6"/>
<line x1="521.3" y1="152.2" x2="524.6" y2="152.2" stroke="#444" stroke-width="0.6"/>
<text x="519.9" y="154.45" font-size="6.2" fill="#1a1a1a" text-anchor="end">200</text>
<line x1="521.3" y1="171.8" x2="524.6" y2="171.8" stroke="#444" stroke-width="0.6"/>
<text x="519.9" y="174.05" font-size="6.2" fill="#1a1a1a" text-anchor="end">150</text>
<line x1="521.3" y1="191.4" x2="524.6" y2="191.4" stroke="#444" stroke-width="0.6"/>
<text x="519.9" y="193.65" font-size="6.2" fill="#1a1a1a" text-anchor="end">100</text>
<line x1="521.3" y1="211" x2="524.6" y2="211" stroke="#444" stroke-width="0.6"/>
<text x="519.9" y="213.25" font-size="6.2" fill="#1a1a1a" text-anchor="end">50</text>
<line x1="521.3" y1="230.6" x2="524.6" y2="230.6" stroke="#444" stroke-width="0.6"/>
<text x="519.9" y="232.85" font-size="6.2" fill="#1a1a1a" text-anchor="end">0</text>
<line x1="524.6" y1="230.6" x2="562" y2="230.6" stroke="#444" stroke-width="0.6"/>
<text font-size="6.5" fill="#1a1a1a" text-anchor="middle" transform="translate(499.2 191.5) rotate(-90)">FOS<tspan dy="-2.47" font-size="3.9">+</tspan><tspan dy="2.47">​</tspan> cells per mm<tspan dy="-2.47" font-size="3.9">2</tspan><tspan dy="2.47">​</tspan></text>
<rect x="527" y="176.11" width="6.4" height="54.49" fill="#707070"/>
<line x1="530.2" y1="173.37" x2="530.2" y2="178.86" stroke="#444" stroke-width="0.5"/>
<line x1="528.7" y1="173.37" x2="531.7" y2="173.37" stroke="#444" stroke-width="0.5"/>
<line x1="528.7" y1="178.86" x2="531.7" y2="178.86" stroke="#444" stroke-width="0.5"/>
<circle cx="528.7" cy="163.18" r="1.31" fill="#fff" stroke="#777" stroke-width="0.48"/>
<circle cx="530.2" cy="168.66" r="1.31" fill="#fff" stroke="#777" stroke-width="0.48"/>
<circle cx="531.7" cy="169.84" r="1.31" fill="#fff" stroke="#777" stroke-width="0.48"/>
<circle cx="528.7" cy="171.8" r="1.31" fill="#fff" stroke="#777" stroke-width="0.48"/>
<circle cx="530.2" cy="175.72" r="1.31" fill="#fff" stroke="#777" stroke-width="0.48"/>
<circle cx="531.7" cy="181.6" r="1.31" fill="#fff" stroke="#777" stroke-width="0.48"/>
<circle cx="528.7" cy="187.48" r="1.31" fill="#fff" stroke="#777" stroke-width="0.48"/>
<circle cx="530.2" cy="191.4" r="1.31" fill="#fff" stroke="#777" stroke-width="0.48"/>
<rect x="535.8" y="181.21" width="6.4" height="49.39" fill="#e0e0e0" stroke="#8c8c8c" stroke-width="0.5"/>
<line x1="539" y1="179.25" x2="539" y2="183.17" stroke="#888" stroke-width="0.5"/>
<line x1="537.5" y1="179.25" x2="540.5" y2="179.25" stroke="#888" stroke-width="0.5"/>
<line x1="537.5" y1="183.17" x2="540.5" y2="183.17" stroke="#888" stroke-width="0.5"/>
<circle cx="537.5" cy="173.37" r="1.31" fill="#fff" stroke="#888" stroke-width="0.48"/>
<circle cx="539" cy="179.64" r="1.31" fill="#fff" stroke="#888" stroke-width="0.48"/>
<circle cx="540.5" cy="180.42" r="1.31" fill="#fff" stroke="#888" stroke-width="0.48"/>
<circle cx="537.5" cy="181.99" r="1.31" fill="#fff" stroke="#888" stroke-width="0.48"/>
<circle cx="539" cy="183.56" r="1.31" fill="#fff" stroke="#888" stroke-width="0.48"/>
<circle cx="540.5" cy="185.13" r="1.31" fill="#fff" stroke="#888" stroke-width="0.48"/>
<rect x="545" y="217.27" width="6.6" height="13.33" fill="#a888dc"/>
<line x1="548.3" y1="215.31" x2="548.3" y2="219.23" stroke="#9a74d4" stroke-width="0.5"/>
<line x1="546.8" y1="215.31" x2="549.8" y2="215.31" stroke="#9a74d4" stroke-width="0.5"/>
<line x1="546.8" y1="219.23" x2="549.8" y2="219.23" stroke="#9a74d4" stroke-width="0.5"/>
<circle cx="546.8" cy="212.96" r="1.31" fill="#fff" stroke="#9a74d4" stroke-width="0.48"/>
<circle cx="548.3" cy="213.35" r="1.31" fill="#fff" stroke="#9a74d4" stroke-width="0.48"/>
<circle cx="549.8" cy="213.74" r="1.31" fill="#fff" stroke="#9a74d4" stroke-width="0.48"/>
<circle cx="546.8" cy="218.84" r="1.31" fill="#fff" stroke="#9a74d4" stroke-width="0.48"/>
<circle cx="548.3" cy="221.98" r="1.31" fill="#fff" stroke="#9a74d4" stroke-width="0.48"/>
<circle cx="549.8" cy="224.72" r="1.31" fill="#fff" stroke="#9a74d4" stroke-width="0.48"/>
<circle cx="546.8" cy="227.46" r="1.31" fill="#fff" stroke="#9a74d4" stroke-width="0.48"/>
<rect x="553.4" y="178.46" width="7" height="52.14" fill="#ece4fa" stroke="#a888dc" stroke-width="0.5"/>
<line x1="556.9" y1="175.33" x2="556.9" y2="181.6" stroke="#a888dc" stroke-width="0.5"/>
<line x1="555.4" y1="175.33" x2="558.4" y2="175.33" stroke="#a888dc" stroke-width="0.5"/>
<line x1="555.4" y1="181.6" x2="558.4" y2="181.6" stroke="#a888dc" stroke-width="0.5"/>
<circle cx="555.4" cy="168.66" r="1.31" fill="#fff" stroke="#a888dc" stroke-width="0.48"/>
<circle cx="556.9" cy="169.45" r="1.31" fill="#fff" stroke="#a888dc" stroke-width="0.48"/>
<circle cx="558.4" cy="169.84" r="1.31" fill="#fff" stroke="#a888dc" stroke-width="0.48"/>
<circle cx="555.4" cy="177.68" r="1.31" fill="#fff" stroke="#a888dc" stroke-width="0.48"/>
<circle cx="556.9" cy="181.6" r="1.31" fill="#fff" stroke="#a888dc" stroke-width="0.48"/>
<circle cx="558.4" cy="184.34" r="1.31" fill="#fff" stroke="#a888dc" stroke-width="0.48"/>
<circle cx="555.4" cy="186.7" r="1.31" fill="#fff" stroke="#a888dc" stroke-width="0.48"/>
<line x1="531.2" y1="157.8" x2="544.4" y2="157.8" stroke="#444" stroke-width="0.6"/>
<text x="537.8" y="159.4" font-size="7.8" fill="#1a1a1a" text-anchor="middle">****</text>
<line x1="546.6" y1="157.8" x2="559.2" y2="157.8" stroke="#444" stroke-width="0.6"/>
<text x="552.9" y="159.4" font-size="7.8" fill="#1a1a1a" text-anchor="middle">****</text>
<text x="521.8" y="242" font-size="6.5" fill="#1a1a1a" text-anchor="end">Capsaicin:</text>
<text x="529.9" y="242" font-size="6.5" fill="#1a1a1a" text-anchor="middle">−</text>
<text x="538.7" y="242" font-size="6.5" fill="#1a1a1a" text-anchor="middle">+</text>
<text x="547.9" y="242" font-size="6.5" fill="#1a1a1a" text-anchor="middle">−</text>
<text x="556.5" y="242" font-size="6.5" fill="#1a1a1a" text-anchor="middle">+</text>
<line x1="524.8" y1="243.9" x2="542.7" y2="243.9" stroke="#444" stroke-width="0.6"/>
<line x1="545.5" y1="243.9" x2="561.6" y2="243.9" stroke="#444" stroke-width="0.6"/>
<text x="533.5" y="251.6" font-size="6.21" fill="#1a1a1a" text-anchor="middle">Young</text>
<text x="552.6" y="251.6" font-size="6.21" fill="#1a1a1a" text-anchor="middle">Old</text>
</g>
<g id="panel_n">
<text x="569.4" y="145.2" font-size="9.8" fill="#000" font-weight="bold" stroke="#000" stroke-width="0.35">n</text>
<line x1="594.5" y1="160.2" x2="594.5" y2="231.13" stroke="#444" stroke-width="0.6"/>
<line x1="591.2" y1="160.2" x2="594.5" y2="160.2" stroke="#444" stroke-width="0.6"/>
<text x="589.8" y="162.45" font-size="6.2" fill="#1a1a1a" text-anchor="end">0.3</text>
<line x1="591.2" y1="177.93" x2="594.5" y2="177.93" stroke="#444" stroke-width="0.6"/>
<text x="589.8" y="180.18" font-size="6.2" fill="#1a1a1a" text-anchor="end">0.2</text>
<line x1="591.2" y1="195.67" x2="594.5" y2="195.67" stroke="#444" stroke-width="0.6"/>
<text x="589.8" y="197.92" font-size="6.2" fill="#1a1a1a" text-anchor="end">0.1</text>
<line x1="591.2" y1="213.4" x2="594.5" y2="213.4" stroke="#444" stroke-width="0.6"/>
<text x="589.8" y="215.65" font-size="6.2" fill="#1a1a1a" text-anchor="end">0</text>
<line x1="591.2" y1="231.13" x2="594.5" y2="231.13" stroke="#444" stroke-width="0.6"/>
<text x="589.8" y="233.38" font-size="6.2" fill="#1a1a1a" text-anchor="end">−0.1</text>
<line x1="594.5" y1="213.4" x2="648" y2="213.4" stroke="#444" stroke-width="0.6"/>
<text font-size="6.5" fill="#1a1a1a" text-anchor="middle" transform="translate(576 192) rotate(-90)">Recognition index</text>
<rect x="599.6" y="186.8" width="7.7" height="26.6" fill="#707070"/>
<rect x="609.5" y="190.35" width="8.1" height="23.05" fill="#e0e0e0" stroke="#8c8c8c" stroke-width="0.5"/>
<rect x="627.4" y="211.98" width="6.9" height="1.42" fill="#a888dc"/>
<rect x="637.2" y="194.78" width="8.4" height="18.62" fill="#ece4fa" stroke="#a888dc" stroke-width="0.5"/>
<line x1="603.4" y1="174.39" x2="613.5" y2="195.67" stroke="#222" stroke-width="0.6"/>
<line x1="603.4" y1="177.93" x2="613.5" y2="185.03" stroke="#222" stroke-width="0.6"/>
<line x1="603.4" y1="179.71" x2="613.5" y2="190.35" stroke="#222" stroke-width="0.6"/>
<line x1="603.4" y1="183.25" x2="613.5" y2="186.8" stroke="#222" stroke-width="0.6"/>
<line x1="603.4" y1="193.89" x2="613.5" y2="185.03" stroke="#222" stroke-width="0.6"/>
<line x1="603.4" y1="192.12" x2="613.5" y2="192.12" stroke="#222" stroke-width="0.6"/>
<line x1="603.4" y1="200.99" x2="613.5" y2="193.89" stroke="#222" stroke-width="0.6"/>
<circle cx="603.4" cy="174.39" r="1.25" fill="#fff" stroke="#888" stroke-width="0.48"/>
<circle cx="603.4" cy="177.93" r="1.25" fill="#fff" stroke="#888" stroke-width="0.48"/>
<circle cx="603.4" cy="179.71" r="1.25" fill="#fff" stroke="#888" stroke-width="0.48"/>
<circle cx="603.4" cy="183.25" r="1.25" fill="#fff" stroke="#888" stroke-width="0.48"/>
<circle cx="603.4" cy="193.89" r="1.25" fill="#fff" stroke="#888" stroke-width="0.48"/>
<circle cx="603.4" cy="192.12" r="1.25" fill="#fff" stroke="#888" stroke-width="0.48"/>
<circle cx="603.4" cy="200.99" r="1.25" fill="#fff" stroke="#888" stroke-width="0.48"/>
<circle cx="613.5" cy="195.67" r="1.25" fill="#fff" stroke="#888" stroke-width="0.48"/>
<circle cx="613.5" cy="185.03" r="1.25" fill="#fff" stroke="#888" stroke-width="0.48"/>
<circle cx="613.5" cy="190.35" r="1.25" fill="#fff" stroke="#888" stroke-width="0.48"/>
<circle cx="613.5" cy="186.8" r="1.25" fill="#fff" stroke="#888" stroke-width="0.48"/>
<circle cx="613.5" cy="185.03" r="1.25" fill="#fff" stroke="#888" stroke-width="0.48"/>
<circle cx="613.5" cy="192.12" r="1.25" fill="#fff" stroke="#888" stroke-width="0.48"/>
<circle cx="613.5" cy="193.89" r="1.25" fill="#fff" stroke="#888" stroke-width="0.48"/>
<line x1="630.8" y1="200.1" x2="641.2" y2="192.12" stroke="#5a3fa8" stroke-width="0.7"/>
<line x1="630.8" y1="208.08" x2="641.2" y2="185.03" stroke="#5a3fa8" stroke-width="0.7"/>
<line x1="630.8" y1="213.4" x2="641.2" y2="195.67" stroke="#5a3fa8" stroke-width="0.7"/>
<line x1="630.8" y1="216.95" x2="641.2" y2="200.99" stroke="#5a3fa8" stroke-width="0.7"/>
<line x1="630.8" y1="221.38" x2="641.2" y2="197.44" stroke="#5a3fa8" stroke-width="0.7"/>
<line x1="630.8" y1="211.63" x2="641.2" y2="191.23" stroke="#5a3fa8" stroke-width="0.7"/>
<circle cx="630.8" cy="200.1" r="1.25" fill="#fff" stroke="#9a74d4" stroke-width="0.48"/>
<circle cx="630.8" cy="208.08" r="1.25" fill="#fff" stroke="#9a74d4" stroke-width="0.48"/>
<circle cx="630.8" cy="213.4" r="1.25" fill="#fff" stroke="#9a74d4" stroke-width="0.48"/>
<circle cx="630.8" cy="216.95" r="1.25" fill="#fff" stroke="#9a74d4" stroke-width="0.48"/>
<circle cx="630.8" cy="221.38" r="1.25" fill="#fff" stroke="#9a74d4" stroke-width="0.48"/>
<circle cx="630.8" cy="211.63" r="1.25" fill="#fff" stroke="#9a74d4" stroke-width="0.48"/>
<circle cx="641.2" cy="192.12" r="1.25" fill="#fff" stroke="#9a74d4" stroke-width="0.48"/>
<circle cx="641.2" cy="185.03" r="1.25" fill="#fff" stroke="#9a74d4" stroke-width="0.48"/>
<circle cx="641.2" cy="195.67" r="1.25" fill="#fff" stroke="#9a74d4" stroke-width="0.48"/>
<circle cx="641.2" cy="200.99" r="1.25" fill="#fff" stroke="#9a74d4" stroke-width="0.48"/>
<circle cx="641.2" cy="197.44" r="1.25" fill="#fff" stroke="#9a74d4" stroke-width="0.48"/>
<circle cx="641.2" cy="191.23" r="1.25" fill="#fff" stroke="#9a74d4" stroke-width="0.48"/>
<line x1="603" y1="165" x2="613.6" y2="165" stroke="#444" stroke-width="0.6"/>
<text x="608.3" y="163.2" font-size="6.3" fill="#1a1a1a" text-anchor="middle">NS</text>
<line x1="632" y1="165" x2="642.4" y2="165" stroke="#444" stroke-width="0.6"/>
<text x="637.2" y="166.6" font-size="7.8" fill="#1a1a1a" text-anchor="middle">*</text>
<text x="597.3" y="242" font-size="6.5" fill="#1a1a1a" text-anchor="end">Capsaicin:</text>
<text x="603.2" y="242" font-size="6.5" fill="#1a1a1a" text-anchor="middle">−</text>
<text x="612.4" y="242" font-size="6.5" fill="#1a1a1a" text-anchor="middle">+</text>
<text x="630.8" y="242" font-size="6.5" fill="#1a1a1a" text-anchor="middle">−</text>
<text x="639.8" y="242" font-size="6.5" fill="#1a1a1a" text-anchor="middle">+</text>
<line x1="598.5" y1="243.9" x2="618" y2="243.9" stroke="#444" stroke-width="0.6"/>
<line x1="627.4" y1="243.9" x2="647" y2="243.9" stroke="#444" stroke-width="0.6"/>
<text x="607.7" y="251.6" font-size="6.21" fill="#1a1a1a" text-anchor="middle">Young</text>
<text x="636.6" y="251.6" font-size="6.21" fill="#1a1a1a" text-anchor="middle">Old</text>
</g>
<g id="panel_o">
<text x="0.3" y="275.2" font-size="9.8" fill="#000" font-weight="bold" stroke="#000" stroke-width="0.35">o</text>
<circle cx="42.6" cy="255.8" r="1.2" fill="#fff" stroke="#555" stroke-width="0.5"/>
<text x="46" y="258.2" font-size="6.6" fill="#1a1a1a">Young</text>
<circle cx="42.6" cy="263.8" r="1.2" fill="#fff" stroke="#f2709f" stroke-width="0.5"/>
<text x="46" y="266.2" font-size="6.6" fill="#1a1a1a">Young</text>
<circle cx="42.6" cy="272.4" r="1.2" fill="#fff" stroke="#4bbcb4" stroke-width="0.5"/>
<text x="46" y="274.8" font-size="6.6" fill="#1a1a1a">Old</text>
<line x1="66.8" y1="261.6" x2="66.8" y2="275.9" stroke="#444" stroke-width="0.6"/>
<text x="68.8" y="271" font-size="6.6" fill="#1a1a1a">Co-housed</text>
<line x1="32.5" y1="279.3" x2="32.5" y2="363.6" stroke="#444" stroke-width="0.6"/>
<line x1="29.2" y1="279.3" x2="32.5" y2="279.3" stroke="#444" stroke-width="0.6"/>
<text x="27.8" y="281.55" font-size="6.2" fill="#1a1a1a" text-anchor="end">800</text>
<line x1="29.2" y1="300.38" x2="32.5" y2="300.38" stroke="#444" stroke-width="0.6"/>
<text x="27.8" y="302.62" font-size="6.2" fill="#1a1a1a" text-anchor="end">600</text>
<line x1="29.2" y1="321.45" x2="32.5" y2="321.45" stroke="#444" stroke-width="0.6"/>
<text x="27.8" y="323.7" font-size="6.2" fill="#1a1a1a" text-anchor="end">400</text>
<line x1="29.2" y1="342.53" x2="32.5" y2="342.53" stroke="#444" stroke-width="0.6"/>
<text x="27.8" y="344.78" font-size="6.2" fill="#1a1a1a" text-anchor="end">200</text>
<line x1="29.2" y1="363.6" x2="32.5" y2="363.6" stroke="#444" stroke-width="0.6"/>
<text x="27.8" y="365.85" font-size="6.2" fill="#1a1a1a" text-anchor="end">0</text>
<line x1="32.5" y1="363.6" x2="119.5" y2="363.6" stroke="#444" stroke-width="0.6"/>
<text font-size="6.21" fill="#1a1a1a" text-anchor="middle" transform="translate(12.4 320) rotate(-90)">FOS<tspan dy="-2.36" font-size="3.73">+</tspan><tspan dy="2.36">​</tspan> cells per mm<tspan dy="-2.36" font-size="3.73">2</tspan><tspan dy="2.36">​</tspan></text>
<rect x="37.8" y="327.25" width="4.9" height="36.35" fill="#707070"/>
<line x1="40.25" y1="324.61" x2="40.25" y2="329.88" stroke="#444" stroke-width="0.5"/>
<line x1="38.95" y1="324.61" x2="41.55" y2="324.61" stroke="#444" stroke-width="0.5"/>
<line x1="38.95" y1="329.88" x2="41.55" y2="329.88" stroke="#444" stroke-width="0.5"/>
<circle cx="40.25" cy="323.82" r="1.25" fill="#fff" stroke="#777" stroke-width="0.48"/>
<circle cx="39.45" cy="326.46" r="1.25" fill="#fff" stroke="#777" stroke-width="0.48"/>
<circle cx="41.05" cy="328.56" r="1.25" fill="#fff" stroke="#777" stroke-width="0.48"/>
<circle cx="40.25" cy="330.93" r="1.25" fill="#fff" stroke="#777" stroke-width="0.48"/>
<rect x="43.7" y="323.03" width="4.9" height="40.57" fill="#f47fab"/>
<line x1="46.15" y1="319.87" x2="46.15" y2="326.19" stroke="#f2709f" stroke-width="0.5"/>
<line x1="44.85" y1="319.87" x2="47.45" y2="319.87" stroke="#f2709f" stroke-width="0.5"/>
<line x1="44.85" y1="326.19" x2="47.45" y2="326.19" stroke="#f2709f" stroke-width="0.5"/>
<circle cx="46.15" cy="318.92" r="1.25" fill="#fff" stroke="#f2709f" stroke-width="0.48"/>
<circle cx="45.35" cy="322.08" r="1.25" fill="#fff" stroke="#f2709f" stroke-width="0.48"/>
<circle cx="46.95" cy="324.61" r="1.25" fill="#fff" stroke="#f2709f" stroke-width="0.48"/>
<circle cx="46.15" cy="327.46" r="1.25" fill="#fff" stroke="#f2709f" stroke-width="0.48"/>
<rect x="49.6" y="331.99" width="4.9" height="31.61" fill="#4bbcb4"/>
<line x1="52.05" y1="324.61" x2="52.05" y2="339.36" stroke="#4bbcb4" stroke-width="0.5"/>
<line x1="50.75" y1="324.61" x2="53.35" y2="324.61" stroke="#4bbcb4" stroke-width="0.5"/>
<line x1="50.75" y1="339.36" x2="53.35" y2="339.36" stroke="#4bbcb4" stroke-width="0.5"/>
<circle cx="52.05" cy="322.4" r="1.25" fill="#fff" stroke="#4bbcb4" stroke-width="0.48"/>
<circle cx="51.25" cy="329.77" r="1.25" fill="#fff" stroke="#4bbcb4" stroke-width="0.48"/>
<circle cx="52.85" cy="335.68" r="1.25" fill="#fff" stroke="#4bbcb4" stroke-width="0.48"/>
<circle cx="52.05" cy="342.31" r="1.25" fill="#fff" stroke="#4bbcb4" stroke-width="0.48"/>
<rect x="58.4" y="326.19" width="4.9" height="37.41" fill="#707070"/>
<line x1="60.85" y1="324.08" x2="60.85" y2="328.3" stroke="#444" stroke-width="0.5"/>
<line x1="59.55" y1="324.08" x2="62.15" y2="324.08" stroke="#444" stroke-width="0.5"/>
<line x1="59.55" y1="328.3" x2="62.15" y2="328.3" stroke="#444" stroke-width="0.5"/>
<circle cx="60.85" cy="323.45" r="1.25" fill="#fff" stroke="#777" stroke-width="0.48"/>
<circle cx="60.05" cy="325.56" r="1.25" fill="#fff" stroke="#777" stroke-width="0.48"/>
<circle cx="61.65" cy="327.25" r="1.25" fill="#fff" stroke="#777" stroke-width="0.48"/>
<circle cx="60.85" cy="329.14" r="1.25" fill="#fff" stroke="#777" stroke-width="0.48"/>
<rect x="64.3" y="327.25" width="4.9" height="36.35" fill="#f47fab"/>
<line x1="66.75" y1="324.61" x2="66.75" y2="329.88" stroke="#f2709f" stroke-width="0.5"/>
<line x1="65.45" y1="324.61" x2="68.05" y2="324.61" stroke="#f2709f" stroke-width="0.5"/>
<line x1="65.45" y1="329.88" x2="68.05" y2="329.88" stroke="#f2709f" stroke-width="0.5"/>
<circle cx="66.75" cy="323.82" r="1.25" fill="#fff" stroke="#f2709f" stroke-width="0.48"/>
<circle cx="65.95" cy="326.46" r="1.25" fill="#fff" stroke="#f2709f" stroke-width="0.48"/>
<circle cx="67.55" cy="328.56" r="1.25" fill="#fff" stroke="#f2709f" stroke-width="0.48"/>
<circle cx="66.75" cy="330.93" r="1.25" fill="#fff" stroke="#f2709f" stroke-width="0.48"/>
<rect x="70.2" y="329.88" width="4.9" height="33.72" fill="#4bbcb4"/>
<line x1="72.65" y1="325.67" x2="72.65" y2="334.09" stroke="#4bbcb4" stroke-width="0.5"/>
<line x1="71.35" y1="325.67" x2="73.95" y2="325.67" stroke="#4bbcb4" stroke-width="0.5"/>
<line x1="71.35" y1="334.09" x2="73.95" y2="334.09" stroke="#4bbcb4" stroke-width="0.5"/>
<circle cx="72.65" cy="324.4" r="1.25" fill="#fff" stroke="#4bbcb4" stroke-width="0.48"/>
<circle cx="71.85" cy="328.62" r="1.25" fill="#fff" stroke="#4bbcb4" stroke-width="0.48"/>
<circle cx="73.45" cy="331.99" r="1.25" fill="#fff" stroke="#4bbcb4" stroke-width="0.48"/>
<circle cx="72.65" cy="335.78" r="1.25" fill="#fff" stroke="#4bbcb4" stroke-width="0.48"/>
<rect x="79.6" y="296.69" width="4.9" height="66.91" fill="#707070"/>
<line x1="82.05" y1="292.47" x2="82.05" y2="300.9" stroke="#444" stroke-width="0.5"/>
<line x1="80.75" y1="292.47" x2="83.35" y2="292.47" stroke="#444" stroke-width="0.5"/>
<line x1="80.75" y1="300.9" x2="83.35" y2="300.9" stroke="#444" stroke-width="0.5"/>
<circle cx="82.05" cy="291.21" r="1.25" fill="#fff" stroke="#777" stroke-width="0.48"/>
<circle cx="81.25" cy="295.42" r="1.25" fill="#fff" stroke="#777" stroke-width="0.48"/>
<circle cx="82.85" cy="298.79" r="1.25" fill="#fff" stroke="#777" stroke-width="0.48"/>
<circle cx="82.05" cy="302.59" r="1.25" fill="#fff" stroke="#777" stroke-width="0.48"/>
<rect x="85.5" y="320.92" width="4.9" height="42.68" fill="#f47fab"/>
<line x1="87.95" y1="319.34" x2="87.95" y2="322.5" stroke="#f2709f" stroke-width="0.5"/>
<line x1="86.65" y1="319.34" x2="89.25" y2="319.34" stroke="#f2709f" stroke-width="0.5"/>
<line x1="86.65" y1="322.5" x2="89.25" y2="322.5" stroke="#f2709f" stroke-width="0.5"/>
<circle cx="87.95" cy="318.87" r="1.25" fill="#fff" stroke="#f2709f" stroke-width="0.48"/>
<circle cx="87.15" cy="320.45" r="1.25" fill="#fff" stroke="#f2709f" stroke-width="0.48"/>
<circle cx="88.75" cy="321.71" r="1.25" fill="#fff" stroke="#f2709f" stroke-width="0.48"/>
<circle cx="87.95" cy="323.14" r="1.25" fill="#fff" stroke="#f2709f" stroke-width="0.48"/>
<rect x="91.4" y="317.24" width="4.9" height="46.37" fill="#4bbcb4"/>
<line x1="93.85" y1="315.13" x2="93.85" y2="319.34" stroke="#4bbcb4" stroke-width="0.5"/>
<line x1="92.55" y1="315.13" x2="95.15" y2="315.13" stroke="#4bbcb4" stroke-width="0.5"/>
<line x1="92.55" y1="319.34" x2="95.15" y2="319.34" stroke="#4bbcb4" stroke-width="0.5"/>
<circle cx="93.85" cy="314.5" r="1.25" fill="#fff" stroke="#4bbcb4" stroke-width="0.48"/>
<circle cx="93.05" cy="316.6" r="1.25" fill="#fff" stroke="#4bbcb4" stroke-width="0.48"/>
<circle cx="94.65" cy="318.29" r="1.25" fill="#fff" stroke="#4bbcb4" stroke-width="0.48"/>
<circle cx="93.85" cy="320.19" r="1.25" fill="#fff" stroke="#4bbcb4" stroke-width="0.48"/>
<rect x="101.2" y="300.9" width="4.9" height="62.7" fill="#707070"/>
<line x1="103.65" y1="297.74" x2="103.65" y2="304.06" stroke="#444" stroke-width="0.5"/>
<line x1="102.35" y1="297.74" x2="104.95" y2="297.74" stroke="#444" stroke-width="0.5"/>
<line x1="102.35" y1="304.06" x2="104.95" y2="304.06" stroke="#444" stroke-width="0.5"/>
<circle cx="103.65" cy="296.79" r="1.25" fill="#fff" stroke="#777" stroke-width="0.48"/>
<circle cx="102.85" cy="299.95" r="1.25" fill="#fff" stroke="#777" stroke-width="0.48"/>
<circle cx="104.45" cy="302.48" r="1.25" fill="#fff" stroke="#777" stroke-width="0.48"/>
<circle cx="103.65" cy="305.33" r="1.25" fill="#fff" stroke="#777" stroke-width="0.48"/>
<rect x="107.1" y="308.28" width="4.9" height="55.32" fill="#f47fab"/>
<line x1="109.55" y1="305.12" x2="109.55" y2="311.44" stroke="#f2709f" stroke-width="0.5"/>
<line x1="108.25" y1="305.12" x2="110.85" y2="305.12" stroke="#f2709f" stroke-width="0.5"/>
<line x1="108.25" y1="311.44" x2="110.85" y2="311.44" stroke="#f2709f" stroke-width="0.5"/>
<circle cx="109.55" cy="304.17" r="1.25" fill="#fff" stroke="#f2709f" stroke-width="0.48"/>
<circle cx="108.75" cy="307.33" r="1.25" fill="#fff" stroke="#f2709f" stroke-width="0.48"/>
<circle cx="110.35" cy="309.86" r="1.25" fill="#fff" stroke="#f2709f" stroke-width="0.48"/>
<circle cx="109.55" cy="312.7" r="1.25" fill="#fff" stroke="#f2709f" stroke-width="0.48"/>
<rect x="113" y="303.54" width="4.9" height="60.06" fill="#4bbcb4"/>
<line x1="115.45" y1="298.27" x2="115.45" y2="308.81" stroke="#4bbcb4" stroke-width="0.5"/>
<line x1="114.15" y1="298.27" x2="116.75" y2="298.27" stroke="#4bbcb4" stroke-width="0.5"/>
<line x1="114.15" y1="308.81" x2="116.75" y2="308.81" stroke="#4bbcb4" stroke-width="0.5"/>
<circle cx="115.45" cy="296.69" r="1.25" fill="#fff" stroke="#4bbcb4" stroke-width="0.48"/>
<circle cx="114.65" cy="301.96" r="1.25" fill="#fff" stroke="#4bbcb4" stroke-width="0.48"/>
<circle cx="116.25" cy="306.17" r="1.25" fill="#fff" stroke="#4bbcb4" stroke-width="0.48"/>
<circle cx="115.45" cy="310.91" r="1.25" fill="#fff" stroke="#4bbcb4" stroke-width="0.48"/>
<line x1="82" y1="281.2" x2="94.6" y2="281.2" stroke="#444" stroke-width="0.6"/>
<text x="88.3" y="282.8" font-size="7.8" fill="#1a1a1a" text-anchor="middle">*</text>
<line x1="82" y1="288.6" x2="88.8" y2="288.6" stroke="#444" stroke-width="0.6"/>
<text x="85.4" y="290.2" font-size="7.8" fill="#1a1a1a" text-anchor="middle">**</text>
<text x="35" y="373.6" font-size="6.5" fill="#1a1a1a" text-anchor="end">Capsaicin:</text>
<text x="35" y="381.2" font-size="6.5" fill="#1a1a1a" text-anchor="end">Novelty:</text>
<text x="45.6" y="373.6" font-size="6.5" fill="#1a1a1a" text-anchor="middle">−</text>
<text x="45.6" y="381.2" font-size="6.5" fill="#1a1a1a" text-anchor="middle">−</text>
<text x="66.4" y="373.6" font-size="6.5" fill="#1a1a1a" text-anchor="middle">+</text>
<text x="66.4" y="381.2" font-size="6.5" fill="#1a1a1a" text-anchor="middle">−</text>
<text x="88" y="373.6" font-size="6.5" fill="#1a1a1a" text-anchor="middle">−</text>
<text x="88" y="381.2" font-size="6.5" fill="#1a1a1a" text-anchor="middle">+</text>
<text x="109.6" y="373.6" font-size="6.5" fill="#1a1a1a" text-anchor="middle">+</text>
<text x="109.6" y="381.2" font-size="6.5" fill="#1a1a1a" text-anchor="middle">+</text>
</g>
<g id="panel_p">
<text x="128.2" y="275.6" font-size="9.8" fill="#000" font-weight="bold" stroke="#000" stroke-width="0.35">p</text>
<rect x="160.4" y="272.3" width="7" height="6.9" fill="#707070"/>
<text x="170.2" y="278.2" font-size="6.31" fill="#1a1a1a">PBS</text>
<rect x="186.4" y="272.3" width="7" height="6.9" fill="#e4e4e4" stroke="#8c8c8c" stroke-width="0.5"/>
<text x="195.7" y="278.2" font-size="6.31" fill="#1a1a1a">Capsaicin</text>
<line x1="155" y1="292" x2="155" y2="363.67" stroke="#444" stroke-width="0.6"/>
<line x1="151.7" y1="292" x2="155" y2="292" stroke="#444" stroke-width="0.6"/>
<text x="150.3" y="294.25" font-size="6.2" fill="#1a1a1a" text-anchor="end">0.3</text>
<line x1="151.7" y1="306.33" x2="155" y2="306.33" stroke="#444" stroke-width="0.6"/>
<text x="150.3" y="308.58" font-size="6.2" fill="#1a1a1a" text-anchor="end">0.2</text>
<line x1="151.7" y1="320.67" x2="155" y2="320.67" stroke="#444" stroke-width="0.6"/>
<text x="150.3" y="322.92" font-size="6.2" fill="#1a1a1a" text-anchor="end">0.1</text>
<line x1="151.7" y1="335" x2="155" y2="335" stroke="#444" stroke-width="0.6"/>
<text x="150.3" y="337.25" font-size="6.2" fill="#1a1a1a" text-anchor="end">0</text>
<line x1="151.7" y1="349.33" x2="155" y2="349.33" stroke="#444" stroke-width="0.6"/>
<text x="150.3" y="351.58" font-size="6.2" fill="#1a1a1a" text-anchor="end">−0.1</text>
<line x1="151.7" y1="363.67" x2="155" y2="363.67" stroke="#444" stroke-width="0.6"/>
<text x="150.3" y="365.92" font-size="6.2" fill="#1a1a1a" text-anchor="end">−0.2</text>
<line x1="155" y1="335" x2="226" y2="335" stroke="#444" stroke-width="0.6"/>
<text font-size="6.5" fill="#1a1a1a" text-anchor="middle" transform="translate(133 327.5) rotate(-90)">Recognition index</text>
<rect x="157.9" y="309.92" width="6" height="25.08" fill="#707070"/>
<rect x="165.1" y="310.63" width="6" height="24.37" fill="#e0e0e0" stroke="#8c8c8c" stroke-width="0.5"/>
<line x1="160.9" y1="307.77" x2="160.9" y2="312.07" stroke="#444" stroke-width="0.5"/>
<line x1="159.6" y1="307.77" x2="162.2" y2="307.77" stroke="#444" stroke-width="0.5"/>
<line x1="159.6" y1="312.07" x2="162.2" y2="312.07" stroke="#444" stroke-width="0.5"/>
<line x1="168.1" y1="307.77" x2="168.1" y2="313.5" stroke="#888" stroke-width="0.5"/>
<line x1="166.8" y1="307.77" x2="169.4" y2="307.77" stroke="#888" stroke-width="0.5"/>
<line x1="166.8" y1="313.5" x2="169.4" y2="313.5" stroke="#888" stroke-width="0.5"/>
<circle cx="161.44" cy="302.99" r="1.19" fill="#fff" stroke="#777" stroke-width="0.48"/>
<circle cx="162.2" cy="297.23" r="1.19" fill="#fff" stroke="#777" stroke-width="0.48"/>
<circle cx="161.96" cy="297.81" r="1.19" fill="#fff" stroke="#777" stroke-width="0.48"/>
<circle cx="158.83" cy="310.9" r="1.19" fill="#fff" stroke="#777" stroke-width="0.48"/>
<circle cx="162.85" cy="305.65" r="1.19" fill="#fff" stroke="#777" stroke-width="0.48"/>
<circle cx="162.66" cy="321" r="1.19" fill="#fff" stroke="#777" stroke-width="0.48"/>
<circle cx="160.76" cy="317.18" r="1.19" fill="#fff" stroke="#777" stroke-width="0.48"/>
<circle cx="161.09" cy="307.8" r="1.19" fill="#fff" stroke="#777" stroke-width="0.48"/>
<circle cx="158.76" cy="318.04" r="1.19" fill="#fff" stroke="#777" stroke-width="0.48"/>
<circle cx="159.93" cy="297.98" r="1.19" fill="#fff" stroke="#777" stroke-width="0.48"/>
<circle cx="162.07" cy="319.67" r="1.19" fill="#fff" stroke="#777" stroke-width="0.48"/>
<circle cx="162.21" cy="320.27" r="1.19" fill="#fff" stroke="#777" stroke-width="0.48"/>
<circle cx="168.62" cy="320.79" r="1.19" fill="#fff" stroke="#888" stroke-width="0.48"/>
<circle cx="165.91" cy="296.24" r="1.19" fill="#fff" stroke="#888" stroke-width="0.48"/>
<circle cx="166.82" cy="317.86" r="1.19" fill="#fff" stroke="#888" stroke-width="0.48"/>
<circle cx="170.22" cy="296.21" r="1.19" fill="#fff" stroke="#888" stroke-width="0.48"/>
<circle cx="167.17" cy="293.27" r="1.19" fill="#fff" stroke="#888" stroke-width="0.48"/>
<circle cx="168.27" cy="302.62" r="1.19" fill="#fff" stroke="#888" stroke-width="0.48"/>
<circle cx="166.8" cy="293.95" r="1.19" fill="#fff" stroke="#888" stroke-width="0.48"/>
<circle cx="168.94" cy="293.1" r="1.19" fill="#fff" stroke="#888" stroke-width="0.48"/>
<circle cx="169.83" cy="315.12" r="1.19" fill="#fff" stroke="#888" stroke-width="0.48"/>
<circle cx="167.49" cy="319.5" r="1.19" fill="#fff" stroke="#888" stroke-width="0.48"/>
<circle cx="166.54" cy="322.82" r="1.19" fill="#fff" stroke="#888" stroke-width="0.48"/>
<circle cx="167.23" cy="305.08" r="1.19" fill="#fff" stroke="#888" stroke-width="0.48"/>
<rect x="175.4" y="333.85" width="6" height="1.15" fill="#f47fab"/>
<rect x="182.4" y="316.37" width="6" height="18.63" fill="#fde0ea" stroke="#f2709f" stroke-width="0.5"/>
<line x1="178.4" y1="331.7" x2="178.4" y2="336" stroke="#f2709f" stroke-width="0.5"/>
<line x1="177.1" y1="331.7" x2="179.7" y2="331.7" stroke="#f2709f" stroke-width="0.5"/>
<line x1="177.1" y1="336" x2="179.7" y2="336" stroke="#f2709f" stroke-width="0.5"/>
<line x1="185.4" y1="313.5" x2="185.4" y2="319.23" stroke="#f2709f" stroke-width="0.5"/>
<line x1="184.1" y1="313.5" x2="186.7" y2="313.5" stroke="#f2709f" stroke-width="0.5"/>
<line x1="184.1" y1="319.23" x2="186.7" y2="319.23" stroke="#f2709f" stroke-width="0.5"/>
<circle cx="176.21" cy="328.75" r="1.19" fill="#fff" stroke="#f2709f" stroke-width="0.48"/>
<circle cx="177.69" cy="339.3" r="1.19" fill="#fff" stroke="#f2709f" stroke-width="0.48"/>
<circle cx="179.8" cy="334.41" r="1.19" fill="#fff" stroke="#f2709f" stroke-width="0.48"/>
<circle cx="177.59" cy="334.39" r="1.19" fill="#fff" stroke="#f2709f" stroke-width="0.48"/>
<circle cx="179.3" cy="346.55" r="1.19" fill="#fff" stroke="#f2709f" stroke-width="0.48"/>
<circle cx="180.49" cy="347.53" r="1.19" fill="#fff" stroke="#f2709f" stroke-width="0.48"/>
<circle cx="179.5" cy="323.97" r="1.19" fill="#fff" stroke="#f2709f" stroke-width="0.48"/>
<circle cx="176.28" cy="325.6" r="1.19" fill="#fff" stroke="#f2709f" stroke-width="0.48"/>
<circle cx="177.81" cy="331.6" r="1.19" fill="#fff" stroke="#f2709f" stroke-width="0.48"/>
<circle cx="176.24" cy="346.85" r="1.19" fill="#fff" stroke="#f2709f" stroke-width="0.48"/>
<circle cx="177" cy="320.8" r="1.19" fill="#fff" stroke="#f2709f" stroke-width="0.48"/>
<circle cx="177.06" cy="326.52" r="1.19" fill="#fff" stroke="#f2709f" stroke-width="0.48"/>
<circle cx="187.29" cy="299.64" r="1.19" fill="#fff" stroke="#f2709f" stroke-width="0.48"/>
<circle cx="184.72" cy="319" r="1.19" fill="#fff" stroke="#f2709f" stroke-width="0.48"/>
<circle cx="185.51" cy="305.13" r="1.19" fill="#fff" stroke="#f2709f" stroke-width="0.48"/>
<circle cx="183.68" cy="306.03" r="1.19" fill="#fff" stroke="#f2709f" stroke-width="0.48"/>
<circle cx="186.71" cy="302.36" r="1.19" fill="#fff" stroke="#f2709f" stroke-width="0.48"/>
<circle cx="183.36" cy="299.52" r="1.19" fill="#fff" stroke="#f2709f" stroke-width="0.48"/>
<circle cx="183.6" cy="319.47" r="1.19" fill="#fff" stroke="#f2709f" stroke-width="0.48"/>
<circle cx="185.89" cy="300.43" r="1.19" fill="#fff" stroke="#f2709f" stroke-width="0.48"/>
<circle cx="184.7" cy="300.23" r="1.19" fill="#fff" stroke="#f2709f" stroke-width="0.48"/>
<circle cx="185.6" cy="320.4" r="1.19" fill="#fff" stroke="#f2709f" stroke-width="0.48"/>
<circle cx="184.59" cy="324.85" r="1.19" fill="#fff" stroke="#f2709f" stroke-width="0.48"/>
<circle cx="183.54" cy="325.79" r="1.19" fill="#fff" stroke="#f2709f" stroke-width="0.48"/>
<rect x="193.4" y="335" width="6" height="1.72" fill="#4bbcb4"/>
<rect x="200.6" y="318.52" width="6" height="16.48" fill="#d8f1ef" stroke="#4bbcb4" stroke-width="0.5"/>
<line x1="196.4" y1="334.57" x2="196.4" y2="338.87" stroke="#4bbcb4" stroke-width="0.5"/>
<line x1="195.1" y1="334.57" x2="197.7" y2="334.57" stroke="#4bbcb4" stroke-width="0.5"/>
<line x1="195.1" y1="338.87" x2="197.7" y2="338.87" stroke="#4bbcb4" stroke-width="0.5"/>
<line x1="203.6" y1="315.65" x2="203.6" y2="321.38" stroke="#4bbcb4" stroke-width="0.5"/>
<line x1="202.3" y1="315.65" x2="204.9" y2="315.65" stroke="#4bbcb4" stroke-width="0.5"/>
<line x1="202.3" y1="321.38" x2="204.9" y2="321.38" stroke="#4bbcb4" stroke-width="0.5"/>
<circle cx="197.23" cy="322.48" r="1.19" fill="#fff" stroke="#4bbcb4" stroke-width="0.48"/>
<circle cx="194.91" cy="349.66" r="1.19" fill="#fff" stroke="#4bbcb4" stroke-width="0.48"/>
<circle cx="198.54" cy="335.76" r="1.19" fill="#fff" stroke="#4bbcb4" stroke-width="0.48"/>
<circle cx="195.99" cy="344.25" r="1.19" fill="#fff" stroke="#4bbcb4" stroke-width="0.48"/>
<circle cx="196.81" cy="327.37" r="1.19" fill="#fff" stroke="#4bbcb4" stroke-width="0.48"/>
<circle cx="196.2" cy="338.96" r="1.19" fill="#fff" stroke="#4bbcb4" stroke-width="0.48"/>
<circle cx="194.45" cy="324.79" r="1.19" fill="#fff" stroke="#4bbcb4" stroke-width="0.48"/>
<circle cx="194.34" cy="336.9" r="1.19" fill="#fff" stroke="#4bbcb4" stroke-width="0.48"/>
<circle cx="197.89" cy="347.31" r="1.19" fill="#fff" stroke="#4bbcb4" stroke-width="0.48"/>
<circle cx="197.42" cy="323.83" r="1.19" fill="#fff" stroke="#4bbcb4" stroke-width="0.48"/>
<circle cx="196.97" cy="328.46" r="1.19" fill="#fff" stroke="#4bbcb4" stroke-width="0.48"/>
<circle cx="194.67" cy="338.6" r="1.19" fill="#fff" stroke="#4bbcb4" stroke-width="0.48"/>
<circle cx="202.06" cy="305" r="1.19" fill="#fff" stroke="#4bbcb4" stroke-width="0.48"/>
<circle cx="202.7" cy="317.91" r="1.19" fill="#fff" stroke="#4bbcb4" stroke-width="0.48"/>
<circle cx="205.8" cy="304.75" r="1.19" fill="#fff" stroke="#4bbcb4" stroke-width="0.48"/>
<circle cx="205.69" cy="317.9" r="1.19" fill="#fff" stroke="#4bbcb4" stroke-width="0.48"/>
<circle cx="203.55" cy="308.8" r="1.19" fill="#fff" stroke="#4bbcb4" stroke-width="0.48"/>
<circle cx="203.51" cy="323.26" r="1.19" fill="#fff" stroke="#4bbcb4" stroke-width="0.48"/>
<circle cx="203.18" cy="328.02" r="1.19" fill="#fff" stroke="#4bbcb4" stroke-width="0.48"/>
<circle cx="203.06" cy="300.27" r="1.19" fill="#fff" stroke="#4bbcb4" stroke-width="0.48"/>
<circle cx="205.62" cy="312.18" r="1.19" fill="#fff" stroke="#4bbcb4" stroke-width="0.48"/>
<circle cx="203.6" cy="321.69" r="1.19" fill="#fff" stroke="#4bbcb4" stroke-width="0.48"/>
<circle cx="201.79" cy="323.87" r="1.19" fill="#fff" stroke="#4bbcb4" stroke-width="0.48"/>
<circle cx="204.84" cy="304.26" r="1.19" fill="#fff" stroke="#4bbcb4" stroke-width="0.48"/>
<rect x="210.4" y="332.13" width="6" height="2.87" fill="#a888dc"/>
<rect x="217.6" y="321.38" width="6" height="13.62" fill="#ece4fa" stroke="#a888dc" stroke-width="0.5"/>
<line x1="213.4" y1="329.98" x2="213.4" y2="334.28" stroke="#9a74d4" stroke-width="0.5"/>
<line x1="212.1" y1="329.98" x2="214.7" y2="329.98" stroke="#9a74d4" stroke-width="0.5"/>
<line x1="212.1" y1="334.28" x2="214.7" y2="334.28" stroke="#9a74d4" stroke-width="0.5"/>
<line x1="220.6" y1="318.52" x2="220.6" y2="324.25" stroke="#9a74d4" stroke-width="0.5"/>
<line x1="219.3" y1="318.52" x2="221.9" y2="318.52" stroke="#9a74d4" stroke-width="0.5"/>
<line x1="219.3" y1="324.25" x2="221.9" y2="324.25" stroke="#9a74d4" stroke-width="0.5"/>
<circle cx="212.79" cy="323.93" r="1.19" fill="#fff" stroke="#9a74d4" stroke-width="0.48"/>
<circle cx="214.61" cy="326.55" r="1.19" fill="#fff" stroke="#9a74d4" stroke-width="0.48"/>
<circle cx="214.12" cy="324.69" r="1.19" fill="#fff" stroke="#9a74d4" stroke-width="0.48"/>
<circle cx="212.8" cy="326.27" r="1.19" fill="#fff" stroke="#9a74d4" stroke-width="0.48"/>
<circle cx="212.44" cy="332.54" r="1.19" fill="#fff" stroke="#9a74d4" stroke-width="0.48"/>
<circle cx="214.59" cy="326.66" r="1.19" fill="#fff" stroke="#9a74d4" stroke-width="0.48"/>
<circle cx="212.49" cy="319.36" r="1.19" fill="#fff" stroke="#9a74d4" stroke-width="0.48"/>
<circle cx="214.06" cy="329.82" r="1.19" fill="#fff" stroke="#9a74d4" stroke-width="0.48"/>
<circle cx="211.25" cy="330.79" r="1.19" fill="#fff" stroke="#9a74d4" stroke-width="0.48"/>
<circle cx="212.3" cy="327.21" r="1.19" fill="#fff" stroke="#9a74d4" stroke-width="0.48"/>
<circle cx="213.24" cy="323.06" r="1.19" fill="#fff" stroke="#9a74d4" stroke-width="0.48"/>
<circle cx="214.05" cy="323.6" r="1.19" fill="#fff" stroke="#9a74d4" stroke-width="0.48"/>
<circle cx="219.93" cy="314.48" r="1.19" fill="#fff" stroke="#9a74d4" stroke-width="0.48"/>
<circle cx="221.65" cy="308.41" r="1.19" fill="#fff" stroke="#9a74d4" stroke-width="0.48"/>
<circle cx="219.94" cy="307.93" r="1.19" fill="#fff" stroke="#9a74d4" stroke-width="0.48"/>
<circle cx="222.23" cy="313.02" r="1.19" fill="#fff" stroke="#9a74d4" stroke-width="0.48"/>
<circle cx="222.69" cy="304.18" r="1.19" fill="#fff" stroke="#9a74d4" stroke-width="0.48"/>
<circle cx="220.68" cy="318.27" r="1.19" fill="#fff" stroke="#9a74d4" stroke-width="0.48"/>
<circle cx="219.13" cy="308.14" r="1.19" fill="#fff" stroke="#9a74d4" stroke-width="0.48"/>
<circle cx="222.52" cy="319.98" r="1.19" fill="#fff" stroke="#9a74d4" stroke-width="0.48"/>
<circle cx="221.44" cy="311.99" r="1.19" fill="#fff" stroke="#9a74d4" stroke-width="0.48"/>
<circle cx="221.61" cy="330.05" r="1.19" fill="#fff" stroke="#9a74d4" stroke-width="0.48"/>
<circle cx="221.83" cy="316.57" r="1.19" fill="#fff" stroke="#9a74d4" stroke-width="0.48"/>
<circle cx="221.33" cy="321.84" r="1.19" fill="#fff" stroke="#9a74d4" stroke-width="0.48"/>
<line x1="160.2" y1="290.6" x2="168.2" y2="290.6" stroke="#444" stroke-width="0.6"/>
<text x="164.2" y="288.8" font-size="6.3" fill="#1a1a1a" text-anchor="middle">NS</text>
<line x1="176.4" y1="290.8" x2="188.4" y2="290.8" stroke="#444" stroke-width="0.6"/>
<text x="182.4" y="292.4" font-size="7.8" fill="#1a1a1a" text-anchor="middle">****</text>
<line x1="195" y1="290.8" x2="204.4" y2="290.8" stroke="#444" stroke-width="0.6"/>
<text x="199.7" y="292.4" font-size="7.8" fill="#1a1a1a" text-anchor="middle">***</text>
<line x1="213.6" y1="290.8" x2="221" y2="290.8" stroke="#444" stroke-width="0.6"/>
<text x="217.3" y="292.4" font-size="7.8" fill="#1a1a1a" text-anchor="middle">*</text>
<text x="163.8" y="361" font-size="6.5" fill="#1a1a1a" text-anchor="middle">Y</text>
<text x="181.8" y="361" font-size="6.5" fill="#1a1a1a" text-anchor="middle">Y</text>
<text x="199.4" y="361" font-size="6.5" fill="#1a1a1a" text-anchor="middle">O</text>
<text x="216.6" y="361" font-size="6.5" fill="#1a1a1a" text-anchor="middle">O</text>
<line x1="176.4" y1="364.3" x2="206" y2="364.3" stroke="#444" stroke-width="0.6"/>
<text x="190.6" y="371.2" font-size="6.5" fill="#1a1a1a" text-anchor="middle">Co-housed</text>
</g>
<g id="panel_q">
<text x="234" y="275.4" font-size="9.8" fill="#000" font-weight="bold" stroke="#000" stroke-width="0.35">q</text>
<rect x="250.9" y="272.3" width="7" height="6.9" fill="#707070"/>
<text x="260.8" y="278.2" font-size="6.31" fill="#1a1a1a">PBS</text>
<rect x="276.8" y="272.3" width="7" height="6.9" fill="#e4e4e4" stroke="#8c8c8c" stroke-width="0.5"/>
<text x="286.2" y="278.2" font-size="6.31" fill="#1a1a1a">Capsaicin</text>
<line x1="257.6" y1="292" x2="257.6" y2="362.6" stroke="#444" stroke-width="0.6"/>
<line x1="254.3" y1="292" x2="257.6" y2="292" stroke="#444" stroke-width="0.6"/>
<text x="252.9" y="294.25" font-size="6.2" fill="#1a1a1a" text-anchor="end">0.4</text>
<line x1="254.3" y1="320" x2="257.6" y2="320" stroke="#444" stroke-width="0.6"/>
<text x="252.9" y="322.25" font-size="6.2" fill="#1a1a1a" text-anchor="end">0.2</text>
<line x1="254.3" y1="348" x2="257.6" y2="348" stroke="#444" stroke-width="0.6"/>
<text x="252.9" y="350.25" font-size="6.2" fill="#1a1a1a" text-anchor="end">0</text>
<line x1="257.6" y1="348" x2="307" y2="348" stroke="#444" stroke-width="0.6"/>
<text font-size="6.5" fill="#1a1a1a" text-anchor="middle" transform="translate(240 327.5) rotate(-90)">Recognition index</text>
<rect x="262.4" y="322.1" width="7.2" height="25.9" fill="#707070"/>
<rect x="271" y="317.9" width="7.4" height="30.1" fill="#e0e0e0" stroke="#8c8c8c" stroke-width="0.5"/>
<rect x="287.6" y="335.82" width="6.9" height="12.18" fill="#f0705c"/>
<rect x="296.5" y="322.8" width="7.4" height="25.2" fill="#fcdcd5" stroke="#f0604a" stroke-width="0.5"/>
<line x1="266" y1="310.2" x2="274.8" y2="301.1" stroke="#222" stroke-width="0.6"/>
<line x1="266" y1="316.5" x2="274.8" y2="306" stroke="#222" stroke-width="0.6"/>
<line x1="266" y1="324.9" x2="274.8" y2="328.4" stroke="#222" stroke-width="0.6"/>
<line x1="266" y1="329.8" x2="274.8" y2="332.6" stroke="#222" stroke-width="0.6"/>
<line x1="266" y1="336.8" x2="274.8" y2="336.8" stroke="#222" stroke-width="0.6"/>
<circle cx="266" cy="310.2" r="1.25" fill="#fff" stroke="#888" stroke-width="0.48"/>
<circle cx="266" cy="316.5" r="1.25" fill="#fff" stroke="#888" stroke-width="0.48"/>
<circle cx="266" cy="324.9" r="1.25" fill="#fff" stroke="#888" stroke-width="0.48"/>
<circle cx="266" cy="329.8" r="1.25" fill="#fff" stroke="#888" stroke-width="0.48"/>
<circle cx="266" cy="336.8" r="1.25" fill="#fff" stroke="#888" stroke-width="0.48"/>
<circle cx="274.8" cy="301.1" r="1.25" fill="#fff" stroke="#888" stroke-width="0.48"/>
<circle cx="274.8" cy="306" r="1.25" fill="#fff" stroke="#888" stroke-width="0.48"/>
<circle cx="274.8" cy="328.4" r="1.25" fill="#fff" stroke="#888" stroke-width="0.48"/>
<circle cx="274.8" cy="332.6" r="1.25" fill="#fff" stroke="#888" stroke-width="0.48"/>
<circle cx="274.8" cy="336.8" r="1.25" fill="#fff" stroke="#888" stroke-width="0.48"/>
<line x1="291" y1="325.6" x2="300.2" y2="320" stroke="#f0604a" stroke-width="0.6"/>
<line x1="291" y1="327" x2="300.2" y2="321.4" stroke="#f0604a" stroke-width="0.6"/>
<line x1="291" y1="328.4" x2="300.2" y2="315.8" stroke="#f0604a" stroke-width="0.6"/>
<line x1="291" y1="334" x2="300.2" y2="318.6" stroke="#f0604a" stroke-width="0.6"/>
<line x1="291" y1="358.5" x2="300.2" y2="315.8" stroke="#f0604a" stroke-width="0.6"/>
<line x1="291" y1="341" x2="300.2" y2="331.2" stroke="#f0604a" stroke-width="0.6"/>
<circle cx="291" cy="325.6" r="1.25" fill="#fff" stroke="#f0604a" stroke-width="0.48"/>
<circle cx="291" cy="327" r="1.25" fill="#fff" stroke="#f0604a" stroke-width="0.48"/>
<circle cx="291" cy="328.4" r="1.25" fill="#fff" stroke="#f0604a" stroke-width="0.48"/>
<circle cx="291" cy="334" r="1.25" fill="#fff" stroke="#f0604a" stroke-width="0.48"/>
<circle cx="291" cy="358.5" r="1.25" fill="#fff" stroke="#f0604a" stroke-width="0.48"/>
<circle cx="291" cy="341" r="1.25" fill="#fff" stroke="#f0604a" stroke-width="0.48"/>
<circle cx="300.2" cy="320" r="1.25" fill="#fff" stroke="#f0604a" stroke-width="0.48"/>
<circle cx="300.2" cy="321.4" r="1.25" fill="#fff" stroke="#f0604a" stroke-width="0.48"/>
<circle cx="300.2" cy="315.8" r="1.25" fill="#fff" stroke="#f0604a" stroke-width="0.48"/>
<circle cx="300.2" cy="318.6" r="1.25" fill="#fff" stroke="#f0604a" stroke-width="0.48"/>
<circle cx="300.2" cy="315.8" r="1.25" fill="#fff" stroke="#f0604a" stroke-width="0.48"/>
<circle cx="300.2" cy="331.2" r="1.25" fill="#fff" stroke="#f0604a" stroke-width="0.48"/>
<line x1="265" y1="291.8" x2="275.6" y2="291.8" stroke="#444" stroke-width="0.6"/>
<text x="270.3" y="290" font-size="6.3" fill="#1a1a1a" text-anchor="middle">NS</text>
<line x1="290" y1="291.8" x2="300.4" y2="291.8" stroke="#444" stroke-width="0.6"/>
<text x="295.2" y="293.4" font-size="7.8" fill="#1a1a1a" text-anchor="middle">*</text>
<text font-size="6.5" fill="#1a1a1a" text-anchor="end" transform="translate(272.2 356) rotate(-90)">Control</text>
<text font-size="6.5" fill="#1a1a1a" text-anchor="end" font-style="italic" transform="translate(298.6 355.4) rotate(-90)">P. goldsteinii</text>
</g>
<g id="panel_r">
<text x="330" y="274.2" font-size="9.8" fill="#000" font-weight="bold" stroke="#000" stroke-width="0.35">r</text>
<text x="336.6" y="278.4" font-size="6.4" fill="#1a1a1a" font-style="italic">Trpv1<tspan dy="-2.43" font-size="3.84">WT</tspan><tspan dy="2.43">​</tspan>Phox2b<tspan dy="-2.43" font-size="3.84">FlpO</tspan><tspan dy="2.43">​</tspan>hM4Di</text>
<text x="336.6" y="329" font-size="6.4" fill="#1a1a1a" font-style="italic">Trpv1<tspan dy="-2.43" font-size="3.84">Cre</tspan><tspan dy="2.43">​</tspan>Phox2b<tspan dy="-2.43" font-size="3.84">FlpO</tspan><tspan dy="2.43">​</tspan>hM4Di</text>
<g clip-path="url(#cp18)">
<rect x="337.4" y="280.2" width="64.4" height="38.6" fill="#360505"/>
<path d="M337.4 304.13 L350.28 309.15 L356.72 318.8 L337.4 318.8 Z" fill="#100101" filter="url(#b2)"/>
<g filter="url(#b2)" fill="none" stroke="#a81410" stroke-width="7" stroke-linecap="round" opacity="0.9"><path d="M342.55 291.78 C356.72 283.29 369.6 292.55 381.19 299.5 S394.07 303.36 399.22 305.68"/><path d="M353.5 309.54 C363.16 301.82 376.04 307.22 385.7 311.08 S395.36 311.08 399.22 307.22"/></g>
<g filter="url(#b1)" fill="none" stroke="#d02018" stroke-width="3" stroke-linecap="round" opacity="0.7"><path d="M342.55 291.78 C356.72 283.29 369.6 292.55 381.19 299.5 S394.07 303.36 399.22 305.68"/><path d="M353.5 309.54 C363.16 301.82 376.04 307.22 385.7 311.08 S395.36 311.08 399.22 307.22"/></g>
<ellipse cx="351.57" cy="301.43" rx="6" ry="2.5" fill="#b06a20" opacity="0.35" filter="url(#b1)"/>
<rect x="337.4" y="280.2" width="64.4" height="38.6" fill="#ff3020" filter="url(#nzR)" opacity="0.13"/>
<rect x="337.4" y="280.2" width="64.4" height="38.6" fill="#180202" filter="url(#nzR2)" opacity="0.5"/>
</g>
<g clip-path="url(#cp19)">
<rect x="337.4" y="331.4" width="64.4" height="38.6" fill="#560707"/>
<g filter="url(#b2)" fill="none" stroke="#a81410" stroke-width="7" stroke-linecap="round" opacity="0.9"><path d="M340.62 343.75 C356.72 332.17 369.6 342.98 381.19 351.47 S394.07 358.42 399.22 360.74"/><path d="M343.84 364.6 C356.72 352.63 372.82 360.35 383.77 363.82 S395.36 365.37 399.22 363.82"/></g>
<g filter="url(#b1)" fill="none" stroke="#d02018" stroke-width="3" stroke-linecap="round" opacity="0.7"><path d="M340.62 343.75 C356.72 332.17 369.6 342.98 381.19 351.47 S394.07 358.42 399.22 360.74"/><path d="M343.84 364.6 C356.72 352.63 372.82 360.35 383.77 363.82 S395.36 365.37 399.22 363.82"/></g>
<ellipse cx="351.57" cy="352.63" rx="6" ry="2.5" fill="#b06a20" opacity="0.35" filter="url(#b1)"/>
<rect x="337.4" y="331.4" width="64.4" height="38.6" fill="#ff3020" filter="url(#nzR)" opacity="0.13"/>
<rect x="337.4" y="331.4" width="64.4" height="38.6" fill="#180202" filter="url(#nzR2)" opacity="0.5"/>
</g>
<rect x="338.6" y="281.6" width="5.2" height="1.3" fill="#fff"/>
<text x="371" y="377.6" font-size="6.5" fill="#e8413c" text-anchor="end">NeuN</text>
<text x="373" y="377.6" font-size="6.5" fill="#2f9d7e">FOS</text>
</g>
<g id="panel_s">
<text x="416" y="275.6" font-size="9.8" fill="#000" font-weight="bold" stroke="#000" stroke-width="0.35">s</text>
<line x1="444.6" y1="280" x2="444.6" y2="363.7" stroke="#444" stroke-width="0.6"/>
<line x1="441.3" y1="280" x2="444.6" y2="280" stroke="#444" stroke-width="0.6"/>
<text x="439.9" y="282.25" font-size="6.2" fill="#1a1a1a" text-anchor="end">400</text>
<line x1="441.3" y1="300.93" x2="444.6" y2="300.93" stroke="#444" stroke-width="0.6"/>
<text x="439.9" y="303.18" font-size="6.2" fill="#1a1a1a" text-anchor="end">300</text>
<line x1="441.3" y1="321.85" x2="444.6" y2="321.85" stroke="#444" stroke-width="0.6"/>
<text x="439.9" y="324.1" font-size="6.2" fill="#1a1a1a" text-anchor="end">200</text>
<line x1="441.3" y1="342.77" x2="444.6" y2="342.77" stroke="#444" stroke-width="0.6"/>
<text x="439.9" y="345.02" font-size="6.2" fill="#1a1a1a" text-anchor="end">100</text>
<line x1="441.3" y1="363.7" x2="444.6" y2="363.7" stroke="#444" stroke-width="0.6"/>
<text x="439.9" y="365.95" font-size="6.2" fill="#1a1a1a" text-anchor="end">0</text>
<line x1="444.6" y1="363.7" x2="486" y2="363.7" stroke="#444" stroke-width="0.6"/>
<text font-size="6.5" fill="#1a1a1a" text-anchor="middle" transform="translate(423 322) rotate(-90)">FOS<tspan dy="-2.47" font-size="3.9">+</tspan><tspan dy="2.47">​</tspan> cells per mm<tspan dy="-2.47" font-size="3.9">2</tspan><tspan dy="2.47">​</tspan></text>
<rect x="450.2" y="309.3" width="12" height="54.4" fill="#707070"/>
<line x1="456.2" y1="305.53" x2="456.2" y2="313.06" stroke="#444" stroke-width="0.5"/>
<line x1="453.8" y1="305.53" x2="458.6" y2="305.53" stroke="#444" stroke-width="0.5"/>
<line x1="453.8" y1="313.06" x2="458.6" y2="313.06" stroke="#444" stroke-width="0.5"/>
<circle cx="456.2" cy="284.6" r="1.38" fill="#fff" stroke="#888" stroke-width="0.48"/>
<circle cx="456.2" cy="300.93" r="1.38" fill="#fff" stroke="#888" stroke-width="0.48"/>
<circle cx="454.2" cy="308.25" r="1.38" fill="#fff" stroke="#888" stroke-width="0.48"/>
<circle cx="458.2" cy="309.3" r="1.38" fill="#fff" stroke="#888" stroke-width="0.48"/>
<circle cx="453.2" cy="310.97" r="1.38" fill="#fff" stroke="#888" stroke-width="0.48"/>
<circle cx="459.2" cy="312.43" r="1.38" fill="#fff" stroke="#888" stroke-width="0.48"/>
<circle cx="456.2" cy="313.9" r="1.38" fill="#fff" stroke="#888" stroke-width="0.48"/>
<circle cx="454.2" cy="315.57" r="1.38" fill="#fff" stroke="#888" stroke-width="0.48"/>
<circle cx="458.2" cy="318.71" r="1.38" fill="#fff" stroke="#888" stroke-width="0.48"/>
<circle cx="456.2" cy="326.03" r="1.38" fill="#fff" stroke="#888" stroke-width="0.48"/>
<rect x="468.6" y="331.68" width="12" height="32.02" fill="#e0e0e0" stroke="#8c8c8c" stroke-width="0.5"/>
<line x1="474.6" y1="329.59" x2="474.6" y2="333.78" stroke="#666" stroke-width="0.5"/>
<line x1="472.2" y1="329.59" x2="477" y2="329.59" stroke="#666" stroke-width="0.5"/>
<line x1="472.2" y1="333.78" x2="477" y2="333.78" stroke="#666" stroke-width="0.5"/>
<circle cx="474.6" cy="321.85" r="1.38" fill="#fff" stroke="#888" stroke-width="0.48"/>
<circle cx="474.6" cy="326.03" r="1.38" fill="#fff" stroke="#888" stroke-width="0.48"/>
<circle cx="472.6" cy="329.17" r="1.38" fill="#fff" stroke="#888" stroke-width="0.48"/>
<circle cx="476.6" cy="330.22" r="1.38" fill="#fff" stroke="#888" stroke-width="0.48"/>
<circle cx="471.6" cy="331.89" r="1.38" fill="#fff" stroke="#888" stroke-width="0.48"/>
<circle cx="477.6" cy="332.73" r="1.38" fill="#fff" stroke="#888" stroke-width="0.48"/>
<circle cx="474.6" cy="334.4" r="1.38" fill="#fff" stroke="#888" stroke-width="0.48"/>
<circle cx="472.6" cy="336.5" r="1.38" fill="#fff" stroke="#888" stroke-width="0.48"/>
<circle cx="476.6" cy="338.59" r="1.38" fill="#fff" stroke="#888" stroke-width="0.48"/>
<circle cx="474.6" cy="341.1" r="1.38" fill="#fff" stroke="#888" stroke-width="0.48"/>
<line x1="456" y1="277.2" x2="475" y2="277.2" stroke="#444" stroke-width="0.6"/>
<text x="465.5" y="278.8" font-size="7.8" fill="#1a1a1a" text-anchor="middle">****</text>
<text x="447" y="373.8" font-size="6.5" fill="#1a1a1a" text-anchor="end" font-style="italic">Trpv1<tspan dy="-2.47" font-size="3.9">Cre</tspan><tspan dy="2.47">​</tspan>:</text>
<text x="447" y="382.4" font-size="6.5" fill="#1a1a1a" text-anchor="end" font-style="italic">Phox2b<tspan dy="-2.47" font-size="3.9">FlpO</tspan><tspan dy="2.47">​</tspan>:</text>
<text x="447" y="390.8" font-size="6.5" fill="#1a1a1a" text-anchor="end" font-style="italic">hM4Di:</text>
<text x="456.4" y="373.8" font-size="6.5" fill="#1a1a1a" text-anchor="middle">−</text>
<text x="456.4" y="382.4" font-size="6.5" fill="#1a1a1a" text-anchor="middle">+</text>
<text x="456.4" y="390.8" font-size="6.5" fill="#1a1a1a" text-anchor="middle">+</text>
<text x="474.8" y="373.8" font-size="6.5" fill="#1a1a1a" text-anchor="middle">+</text>
<text x="474.8" y="382.4" font-size="6.5" fill="#1a1a1a" text-anchor="middle">+</text>
<text x="474.8" y="390.8" font-size="6.5" fill="#1a1a1a" text-anchor="middle">+</text>
</g>
<g id="panel_t">
<text x="497" y="275" font-size="9.8" fill="#000" font-weight="bold" stroke="#000" stroke-width="0.35">t</text>
<line x1="524" y1="283" x2="524" y2="363.8" stroke="#444" stroke-width="0.6"/>
<line x1="520.7" y1="283" x2="524" y2="283" stroke="#444" stroke-width="0.6"/>
<text x="519.3" y="285.25" font-size="6.2" fill="#1a1a1a" text-anchor="end">0.3</text>
<line x1="520.7" y1="309.93" x2="524" y2="309.93" stroke="#444" stroke-width="0.6"/>
<text x="519.3" y="312.18" font-size="6.2" fill="#1a1a1a" text-anchor="end">0.2</text>
<line x1="520.7" y1="336.87" x2="524" y2="336.87" stroke="#444" stroke-width="0.6"/>
<text x="519.3" y="339.12" font-size="6.2" fill="#1a1a1a" text-anchor="end">0.1</text>
<line x1="520.7" y1="363.8" x2="524" y2="363.8" stroke="#444" stroke-width="0.6"/>
<text x="519.3" y="366.05" font-size="6.2" fill="#1a1a1a" text-anchor="end">0</text>
<line x1="524" y1="363.8" x2="583.5" y2="363.8" stroke="#444" stroke-width="0.6"/>
<text font-size="6.5" fill="#1a1a1a" text-anchor="middle" transform="translate(505 324) rotate(-90)">Recognition index</text>
<rect x="528.2" y="307.24" width="8.2" height="56.56" fill="#707070"/>
<rect x="540.8" y="321.51" width="8.2" height="42.29" fill="#e0e0e0" stroke="#8c8c8c" stroke-width="0.5"/>
<rect x="561.2" y="315.32" width="8" height="48.48" fill="#707070"/>
<rect x="573.2" y="338.75" width="8.4" height="25.05" fill="#e0e0e0" stroke="#8c8c8c" stroke-width="0.5"/>
<line x1="532.3" y1="293.77" x2="545" y2="309.93" stroke="#222" stroke-width="0.6"/>
<line x1="532.3" y1="305.89" x2="545" y2="344.95" stroke="#222" stroke-width="0.6"/>
<line x1="532.3" y1="307.24" x2="545" y2="315.32" stroke="#222" stroke-width="0.6"/>
<line x1="532.3" y1="309.93" x2="545" y2="322.05" stroke="#222" stroke-width="0.6"/>
<line x1="532.3" y1="319.36" x2="545" y2="308.59" stroke="#222" stroke-width="0.6"/>
<line x1="532.3" y1="307.24" x2="545" y2="326.09" stroke="#222" stroke-width="0.6"/>
<circle cx="532.3" cy="293.77" r="1.25" fill="#fff" stroke="#888" stroke-width="0.48"/>
<circle cx="532.3" cy="305.89" r="1.25" fill="#fff" stroke="#888" stroke-width="0.48"/>
<circle cx="532.3" cy="307.24" r="1.25" fill="#fff" stroke="#888" stroke-width="0.48"/>
<circle cx="532.3" cy="309.93" r="1.25" fill="#fff" stroke="#888" stroke-width="0.48"/>
<circle cx="532.3" cy="319.36" r="1.25" fill="#fff" stroke="#888" stroke-width="0.48"/>
<circle cx="532.3" cy="307.24" r="1.25" fill="#fff" stroke="#888" stroke-width="0.48"/>
<circle cx="545" cy="309.93" r="1.25" fill="#fff" stroke="#888" stroke-width="0.48"/>
<circle cx="545" cy="344.95" r="1.25" fill="#fff" stroke="#888" stroke-width="0.48"/>
<circle cx="545" cy="315.32" r="1.25" fill="#fff" stroke="#888" stroke-width="0.48"/>
<circle cx="545" cy="322.05" r="1.25" fill="#fff" stroke="#888" stroke-width="0.48"/>
<circle cx="545" cy="308.59" r="1.25" fill="#fff" stroke="#888" stroke-width="0.48"/>
<circle cx="545" cy="326.09" r="1.25" fill="#fff" stroke="#888" stroke-width="0.48"/>
<line x1="565.2" y1="303.2" x2="577.4" y2="363.8" stroke="#222" stroke-width="0.6"/>
<line x1="565.2" y1="304.55" x2="577.4" y2="342.25" stroke="#222" stroke-width="0.6"/>
<line x1="565.2" y1="307.24" x2="577.4" y2="334.17" stroke="#222" stroke-width="0.6"/>
<line x1="565.2" y1="309.93" x2="577.4" y2="339.56" stroke="#222" stroke-width="0.6"/>
<line x1="565.2" y1="312.63" x2="577.4" y2="350.33" stroke="#222" stroke-width="0.6"/>
<line x1="565.2" y1="315.32" x2="577.4" y2="336.87" stroke="#222" stroke-width="0.6"/>
<line x1="565.2" y1="316.67" x2="577.4" y2="332.83" stroke="#222" stroke-width="0.6"/>
<line x1="565.2" y1="318.01" x2="577.4" y2="344.95" stroke="#222" stroke-width="0.6"/>
<line x1="565.2" y1="319.36" x2="577.4" y2="311.28" stroke="#222" stroke-width="0.6"/>
<line x1="565.2" y1="320.71" x2="577.4" y2="358.41" stroke="#222" stroke-width="0.6"/>
<line x1="565.2" y1="323.4" x2="577.4" y2="340.91" stroke="#222" stroke-width="0.6"/>
<line x1="565.2" y1="326.09" x2="577.4" y2="347.64" stroke="#222" stroke-width="0.6"/>
<line x1="565.2" y1="331.48" x2="577.4" y2="363.8" stroke="#222" stroke-width="0.6"/>
<line x1="565.2" y1="313.97" x2="577.4" y2="331.48" stroke="#222" stroke-width="0.6"/>
<circle cx="565.2" cy="303.2" r="1.25" fill="#fff" stroke="#888" stroke-width="0.48"/>
<circle cx="565.2" cy="304.55" r="1.25" fill="#fff" stroke="#888" stroke-width="0.48"/>
<circle cx="565.2" cy="307.24" r="1.25" fill="#fff" stroke="#888" stroke-width="0.48"/>
<circle cx="565.2" cy="309.93" r="1.25" fill="#fff" stroke="#888" stroke-width="0.48"/>
<circle cx="565.2" cy="312.63" r="1.25" fill="#fff" stroke="#888" stroke-width="0.48"/>
<circle cx="565.2" cy="315.32" r="1.25" fill="#fff" stroke="#888" stroke-width="0.48"/>
<circle cx="565.2" cy="316.67" r="1.25" fill="#fff" stroke="#888" stroke-width="0.48"/>
<circle cx="565.2" cy="318.01" r="1.25" fill="#fff" stroke="#888" stroke-width="0.48"/>
<circle cx="565.2" cy="319.36" r="1.25" fill="#fff" stroke="#888" stroke-width="0.48"/>
<circle cx="565.2" cy="320.71" r="1.25" fill="#fff" stroke="#888" stroke-width="0.48"/>
<circle cx="565.2" cy="323.4" r="1.25" fill="#fff" stroke="#888" stroke-width="0.48"/>
<circle cx="565.2" cy="326.09" r="1.25" fill="#fff" stroke="#888" stroke-width="0.48"/>
<circle cx="565.2" cy="331.48" r="1.25" fill="#fff" stroke="#888" stroke-width="0.48"/>
<circle cx="565.2" cy="313.97" r="1.25" fill="#fff" stroke="#888" stroke-width="0.48"/>
<circle cx="577.4" cy="363.8" r="1.25" fill="#fff" stroke="#888" stroke-width="0.48"/>
<circle cx="577.4" cy="342.25" r="1.25" fill="#fff" stroke="#888" stroke-width="0.48"/>
<circle cx="577.4" cy="334.17" r="1.25" fill="#fff" stroke="#888" stroke-width="0.48"/>
<circle cx="577.4" cy="339.56" r="1.25" fill="#fff" stroke="#888" stroke-width="0.48"/>
<circle cx="577.4" cy="350.33" r="1.25" fill="#fff" stroke="#888" stroke-width="0.48"/>
<circle cx="577.4" cy="336.87" r="1.25" fill="#fff" stroke="#888" stroke-width="0.48"/>
<circle cx="577.4" cy="332.83" r="1.25" fill="#fff" stroke="#888" stroke-width="0.48"/>
<circle cx="577.4" cy="344.95" r="1.25" fill="#fff" stroke="#888" stroke-width="0.48"/>
<circle cx="577.4" cy="311.28" r="1.25" fill="#fff" stroke="#888" stroke-width="0.48"/>
<circle cx="577.4" cy="358.41" r="1.25" fill="#fff" stroke="#888" stroke-width="0.48"/>
<circle cx="577.4" cy="340.91" r="1.25" fill="#fff" stroke="#888" stroke-width="0.48"/>
<circle cx="577.4" cy="347.64" r="1.25" fill="#fff" stroke="#888" stroke-width="0.48"/>
<circle cx="577.4" cy="363.8" r="1.25" fill="#fff" stroke="#888" stroke-width="0.48"/>
<circle cx="577.4" cy="331.48" r="1.25" fill="#fff" stroke="#888" stroke-width="0.48"/>
<line x1="533.2" y1="288.8" x2="544.6" y2="288.8" stroke="#444" stroke-width="0.6"/>
<text x="538.9" y="287" font-size="6.3" fill="#1a1a1a" text-anchor="middle">NS</text>
<line x1="565.6" y1="288.8" x2="577.2" y2="288.8" stroke="#444" stroke-width="0.6"/>
<text x="571.4" y="290.4" font-size="7.8" fill="#1a1a1a" text-anchor="middle">***</text>
<rect x="585.4" y="287.6" width="7" height="7" fill="#707070" stroke="#555" stroke-width="0.4"/>
<text x="595.6" y="293.4" font-size="6.6" fill="#1a1a1a">Vehicle</text>
<rect x="585.4" y="298.8" width="7" height="7" fill="#e4e4e4" stroke="#8c8c8c" stroke-width="0.5"/>
<text x="595.6" y="304.6" font-size="6.6" fill="#1a1a1a">CNO</text>
<text x="525.6" y="373.6" font-size="6.5" fill="#1a1a1a" text-anchor="end" font-style="italic">Trpv1<tspan dy="-2.47" font-size="3.9">Cre</tspan><tspan dy="2.47">​</tspan>:</text>
<text x="525.6" y="382.2" font-size="6.5" fill="#1a1a1a" text-anchor="end" font-style="italic">Phox2b<tspan dy="-2.47" font-size="3.9">FlpO</tspan><tspan dy="2.47">​</tspan>:</text>
<text x="525.6" y="390.8" font-size="6.5" fill="#1a1a1a" text-anchor="end" font-style="italic">hM4Di:</text>
<text x="538.4" y="373.6" font-size="6.5" fill="#1a1a1a" text-anchor="middle">−</text>
<text x="538.4" y="382.2" font-size="6.5" fill="#1a1a1a" text-anchor="middle">+</text>
<text x="538.4" y="390.8" font-size="6.5" fill="#1a1a1a" text-anchor="middle">+</text>
<text x="571.4" y="373.6" font-size="6.5" fill="#1a1a1a" text-anchor="middle">+</text>
<text x="571.4" y="382.2" font-size="6.5" fill="#1a1a1a" text-anchor="middle">+</text>
<text x="571.4" y="390.8" font-size="6.5" fill="#1a1a1a" text-anchor="middle">+</text>
</g>
<g id="panel_u">
<text x="0.3" y="408.8" font-size="9.8" fill="#000" font-weight="bold" stroke="#000" stroke-width="0.35">u</text>
<text x="18.6" y="415.8" font-size="6.4" fill="#1a1a1a" font-style="italic">Snap25-GCaMP6s</text>
<rect x="40.6" y="421.5" width="12.8" height="6" fill="url(#cylb)" rx="1.2"/>
<rect x="40.6" y="425.5" width="12.8" height="19.5" fill="url(#cyl)"/>
<rect x="42.6" y="445" width="8.8" height="2" fill="#5c6065"/>
<path d="M44 447 L50 447 L48.4 460 L46.4 460 Z" fill="#2f7fe0" opacity="0.9"/>
<path d="M47.5 498 C46 506 47.5 512 46.5 519 C45.8 524 46.5 529 47.6 533.5" fill="none" stroke="#b79a92" stroke-width="1.2" stroke-linecap="round"/>
<path d="M40 464.5 C35 461 31 459.5 28 460.6" fill="none" stroke="#3f3b3b" stroke-width="2.4" stroke-linecap="round"/>
<path d="M55 464.5 C60 461 64 459.5 67 460.6" fill="none" stroke="#3f3b3b" stroke-width="2.4" stroke-linecap="round"/>
<path d="M28.2 460 l-2.2 -1.6 M28 461 l-2.8 0.2 M28.4 462 l-2 1.6" fill="none" stroke="#d9b3a8" stroke-width="0.7"/>
<path d="M66.8 460 l2.2 -1.6 M67 461 l2.8 0.2 M66.6 462 l2 1.6" fill="none" stroke="#d9b3a8" stroke-width="0.7"/>
<path d="M38 492 C34 495 31.5 497.5 30.5 500.5" fill="none" stroke="#3f3b3b" stroke-width="3.2" stroke-linecap="round"/>
<path d="M57 492 C61 495 63.5 497.5 64.5 500.5" fill="none" stroke="#3f3b3b" stroke-width="3.2" stroke-linecap="round"/>
<path d="M30.5 501 l-3.4 0.4 M30.5 501.5 l-2.6 1.6" fill="none" stroke="#d9b3a8" stroke-width="0.8"/>
<path d="M64.5 501 l3.4 0.4 M64.5 501.5 l2.6 1.6" fill="none" stroke="#d9b3a8" stroke-width="0.8"/>
<path d="M47.5 454 C44 454 41.8 458 41 462 C37.5 464.5 35.5 468 36.6 472.5 C37.2 475 36 477 34.6 480 C32.4 485 32.6 492 36.5 496 C39.5 499 44 500 47.5 500 C51 500 55.5 499 58.5 496 C62.4 492 62.6 485 60.4 480 C59 477 57.8 475 58.4 472.5 C59.5 468 57.5 464.5 54 462 C53.2 458 51 454 47.5 454 Z" fill="#3f3b3b"/>
<ellipse cx="41.4" cy="459.6" rx="2.5" ry="2.1" fill="#564e4e"/><ellipse cx="53.6" cy="459.6" rx="2.5" ry="2.1" fill="#564e4e"/>
<path d="M45.3 457 L49.7 457 L49.2 466 L47.5 469.5 L45.8 466 Z" fill="#b0222a"/>
<ellipse cx="47.5" cy="456.4" rx="2.2" ry="1.7" fill="#2f7fe0"/>
<path d="M40.5 473 C43 471.5 52 471.5 54.5 473 C57 478 56.6 484 54 487.5 C51.5 489.5 43.5 489.5 41 487.5 C38.4 484 38 478 40.5 473 Z" fill="#bf8a84"/>
<path d="M41 476.5 C44.5 475.3 50.5 475.3 54 476.5 M40.2 480.5 C44.5 479.3 50.5 479.3 54.8 480.5 M41 484.5 C44.5 483.5 50.5 483.5 54 484.5" fill="none" stroke="#a06862" stroke-width="0.6"/>
<line x1="50.5" y1="455" x2="68.6" y2="424.6" stroke="#222" stroke-width="0.55"/>
<line x1="53" y1="461" x2="76.4" y2="452.6" stroke="#222" stroke-width="0.55"/>
<circle cx="82.2" cy="435.6" r="17.6" fill="#0a0a0a"/>
<path d="M82.2 419.3 C88 426.8 92.5 431.8 92.5 435.8 C92.5 439.8 88 445.8 82.2 452.8 C76.4 445.8 71.9 439.8 71.9 435.8 C71.9 431.8 76.4 426.8 82.2 419.3 Z" fill="#3f9d4c"/>
<circle cx="78" cy="430.8" r="3" fill="#dfe9f4" stroke="#9fb6d6" stroke-width="0.3"/>
<circle cx="84" cy="430" r="3.2" fill="#c7d8ee" stroke="#9fb6d6" stroke-width="0.3"/>
<circle cx="88" cy="435" r="3" fill="#e6eef7" stroke="#9fb6d6" stroke-width="0.3"/>
<circle cx="80" cy="438" r="3.2" fill="#6c95d4" stroke="#9fb6d6" stroke-width="0.3"/>
<circle cx="85.5" cy="440" r="3" fill="#dfe9f4" stroke="#9fb6d6" stroke-width="0.3"/>
<circle cx="77" cy="443" r="2.6" fill="#c7d8ee" stroke="#9fb6d6" stroke-width="0.3"/>
<circle cx="83" cy="445" r="2.6" fill="#5f88c8" stroke="#9fb6d6" stroke-width="0.3"/>
<circle cx="87.5" cy="444" r="2.2" fill="#e6eef7" stroke="#9fb6d6" stroke-width="0.3"/>
<circle cx="82" cy="435" r="2.4" fill="#f2f6fb" stroke="#9fb6d6" stroke-width="0.3"/>
<circle cx="75.5" cy="437" r="2.2" fill="#7aa0d8" stroke="#9fb6d6" stroke-width="0.3"/>
<text x="73.4" y="463.6" font-size="6.5" fill="#1a1a1a">Nodose</text>
<text x="73.4" y="470.8" font-size="6.5" fill="#1a1a1a">ganglion</text>
<text x="4" y="471.6" font-size="6.5" fill="#1a1a1a">Exit port</text>
<path d="M23 473 L33.6 477.4" fill="none" stroke="#3c4a5a" stroke-width="0.9"/>
<path d="M35.6 478.3 L31.6 478.4 L32.8 475.4 Z" fill="#3c4a5a"/>
<text x="66.4" y="493.8" font-size="6.5" fill="#1a1a1a">Nutrients</text>
<path d="M70 485 L60 479.5" fill="none" stroke="#c9b9a6" stroke-width="1.2"/>
<path d="M62 480.6 L56 477.2" fill="none" stroke="#888" stroke-width="0.5"/>
</g>
<g id="panel_v">
<text x="112" y="409.2" font-size="9.8" fill="#000" font-weight="bold" stroke="#000" stroke-width="0.35">v</text>
<text x="160.5" y="411.8" font-size="6.5" fill="#1a1a1a" text-anchor="middle">Young</text>
<rect x="124.6" y="414.4" width="72.2" height="106.8" fill="#5a1980"/>
<g shape-rendering="crispEdges">
<path d="M139.64 414.4h1v1h-1zM140.64 415.4h2.01v1h-2.01zM138.64 416.4h1v1h-1zM140.64 417.39h1v1h-1zM140.64 418.39h1v1h-1zM140.64 419.39h3.01v1h-3.01zM124.6 420.39h18.05v1h-18.05zM124.6 421.39h16.04v1h-16.04zM124.6 422.39h20.06v1h-20.06zM144.66 423.38h1v1h-1zM143.65 424.38h2.01v1h-2.01zM145.66 425.38h1v1h-1zM144.66 426.38h1v1h-1zM144.66 427.38h1v1h-1zM145.66 428.37h1v1h-1zM124.6 429.37h21.06v1h-21.06zM146.66 430.37h2.01v1h-2.01zM148.67 431.37h1v1h-1zM124.6 432.37h22.06v1h-22.06zM148.67 433.36h1v1h-1zM148.67 434.36h1v1h-1zM148.67 435.36h2.01v1h-2.01zM124.6 436.36h27.07v1h-27.07zM124.6 437.36h27.07v1h-27.07zM124.6 438.36h28.08v1h-28.08zM150.67 439.35h1v1h-1zM151.67 440.35h3.01v1h-3.01zM124.6 441.35h27.07v1h-27.07zM151.67 442.35h1v1h-1zM153.68 443.35h2.01v1h-2.01zM153.68 444.34h2.01v1h-2.01zM124.6 445.34h30.08v1h-30.08zM155.69 446.34h1v1h-1zM124.6 447.34h31.09v1h-31.09zM124.6 448.34h33.09v1h-33.09zM124.6 450.33h33.09v1h-33.09zM156.69 451.33h2.01v1h-2.01zM157.69 452.33h2.01v1h-2.01zM124.6 454.33h35.1v1h-35.1zM160.7 455.32h2.01v1h-2.01zM124.6 456.32h37.1v1h-37.1zM124.6 457.32h36.1v1h-36.1zM124.6 458.32h38.11v1h-38.11zM124.6 459.32h38.11v1h-38.11zM124.6 460.31h38.11v1h-38.11zM124.6 461.31h39.11v1h-39.11zM124.6 463.31h40.11v1h-40.11zM124.6 464.31h39.11v1h-39.11zM124.6 465.3h41.11v1h-41.11zM165.71 466.3h2.01v1h-2.01zM167.72 467.3h3.01v1h-3.01zM167.72 468.3h3.01v1h-3.01zM168.72 469.3h4.01v1h-4.01zM124.6 470.3h45.12v1h-45.12zM170.73 470.3h1v1h-1zM124.6 471.29h47.13v1h-47.13zM124.6 472.29h46.13v1h-46.13zM124.6 473.29h49.14v1h-49.14zM124.6 474.29h51.14v1h-51.14zM124.6 475.29h49.14v1h-49.14zM124.6 476.28h51.14v1h-51.14zM124.6 477.28h51.14v1h-51.14zM176.74 477.28h1v1h-1zM174.74 478.28h2.01v1h-2.01zM177.75 479.28h3.01v1h-3.01zM177.75 480.28h1v1h-1zM175.74 481.27h2.01v1h-2.01zM178.75 481.27h1v1h-1zM124.6 482.27h54.15v1h-54.15zM124.6 484.27h59.16v1h-59.16zM124.6 485.27h59.16v1h-59.16zM124.6 486.27h57.16v1h-57.16zM124.6 487.26h60.17v1h-60.17zM124.6 490.26h61.17v1h-61.17zM124.6 491.26h64.18v1h-64.18zM124.6 492.25h63.17v1h-63.17zM187.77 494.25h3.01v1h-3.01zM124.6 495.25h67.19v1h-67.19zM124.6 496.25h68.19v1h-68.19zM124.6 497.24h67.19v1h-67.19zM124.6 498.24h68.19v1h-68.19zM124.6 499.24h68.19v1h-68.19zM124.6 500.24h69.19v1h-69.19zM124.6 501.24h68.19v1h-68.19zM124.6 502.24h71.2v1h-71.2zM124.6 503.23h72.2v1h-72.2zM124.6 505.23h72.2v1h-72.2zM124.6 506.23h72.2v1h-72.2zM124.6 507.23h72.2v1h-72.2zM124.6 508.22h72.2v1h-72.2zM124.6 511.22h72.2v1h-72.2zM124.6 512.22h72.2v1h-72.2zM124.6 513.21h72.2v1h-72.2zM124.6 515.21h72.2v1h-72.2zM124.6 516.21h72.2v1h-72.2zM124.6 517.21h72.2v1h-72.2zM124.6 520.2h72.2v1h-72.2z" fill="#562686"/>
<path d="M140.64 414.4h3.01v1h-3.01zM147.66 414.4h7.02v1h-7.02zM142.65 415.4h1v1h-1zM145.66 415.4h3.01v1h-3.01zM139.64 416.4h1v1h-1zM141.65 417.39h1v1h-1zM141.65 418.39h1v1h-1zM143.65 419.39h2.01v1h-2.01zM142.65 420.39h1v1h-1zM140.64 421.39h2.01v1h-2.01zM160.7 421.39h7.02v1h-7.02zM145.66 423.38h2.01v1h-2.01zM181.76 423.38h2.01v1h-2.01zM145.66 424.38h2.01v1h-2.01zM146.66 425.38h1v1h-1zM145.66 426.38h2.01v1h-2.01zM145.66 427.38h1v1h-1zM146.66 428.37h1v1h-1zM145.66 429.37h2.01v1h-2.01zM148.67 430.37h2.01v1h-2.01zM149.67 431.37h3.01v1h-3.01zM146.66 432.37h4.01v1h-4.01zM149.67 433.36h2.01v1h-2.01zM149.67 434.36h2.01v1h-2.01zM150.67 435.36h1v1h-1zM153.68 435.36h4.01v1h-4.01zM151.67 436.36h1v1h-1zM151.67 437.36h2.01v1h-2.01zM152.68 438.36h1v1h-1zM151.67 439.35h1v1h-1zM154.68 440.35h2.01v1h-2.01zM151.67 441.35h1v1h-1zM152.68 442.35h1v1h-1zM155.69 443.35h3.01v1h-3.01zM155.69 444.34h2.01v1h-2.01zM158.69 444.34h1v1h-1zM154.68 445.34h2.01v1h-2.01zM156.69 446.34h2.01v1h-2.01zM155.69 447.34h1v1h-1zM157.69 448.34h5.01v1h-5.01zM124.6 449.33h32.09v1h-32.09zM157.69 450.33h1v1h-1zM158.69 451.33h1v1h-1zM159.7 452.33h1v1h-1zM173.74 452.33h3.01v1h-3.01zM124.6 453.33h33.09v1h-33.09zM159.7 454.33h1v1h-1zM154.68 454.33h6.02v1h-6.02zM162.71 455.32h1v1h-1zM161.7 456.32h2.01v1h-2.01zM160.7 457.32h1v1h-1zM162.71 458.32h2.01v1h-2.01zM162.71 459.32h2.01v1h-2.01zM162.71 460.31h2.01v1h-2.01zM163.71 461.31h3.01v1h-3.01zM124.6 462.31h40.11v1h-40.11zM164.71 463.31h2.01v1h-2.01zM163.71 464.31h2.01v1h-2.01zM165.71 465.3h3.01v1h-3.01zM167.72 466.3h2.01v1h-2.01zM170.73 467.3h3.01v1h-3.01zM170.73 468.3h2.01v1h-2.01zM172.73 469.3h1v1h-1zM169.72 470.3h1v1h-1zM171.73 470.3h2.01v1h-2.01zM171.73 471.29h3.01v1h-3.01zM140.64 471.29h2.01v1h-2.01zM170.73 472.29h3.01v1h-3.01zM173.74 473.29h1v1h-1zM158.69 473.29h4.01v1h-4.01zM175.74 474.29h2.01v1h-2.01zM173.74 475.29h2.01v1h-2.01zM140.64 475.29h4.01v1h-4.01zM175.74 476.28h1v1h-1zM175.74 477.28h1v1h-1zM177.75 477.28h2.01v1h-2.01zM176.74 478.28h5.01v1h-5.01zM180.76 479.28h2.01v1h-2.01zM178.75 480.28h4.01v1h-4.01zM149.67 480.28h6.02v1h-6.02zM177.75 481.27h1v1h-1zM179.75 481.27h1v1h-1zM178.75 482.27h2.01v1h-2.01zM124.6 483.27h58.16v1h-58.16zM183.76 484.27h2.01v1h-2.01zM183.76 485.27h5.01v1h-5.01zM181.76 486.27h5.01v1h-5.01zM184.77 487.26h2.01v1h-2.01zM124.6 488.26h61.17v1h-61.17zM149.67 488.26h2.01v1h-2.01zM124.6 489.26h61.17v1h-61.17zM185.77 490.26h3.01v1h-3.01zM160.7 490.26h5.01v1h-5.01zM188.78 491.26h1v1h-1zM178.75 491.26h6.02v1h-6.02zM187.77 492.25h3.01v1h-3.01zM124.6 493.25h65.18v1h-65.18zM190.78 494.25h1v1h-1zM191.79 495.25h2.01v1h-2.01zM194.79 495.25h1v1h-1zM192.79 496.25h3.01v1h-3.01zM191.79 497.24h4.01v1h-4.01zM192.79 498.24h1v1h-1zM192.79 499.24h3.01v1h-3.01zM193.79 500.24h2.01v1h-2.01zM192.79 501.24h4.01v1h-4.01zM195.8 502.24h1v1h-1zM161.7 502.24h7.02v1h-7.02zM124.6 504.23h72.2v1h-72.2zM145.66 504.23h3.01v1h-3.01zM167.72 506.23h6.02v1h-6.02zM124.6 509.22h72.2v1h-72.2zM170.73 509.22h6.02v1h-6.02zM124.6 510.22h72.2v1h-72.2zM124.6 514.21h72.2v1h-72.2zM124.6 518.21h72.2v1h-72.2zM124.6 519.2h72.2v1h-72.2z" fill="#4b398c"/>
<path d="M143.65 414.4h2.01v1h-2.01zM161.7 414.4h5.01v1h-5.01zM143.65 415.4h2.01v1h-2.01zM140.64 416.4h1v1h-1zM141.65 416.4h7.02v1h-7.02zM142.65 417.39h1v1h-1zM142.65 418.39h2.01v1h-2.01zM145.66 419.39h2.01v1h-2.01zM143.65 420.39h2.01v1h-2.01zM155.69 420.39h5.01v1h-5.01zM142.65 421.39h2.01v1h-2.01zM144.66 422.39h3.01v1h-3.01zM179.75 422.39h6.02v1h-6.02zM147.66 423.38h3.01v1h-3.01zM147.66 424.38h2.01v1h-2.01zM147.66 425.38h2.01v1h-2.01zM147.66 426.38h1v1h-1zM146.66 427.38h2.01v1h-2.01zM147.66 428.37h2.01v1h-2.01zM147.66 429.37h1v1h-1zM150.67 430.37h2.01v1h-2.01zM172.73 430.37h3.01v1h-3.01zM152.68 431.37h2.01v1h-2.01zM150.67 432.37h1v1h-1zM151.67 433.36h2.01v1h-2.01zM182.76 433.36h6.02v1h-6.02zM151.67 434.36h1v1h-1zM151.67 435.36h2.01v1h-2.01zM152.68 436.36h1v1h-1zM153.68 437.36h2.01v1h-2.01zM153.68 438.36h3.01v1h-3.01zM152.68 439.35h2.01v1h-2.01zM151.67 439.35h7.02v1h-7.02zM138.64 439.35h3.01v1h-3.01zM156.69 440.35h2.01v1h-2.01zM184.77 440.35h7.02v1h-7.02zM135.63 440.35h4.01v1h-4.01zM152.68 441.35h1v1h-1zM153.68 442.35h1v1h-1zM162.71 442.35h5.01v1h-5.01zM158.69 443.35h1v1h-1zM184.77 443.35h1v1h-1zM188.78 443.35h3.01v1h-3.01zM157.69 444.34h1v1h-1zM159.7 444.34h2.01v1h-2.01zM187.77 444.34h1v1h-1zM189.78 444.34h1v1h-1zM156.69 445.34h2.01v1h-2.01zM184.77 445.34h5.01v1h-5.01zM190.78 445.34h1v1h-1zM156.69 447.34h1v1h-1zM162.71 448.34h3.01v1h-3.01zM186.77 448.34h2.01v1h-2.01zM189.78 448.34h2.01v1h-2.01zM156.69 449.33h3.01v1h-3.01zM165.71 449.33h7.02v1h-7.02zM158.69 450.33h1v1h-1zM159.7 451.33h1v1h-1zM160.7 452.33h1v1h-1zM157.69 453.33h2.01v1h-2.01zM160.7 454.33h2.01v1h-2.01zM163.71 455.32h1v1h-1zM163.71 456.32h2.01v1h-2.01zM169.72 456.32h4.01v1h-4.01zM161.7 457.32h1v1h-1zM164.71 459.32h3.01v1h-3.01zM164.71 460.31h1v1h-1zM174.74 460.31h5.01v1h-5.01zM166.72 461.31h2.01v1h-2.01zM164.71 462.31h1v1h-1zM166.72 463.31h2.01v1h-2.01zM165.71 464.31h3.01v1h-3.01zM134.63 464.31h7.02v1h-7.02zM168.72 465.3h3.01v1h-3.01zM169.72 466.3h1v1h-1zM173.74 467.3h1v1h-1zM172.73 468.3h2.01v1h-2.01zM155.69 468.3h6.02v1h-6.02zM173.74 469.3h3.01v1h-3.01zM173.74 470.3h2.01v1h-2.01zM174.74 471.29h3.01v1h-3.01zM173.74 472.29h1v1h-1zM174.74 473.29h3.01v1h-3.01zM177.75 474.29h3.01v1h-3.01zM175.74 475.29h1v1h-1zM176.74 476.28h1v1h-1zM153.68 476.28h6.02v1h-6.02zM179.75 477.28h3.01v1h-3.01zM181.76 478.28h2.01v1h-2.01zM180.76 478.28h3.01v1h-3.01zM182.76 479.28h3.01v1h-3.01zM182.76 480.28h1v1h-1zM180.76 481.27h2.01v1h-2.01zM180.76 482.27h4.01v1h-4.01zM182.76 483.27h3.01v1h-3.01zM186.77 483.27h1v1h-1zM185.77 484.27h3.01v1h-3.01zM188.78 485.27h2.01v1h-2.01zM186.77 486.27h2.01v1h-2.01zM147.66 486.27h3.01v1h-3.01zM158.69 486.27h7.02v1h-7.02zM186.77 487.26h1v1h-1zM185.77 488.26h2.01v1h-2.01zM185.77 489.26h2.01v1h-2.01zM188.78 490.26h1v1h-1zM189.78 491.26h3.01v1h-3.01zM190.78 492.25h1v1h-1zM192.79 492.25h1v1h-1zM189.78 493.25h3.01v1h-3.01zM191.79 494.25h1v1h-1zM193.79 495.25h1v1h-1zM195.8 495.25h1v1h-1zM195.8 496.25h1v1h-1zM195.8 497.24h1v1h-1zM193.79 498.24h1v1h-1zM173.74 498.24h2.01v1h-2.01zM195.8 499.24h1v1h-1zM195.8 500.24h1v1h-1zM155.69 507.23h2.01v1h-2.01zM168.72 508.22h4.01v1h-4.01zM165.71 511.22h7.02v1h-7.02zM133.62 514.21h4.01v1h-4.01z" fill="#3f4f8e"/>
<path d="M145.66 415.4h3.01v1h-3.01zM141.65 416.4h1v1h-1zM143.65 417.39h1v1h-1zM147.66 419.39h2.01v1h-2.01zM145.66 420.39h2.01v1h-2.01zM144.66 421.39h2.01v1h-2.01zM147.66 422.39h1v1h-1zM150.67 423.38h1v1h-1zM149.67 424.38h2.01v1h-2.01zM185.77 425.38h1v1h-1zM148.67 426.38h1v1h-1zM187.77 426.38h1v1h-1zM148.67 427.38h1v1h-1zM184.77 427.38h1v1h-1zM187.77 427.38h1v1h-1zM149.67 428.37h1v1h-1zM184.77 428.37h2.01v1h-2.01zM148.67 429.37h1v1h-1zM152.68 430.37h1v1h-1zM154.68 431.37h1v1h-1zM151.67 432.37h1v1h-1zM153.68 433.36h3.01v1h-3.01zM152.68 434.36h1v1h-1zM153.68 436.36h1v1h-1zM155.69 437.36h1v1h-1zM156.69 438.36h1v1h-1zM185.77 438.36h3.01v1h-3.01zM190.78 438.36h1v1h-1zM154.68 439.35h3.01v1h-3.01zM158.69 440.35h1v1h-1zM153.68 441.35h2.01v1h-2.01zM154.68 442.35h2.01v1h-2.01zM184.77 442.35h7.02v1h-7.02zM159.7 443.35h3.01v1h-3.01zM185.77 443.35h3.01v1h-3.01zM184.77 444.34h3.01v1h-3.01zM188.78 444.34h1v1h-1zM190.78 444.34h1v1h-1zM189.78 445.34h1v1h-1zM158.69 446.34h1v1h-1zM184.77 446.34h1v1h-1zM186.77 446.34h3.01v1h-3.01zM157.69 447.34h1v1h-1zM184.77 447.34h1v1h-1zM165.71 448.34h2.01v1h-2.01zM184.77 448.34h2.01v1h-2.01zM188.78 448.34h1v1h-1zM150.67 448.34h4.01v1h-4.01zM159.7 449.33h1v1h-1zM159.7 450.33h2.01v1h-2.01zM160.7 451.33h1v1h-1zM161.7 452.33h2.01v1h-2.01zM159.7 453.33h1v1h-1zM162.71 454.33h1v1h-1zM164.71 455.32h2.01v1h-2.01zM165.71 456.32h1v1h-1zM162.71 457.32h2.01v1h-2.01zM164.71 458.32h2.01v1h-2.01zM133.62 458.32h5.01v1h-5.01zM167.72 459.32h1v1h-1zM165.71 460.31h2.01v1h-2.01zM168.72 461.31h1v1h-1zM165.71 462.31h2.01v1h-2.01zM168.72 463.31h2.01v1h-2.01zM168.72 464.31h2.01v1h-2.01zM171.73 465.3h1v1h-1zM170.73 466.3h1v1h-1zM174.74 467.3h2.01v1h-2.01zM174.74 468.3h1v1h-1zM176.74 469.3h1v1h-1zM175.74 470.3h2.01v1h-2.01zM177.75 471.29h2.01v1h-2.01zM180.76 471.29h1v1h-1zM174.74 472.29h2.01v1h-2.01zM177.75 473.29h2.01v1h-2.01zM180.76 474.29h3.01v1h-3.01zM176.74 475.29h2.01v1h-2.01zM177.75 476.28h2.01v1h-2.01zM182.76 477.28h3.01v1h-3.01zM183.76 478.28h2.01v1h-2.01zM185.77 479.28h3.01v1h-3.01zM183.76 480.28h4.01v1h-4.01zM182.76 481.27h2.01v1h-2.01zM184.77 482.27h1v1h-1zM185.77 483.27h1v1h-1zM187.77 483.27h3.01v1h-3.01zM188.78 484.27h5.01v1h-5.01zM154.68 484.27h6.02v1h-6.02zM190.78 485.27h3.01v1h-3.01zM188.78 486.27h4.01v1h-4.01zM187.77 487.26h2.01v1h-2.01zM187.77 488.26h2.01v1h-2.01zM187.77 489.26h3.01v1h-3.01zM189.78 490.26h3.01v1h-3.01zM152.68 490.26h6.02v1h-6.02zM192.79 491.26h3.01v1h-3.01zM191.79 492.25h1v1h-1zM193.79 492.25h2.01v1h-2.01zM164.71 492.25h6.02v1h-6.02zM192.79 493.25h3.01v1h-3.01zM192.79 494.25h2.01v1h-2.01zM194.79 498.24h2.01v1h-2.01zM144.66 500.24h4.01v1h-4.01zM173.74 506.23h2.01v1h-2.01z" fill="#32698e"/>
<path d="M145.66 414.4h3.01v1h-3.01zM148.67 415.4h1v1h-1zM142.65 416.4h1v1h-1zM146.66 417.39h4.01v1h-4.01zM144.66 418.39h1v1h-1zM149.67 419.39h2.01v1h-2.01zM147.66 420.39h1v1h-1zM146.66 421.39h2.01v1h-2.01zM148.67 422.39h2.01v1h-2.01zM151.67 423.38h2.01v1h-2.01zM151.67 424.38h2.01v1h-2.01zM149.67 425.38h2.01v1h-2.01zM184.77 425.38h1v1h-1zM186.77 425.38h5.01v1h-5.01zM149.67 426.38h2.01v1h-2.01zM184.77 426.38h3.01v1h-3.01zM188.78 426.38h3.01v1h-3.01zM149.67 427.38h1v1h-1zM185.77 427.38h2.01v1h-2.01zM188.78 427.38h3.01v1h-3.01zM150.67 428.37h1v1h-1zM184.77 428.37h7.02v1h-7.02zM149.67 429.37h1v1h-1zM187.77 429.37h2.01v1h-2.01zM190.78 429.37h1v1h-1zM153.68 430.37h2.01v1h-2.01zM155.69 431.37h3.01v1h-3.01zM152.68 432.37h2.01v1h-2.01zM156.69 433.36h1v1h-1zM153.68 434.36h2.01v1h-2.01zM184.77 434.36h7.02v1h-7.02zM138.64 434.36h4.01v1h-4.01zM153.68 435.36h2.01v1h-2.01zM154.68 436.36h2.01v1h-2.01zM147.66 436.36h4.01v1h-4.01zM156.69 437.36h1v1h-1zM157.69 438.36h2.01v1h-2.01zM184.77 438.36h1v1h-1zM188.78 438.36h2.01v1h-2.01zM159.7 440.35h2.01v1h-2.01zM155.69 441.35h1v1h-1zM184.77 441.35h7.02v1h-7.02zM156.69 442.35h1v1h-1zM162.71 443.35h1v1h-1zM161.7 444.34h2.01v1h-2.01zM164.71 444.34h1v1h-1zM158.69 445.34h2.01v1h-2.01zM170.73 445.34h7.02v1h-7.02zM159.7 446.34h1v1h-1zM185.77 446.34h1v1h-1zM189.78 446.34h2.01v1h-2.01zM158.69 447.34h1v1h-1zM185.77 447.34h6.02v1h-6.02zM167.72 448.34h3.01v1h-3.01zM160.7 449.33h2.01v1h-2.01zM161.7 450.33h1v1h-1zM161.7 451.33h2.01v1h-2.01zM163.71 452.33h1v1h-1zM160.7 453.33h2.01v1h-2.01zM163.71 454.33h1v1h-1zM166.72 455.32h1v1h-1zM166.72 456.32h2.01v1h-2.01zM164.71 457.32h1v1h-1zM166.72 458.32h1v1h-1zM168.72 459.32h2.01v1h-2.01zM167.72 460.31h2.01v1h-2.01zM169.72 461.31h2.01v1h-2.01zM167.72 462.31h1v1h-1zM170.73 463.31h2.01v1h-2.01zM150.67 463.31h6.02v1h-6.02zM170.73 464.31h2.01v1h-2.01zM172.73 465.3h3.01v1h-3.01zM171.73 466.3h3.01v1h-3.01zM176.74 467.3h2.01v1h-2.01zM175.74 468.3h3.01v1h-3.01zM177.75 469.3h3.01v1h-3.01zM173.74 469.3h2.01v1h-2.01zM177.75 470.3h4.01v1h-4.01zM179.75 471.29h1v1h-1zM181.76 471.29h2.01v1h-2.01zM176.74 472.29h1v1h-1zM183.76 474.29h4.01v1h-4.01zM172.73 474.29h6.02v1h-6.02zM178.75 475.29h1v1h-1zM179.75 476.28h2.01v1h-2.01zM185.77 477.28h3.01v1h-3.01zM185.77 478.28h5.01v1h-5.01zM143.65 478.28h2.01v1h-2.01zM188.78 479.28h3.01v1h-3.01zM187.77 480.28h1v1h-1zM184.77 481.27h3.01v1h-3.01zM185.77 482.27h2.01v1h-2.01zM190.78 483.27h4.01v1h-4.01zM193.79 484.27h2.01v1h-2.01zM193.79 485.27h2.01v1h-2.01zM192.79 486.27h4.01v1h-4.01zM189.78 487.26h2.01v1h-2.01zM189.78 488.26h2.01v1h-2.01zM190.78 489.26h1v1h-1zM192.79 490.26h3.01v1h-3.01zM195.8 491.26h1v1h-1zM195.8 492.25h1v1h-1zM195.8 493.25h1v1h-1zM194.79 494.25h2.01v1h-2.01zM154.68 495.25h2.01v1h-2.01zM164.71 516.21h6.02v1h-6.02z" fill="#277f8d"/>
<path d="M148.67 414.4h1v1h-1zM149.67 415.4h3.01v1h-3.01zM144.66 417.39h1v1h-1zM145.66 418.39h1v1h-1zM151.67 419.39h2.01v1h-2.01zM148.67 420.39h2.01v1h-2.01zM148.67 421.39h1v1h-1zM150.67 422.39h1v1h-1zM153.68 423.38h3.01v1h-3.01zM153.68 424.38h1v1h-1zM151.67 426.38h1v1h-1zM150.67 427.38h1v1h-1zM151.67 428.37h2.01v1h-2.01zM150.67 429.37h1v1h-1zM184.77 429.37h3.01v1h-3.01zM189.78 429.37h1v1h-1zM155.69 430.37h2.01v1h-2.01zM154.68 432.37h2.01v1h-2.01zM157.69 433.36h1v1h-1zM155.69 434.36h1v1h-1zM155.69 435.36h1v1h-1zM156.69 436.36h2.01v1h-2.01zM157.69 437.36h2.01v1h-2.01zM159.7 438.36h2.01v1h-2.01zM157.69 439.35h2.01v1h-2.01zM161.7 440.35h2.01v1h-2.01zM183.76 440.35h1v1h-1zM191.79 440.35h1v1h-1zM193.79 440.35h3.01v1h-3.01zM156.69 441.35h1v1h-1zM157.69 442.35h1v1h-1zM163.71 443.35h2.01v1h-2.01zM193.79 443.35h3.01v1h-3.01zM163.71 444.34h1v1h-1zM165.71 444.34h1v1h-1zM160.7 445.34h2.01v1h-2.01zM183.76 445.34h1v1h-1zM191.79 445.34h2.01v1h-2.01zM194.79 445.34h2.01v1h-2.01zM160.7 446.34h1v1h-1zM159.7 447.34h1v1h-1zM170.73 448.34h2.01v1h-2.01zM183.76 448.34h1v1h-1zM192.79 448.34h4.01v1h-4.01zM162.71 449.33h2.01v1h-2.01zM162.71 450.33h2.01v1h-2.01zM163.71 451.33h1v1h-1zM164.71 452.33h1v1h-1zM162.71 453.33h2.01v1h-2.01zM164.71 454.33h2.01v1h-2.01zM167.72 455.32h2.01v1h-2.01zM168.72 456.32h1v1h-1zM165.71 457.32h1v1h-1zM167.72 458.32h2.01v1h-2.01zM170.73 459.32h2.01v1h-2.01zM169.72 460.31h2.01v1h-2.01zM171.73 461.31h2.01v1h-2.01zM168.72 462.31h2.01v1h-2.01zM172.73 463.31h2.01v1h-2.01zM172.73 464.31h1v1h-1zM175.74 465.3h1v1h-1zM174.74 466.3h1v1h-1zM186.77 466.3h1v1h-1zM188.78 466.3h4.01v1h-4.01zM194.79 466.3h2.01v1h-2.01zM178.75 467.3h2.01v1h-2.01zM178.75 468.3h1v1h-1zM180.76 469.3h2.01v1h-2.01zM181.76 470.3h1v1h-1zM183.76 471.29h3.01v1h-3.01zM177.75 472.29h2.01v1h-2.01zM179.75 473.29h2.01v1h-2.01zM187.77 474.29h2.01v1h-2.01zM179.75 475.29h1v1h-1zM181.76 476.28h1v1h-1zM188.78 477.28h4.01v1h-4.01zM194.79 477.28h2.01v1h-2.01zM190.78 478.28h6.02v1h-6.02zM191.79 479.28h5.01v1h-5.01zM188.78 480.28h2.01v1h-2.01zM187.77 481.27h2.01v1h-2.01zM187.77 482.27h3.01v1h-3.01zM194.79 483.27h2.01v1h-2.01zM195.8 484.27h1v1h-1zM195.8 485.27h1v1h-1zM191.79 487.26h2.01v1h-2.01zM191.79 488.26h3.01v1h-3.01zM191.79 489.26h2.01v1h-2.01zM195.8 490.26h1v1h-1z" fill="#21918c"/>
<path d="M149.67 414.4h2.01v1h-2.01zM152.68 415.4h1v1h-1zM143.65 416.4h2.01v1h-2.01zM145.66 417.39h2.01v1h-2.01zM146.66 418.39h1v1h-1zM150.67 420.39h1v1h-1zM149.67 421.39h2.01v1h-2.01zM151.67 422.39h2.01v1h-2.01zM156.69 423.38h1v1h-1zM154.68 424.38h3.01v1h-3.01zM151.67 425.38h1v1h-1zM151.67 427.38h1v1h-1zM145.66 427.38h3.01v1h-3.01zM153.68 428.37h1v1h-1zM151.67 429.37h2.01v1h-2.01zM157.69 430.37h2.01v1h-2.01zM158.69 431.37h2.01v1h-2.01zM156.69 432.37h3.01v1h-3.01zM158.69 433.36h2.01v1h-2.01zM156.69 434.36h1v1h-1zM156.69 435.36h2.01v1h-2.01zM158.69 436.36h1v1h-1zM159.7 437.36h1v1h-1zM161.7 438.36h2.01v1h-2.01zM159.7 439.35h1v1h-1zM163.71 440.35h2.01v1h-2.01zM192.79 440.35h1v1h-1zM157.69 441.35h2.01v1h-2.01zM158.69 442.35h1v1h-1zM165.71 443.35h3.01v1h-3.01zM183.76 443.35h1v1h-1zM191.79 443.35h2.01v1h-2.01zM166.72 444.34h2.01v1h-2.01zM141.65 444.34h2.01v1h-2.01zM162.71 445.34h1v1h-1zM193.79 445.34h1v1h-1zM161.7 446.34h1v1h-1zM160.7 447.34h1v1h-1zM148.67 447.34h4.01v1h-4.01zM172.73 448.34h2.01v1h-2.01zM175.74 448.34h1v1h-1zM191.79 448.34h1v1h-1zM164.71 449.33h1v1h-1zM185.77 449.33h1v1h-1zM184.77 450.33h1v1h-1zM189.78 450.33h2.01v1h-2.01zM195.8 450.33h1v1h-1zM182.76 450.33h3.01v1h-3.01zM164.71 451.33h1v1h-1zM182.76 451.33h3.01v1h-3.01zM165.71 452.33h1v1h-1zM164.71 453.33h1v1h-1zM169.72 455.32h1v1h-1zM187.77 455.32h5.01v1h-5.01zM169.72 456.32h1v1h-1zM166.72 457.32h1v1h-1zM172.73 459.32h1v1h-1zM171.73 460.31h1v1h-1zM173.74 461.31h1v1h-1zM170.73 462.31h1v1h-1zM174.74 463.31h2.01v1h-2.01zM173.74 464.31h3.01v1h-3.01zM176.74 465.3h2.01v1h-2.01zM132.62 465.3h2.01v1h-2.01zM175.74 466.3h11.03v1h-11.03zM187.77 466.3h1v1h-1zM192.79 466.3h2.01v1h-2.01zM180.76 467.3h2.01v1h-2.01zM183.76 467.3h13.04v1h-13.04zM179.75 468.3h3.01v1h-3.01zM183.76 468.3h13.04v1h-13.04zM182.76 469.3h2.01v1h-2.01zM182.76 470.3h3.01v1h-3.01zM186.77 471.29h10.03v1h-10.03zM179.75 472.29h3.01v1h-3.01zM181.76 473.29h3.01v1h-3.01zM189.78 474.29h4.01v1h-4.01zM180.76 475.29h2.01v1h-2.01zM182.76 476.28h2.01v1h-2.01zM192.79 477.28h2.01v1h-2.01zM190.78 480.28h2.01v1h-2.01zM189.78 481.27h1v1h-1zM190.78 482.27h3.01v1h-3.01zM193.79 487.26h3.01v1h-3.01zM194.79 488.26h2.01v1h-2.01zM193.79 489.26h2.01v1h-2.01zM166.72 496.25h6.02v1h-6.02zM164.71 502.24h2.01v1h-2.01z" fill="#22a186"/>
<path d="M151.67 414.4h2.01v1h-2.01zM153.68 415.4h2.01v1h-2.01zM147.66 417.39h1v1h-1zM147.66 418.39h1v1h-1zM153.68 419.39h2.01v1h-2.01zM151.67 420.39h1v1h-1zM151.67 421.39h1v1h-1zM153.68 422.39h1v1h-1zM157.69 423.38h3.01v1h-3.01zM157.69 424.38h1v1h-1zM152.68 425.38h2.01v1h-2.01zM152.68 426.38h1v1h-1zM152.68 427.38h1v1h-1zM154.68 428.37h1v1h-1zM153.68 429.37h1v1h-1zM159.7 430.37h1v1h-1zM160.7 431.37h2.01v1h-2.01zM159.7 432.37h1v1h-1zM160.7 433.36h3.01v1h-3.01zM157.69 434.36h2.01v1h-2.01zM159.7 435.36h1v1h-1zM162.71 435.36h1v1h-1zM167.72 435.36h1v1h-1zM170.73 435.36h1v1h-1zM172.73 435.36h2.01v1h-2.01zM176.74 435.36h1v1h-1zM181.76 435.36h1v1h-1zM183.76 435.36h11.03v1h-11.03zM195.8 435.36h1v1h-1zM159.7 436.36h1v1h-1zM163.71 436.36h3.01v1h-3.01zM167.72 436.36h2.01v1h-2.01zM171.73 436.36h1v1h-1zM183.76 436.36h3.01v1h-3.01zM188.78 436.36h6.02v1h-6.02zM195.8 436.36h1v1h-1zM160.7 437.36h1v1h-1zM164.71 437.36h1v1h-1zM168.72 437.36h1v1h-1zM170.73 437.36h1v1h-1zM172.73 437.36h1v1h-1zM175.74 437.36h1v1h-1zM178.75 437.36h2.01v1h-2.01zM184.77 437.36h2.01v1h-2.01zM188.78 437.36h8.02v1h-8.02zM163.71 438.36h2.01v1h-2.01zM191.79 438.36h1v1h-1zM160.7 439.35h2.01v1h-2.01zM165.71 440.35h1v1h-1zM169.72 440.35h2.01v1h-2.01zM172.73 440.35h1v1h-1zM174.74 440.35h6.02v1h-6.02zM182.76 440.35h1v1h-1zM159.7 441.35h1v1h-1zM159.7 442.35h1v1h-1zM169.72 443.35h3.01v1h-3.01zM174.74 443.35h1v1h-1zM177.75 443.35h1v1h-1zM179.75 443.35h4.01v1h-4.01zM168.72 444.34h1v1h-1zM183.76 444.34h1v1h-1zM191.79 444.34h5.01v1h-5.01zM163.71 445.34h20.06v1h-20.06zM162.71 446.34h1v1h-1zM161.7 447.34h1v1h-1zM174.74 448.34h1v1h-1zM176.74 448.34h7.02v1h-7.02zM165.71 449.33h20.06v1h-20.06zM186.77 449.33h10.03v1h-10.03zM164.71 450.33h12.03v1h-12.03zM177.75 450.33h7.02v1h-7.02zM185.77 450.33h4.01v1h-4.01zM191.79 450.33h4.01v1h-4.01zM165.71 451.33h1v1h-1zM166.72 452.33h1v1h-1zM165.71 453.33h1v1h-1zM166.72 454.33h2.01v1h-2.01zM170.73 455.32h2.01v1h-2.01zM170.73 456.32h2.01v1h-2.01zM167.72 457.32h1v1h-1zM169.72 458.32h2.01v1h-2.01zM173.74 459.32h2.01v1h-2.01zM172.73 460.31h3.01v1h-3.01zM174.74 461.31h2.01v1h-2.01zM171.73 462.31h2.01v1h-2.01zM176.74 463.31h2.01v1h-2.01zM176.74 464.31h2.01v1h-2.01zM178.75 465.3h2.01v1h-2.01zM182.76 467.3h1v1h-1zM182.76 468.3h1v1h-1zM184.77 469.3h2.01v1h-2.01zM189.78 469.3h2.01v1h-2.01zM192.79 469.3h1v1h-1zM194.79 469.3h2.01v1h-2.01zM185.77 470.3h2.01v1h-2.01zM193.79 470.3h1v1h-1zM182.76 472.29h14.04v1h-14.04zM184.77 473.29h1v1h-1zM193.79 474.29h3.01v1h-3.01zM182.76 475.29h14.04v1h-14.04zM184.77 476.28h7.02v1h-7.02zM192.79 476.28h4.01v1h-4.01zM192.79 480.28h2.01v1h-2.01zM190.78 481.27h2.01v1h-2.01zM193.79 481.27h1v1h-1zM193.79 482.27h1v1h-1zM195.8 489.26h1v1h-1z" fill="#31b27b"/>
<path d="M153.68 414.4h1v1h-1zM155.69 415.4h1v1h-1zM145.66 416.4h1v1h-1zM148.67 418.39h1v1h-1zM155.69 419.39h3.01v1h-3.01zM152.68 420.39h1v1h-1zM152.68 421.39h1v1h-1zM154.68 422.39h2.01v1h-2.01zM160.7 423.38h2.01v1h-2.01zM158.69 424.38h2.01v1h-2.01zM154.68 425.38h1v1h-1zM153.68 426.38h2.01v1h-2.01zM153.68 427.38h1v1h-1zM155.69 428.37h1v1h-1zM154.68 429.37h1v1h-1zM160.7 430.37h2.01v1h-2.01zM162.71 431.37h2.01v1h-2.01zM160.7 432.37h1v1h-1zM163.71 433.36h1v1h-1zM189.78 433.36h1v1h-1zM192.79 433.36h4.01v1h-4.01zM159.7 434.36h1v1h-1zM158.69 435.36h1v1h-1zM160.7 435.36h2.01v1h-2.01zM163.71 435.36h4.01v1h-4.01zM168.72 435.36h2.01v1h-2.01zM171.73 435.36h1v1h-1zM174.74 435.36h2.01v1h-2.01zM177.75 435.36h4.01v1h-4.01zM182.76 435.36h1v1h-1zM194.79 435.36h1v1h-1zM160.7 436.36h3.01v1h-3.01zM166.72 436.36h1v1h-1zM169.72 436.36h2.01v1h-2.01zM172.73 436.36h11.03v1h-11.03zM186.77 436.36h2.01v1h-2.01zM194.79 436.36h1v1h-1zM161.7 437.36h3.01v1h-3.01zM165.71 437.36h3.01v1h-3.01zM169.72 437.36h1v1h-1zM171.73 437.36h1v1h-1zM173.74 437.36h2.01v1h-2.01zM176.74 437.36h2.01v1h-2.01zM180.76 437.36h4.01v1h-4.01zM186.77 437.36h2.01v1h-2.01zM165.71 438.36h2.01v1h-2.01zM183.76 438.36h1v1h-1zM192.79 438.36h4.01v1h-4.01zM162.71 439.35h1v1h-1zM183.76 439.35h2.01v1h-2.01zM187.77 439.35h3.01v1h-3.01zM192.79 439.35h4.01v1h-4.01zM166.72 440.35h3.01v1h-3.01zM171.73 440.35h1v1h-1zM173.74 440.35h1v1h-1zM180.76 440.35h2.01v1h-2.01zM160.7 441.35h1v1h-1zM183.76 441.35h1v1h-1zM191.79 441.35h5.01v1h-5.01zM160.7 442.35h2.01v1h-2.01zM183.76 442.35h1v1h-1zM191.79 442.35h5.01v1h-5.01zM168.72 443.35h1v1h-1zM172.73 443.35h2.01v1h-2.01zM175.74 443.35h2.01v1h-2.01zM178.75 443.35h1v1h-1zM169.72 444.34h2.01v1h-2.01zM163.71 446.34h1v1h-1zM183.76 446.34h1v1h-1zM191.79 446.34h5.01v1h-5.01zM162.71 447.34h1v1h-1zM183.76 447.34h1v1h-1zM191.79 447.34h2.01v1h-2.01zM194.79 447.34h1v1h-1zM176.74 450.33h1v1h-1zM167.72 451.33h2.01v1h-2.01zM170.73 451.33h1v1h-1zM172.73 451.33h1v1h-1zM174.74 451.33h4.01v1h-4.01zM182.76 451.33h5.01v1h-5.01zM188.78 451.33h3.01v1h-3.01zM192.79 451.33h4.01v1h-4.01zM167.72 452.33h3.01v1h-3.01zM171.73 452.33h3.01v1h-3.01zM175.74 452.33h1v1h-1zM182.76 452.33h2.01v1h-2.01zM185.77 452.33h11.03v1h-11.03zM166.72 453.33h1v1h-1zM169.72 453.33h2.01v1h-2.01zM174.74 453.33h1v1h-1zM178.75 453.33h4.01v1h-4.01zM183.76 453.33h1v1h-1zM185.77 453.33h11.03v1h-11.03zM168.72 454.33h1v1h-1zM170.73 454.33h1v1h-1zM172.73 454.33h1v1h-1zM182.76 454.33h14.04v1h-14.04zM172.73 455.32h1v1h-1zM184.77 455.32h1v1h-1zM186.77 455.32h1v1h-1zM190.78 455.32h1v1h-1zM195.8 455.32h1v1h-1zM172.73 456.32h1v1h-1zM190.78 456.32h1v1h-1zM168.72 457.32h1v1h-1zM171.73 458.32h1v1h-1zM175.74 459.32h1v1h-1zM176.74 461.31h1v1h-1zM173.74 462.31h1v1h-1zM178.75 463.31h1v1h-1zM178.75 464.31h2.01v1h-2.01zM180.76 465.3h2.01v1h-2.01zM186.77 469.3h3.01v1h-3.01zM191.79 469.3h1v1h-1zM193.79 469.3h1v1h-1zM187.77 470.3h6.02v1h-6.02zM194.79 470.3h2.01v1h-2.01zM185.77 473.29h9.03v1h-9.03zM195.8 473.29h1v1h-1zM191.79 476.28h1v1h-1zM194.79 480.28h2.01v1h-2.01zM192.79 481.27h1v1h-1zM194.79 481.27h1v1h-1zM194.79 482.27h2.01v1h-2.01z" fill="#4cc26c"/>
<path d="M154.68 414.4h2.01v1h-2.01zM156.69 415.4h3.01v1h-3.01zM146.66 416.4h1v1h-1zM148.67 417.39h1v1h-1zM158.69 419.39h1v1h-1zM153.68 420.39h2.01v1h-2.01zM153.68 421.39h2.01v1h-2.01zM162.71 423.38h1v1h-1zM160.7 424.38h2.01v1h-2.01zM155.69 425.38h1v1h-1zM183.76 425.38h1v1h-1zM191.79 425.38h5.01v1h-5.01zM155.69 426.38h1v1h-1zM183.76 426.38h1v1h-1zM191.79 426.38h5.01v1h-5.01zM158.69 426.38h6.02v1h-6.02zM154.68 427.38h2.01v1h-2.01zM183.76 427.38h1v1h-1zM191.79 427.38h5.01v1h-5.01zM156.69 428.37h1v1h-1zM183.76 428.37h1v1h-1zM191.79 428.37h5.01v1h-5.01zM155.69 429.37h2.01v1h-2.01zM183.76 429.37h1v1h-1zM191.79 429.37h3.01v1h-3.01zM195.8 429.37h1v1h-1zM162.71 430.37h2.01v1h-2.01zM164.71 431.37h2.01v1h-2.01zM161.7 432.37h2.01v1h-2.01zM164.71 433.36h25.07v1h-25.07zM190.78 433.36h2.01v1h-2.01zM160.7 434.36h2.01v1h-2.01zM183.76 434.36h1v1h-1zM191.79 434.36h5.01v1h-5.01zM174.74 435.36h3.01v1h-3.01zM167.72 438.36h1v1h-1zM163.71 439.35h20.06v1h-20.06zM185.77 439.35h2.01v1h-2.01zM190.78 439.35h2.01v1h-2.01zM161.7 441.35h2.01v1h-2.01zM162.71 442.35h1v1h-1zM169.72 443.35h3.01v1h-3.01zM171.73 444.34h7.02v1h-7.02zM179.75 444.34h4.01v1h-4.01zM163.71 447.34h1v1h-1zM193.79 447.34h1v1h-1zM195.8 447.34h1v1h-1zM137.64 447.34h7.02v1h-7.02zM166.72 451.33h1v1h-1zM169.72 451.33h1v1h-1zM171.73 451.33h1v1h-1zM173.74 451.33h1v1h-1zM178.75 451.33h4.01v1h-4.01zM187.77 451.33h1v1h-1zM191.79 451.33h1v1h-1zM170.73 452.33h1v1h-1zM174.74 452.33h1v1h-1zM176.74 452.33h6.02v1h-6.02zM184.77 452.33h1v1h-1zM167.72 453.33h2.01v1h-2.01zM171.73 453.33h3.01v1h-3.01zM175.74 453.33h3.01v1h-3.01zM182.76 453.33h1v1h-1zM184.77 453.33h1v1h-1zM169.72 454.33h1v1h-1zM171.73 454.33h1v1h-1zM173.74 454.33h9.03v1h-9.03zM173.74 455.32h2.01v1h-2.01zM176.74 455.32h5.01v1h-5.01zM183.76 455.32h1v1h-1zM185.77 455.32h1v1h-1zM187.77 455.32h3.01v1h-3.01zM191.79 455.32h4.01v1h-4.01zM173.74 456.32h4.01v1h-4.01zM178.75 456.32h1v1h-1zM181.76 456.32h1v1h-1zM183.76 456.32h7.02v1h-7.02zM191.79 456.32h5.01v1h-5.01zM169.72 457.32h2.01v1h-2.01zM172.73 458.32h1v1h-1zM176.74 459.32h2.01v1h-2.01zM155.69 459.32h6.02v1h-6.02zM175.74 460.31h3.01v1h-3.01zM177.75 461.31h2.01v1h-2.01zM174.74 462.31h2.01v1h-2.01zM142.65 462.31h2.01v1h-2.01zM179.75 463.31h2.01v1h-2.01zM180.76 464.31h2.01v1h-2.01zM182.76 465.3h4.01v1h-4.01zM194.79 473.29h1v1h-1zM195.8 481.27h1v1h-1zM177.75 484.27h6.02v1h-6.02zM139.64 497.24h2.01v1h-2.01zM175.74 507.23h3.01v1h-3.01zM180.76 513.21h5.01v1h-5.01z" fill="#72ce55"/>
<path d="M156.69 414.4h2.01v1h-2.01zM159.7 415.4h1v1h-1zM147.66 416.4h1v1h-1zM183.76 416.4h8.02v1h-8.02zM192.79 416.4h1v1h-1zM195.8 416.4h1v1h-1zM149.67 417.39h1v1h-1zM185.77 417.39h3.01v1h-3.01zM189.78 417.39h3.01v1h-3.01zM193.79 417.39h1v1h-1zM149.67 418.39h2.01v1h-2.01zM185.77 418.39h1v1h-1zM188.78 418.39h1v1h-1zM190.78 418.39h1v1h-1zM192.79 418.39h1v1h-1zM195.8 418.39h1v1h-1zM159.7 419.39h2.01v1h-2.01zM155.69 420.39h1v1h-1zM155.69 421.39h1v1h-1zM156.69 422.39h2.01v1h-2.01zM163.71 423.38h1v1h-1zM184.77 423.38h2.01v1h-2.01zM188.78 423.38h3.01v1h-3.01zM192.79 423.38h4.01v1h-4.01zM162.71 424.38h2.01v1h-2.01zM183.76 424.38h1v1h-1zM185.77 424.38h1v1h-1zM187.77 424.38h7.02v1h-7.02zM195.8 424.38h1v1h-1zM156.69 425.38h1v1h-1zM156.69 426.38h1v1h-1zM156.69 427.38h1v1h-1zM157.69 428.37h1v1h-1zM157.69 429.37h1v1h-1zM194.79 429.37h1v1h-1zM164.71 430.37h2.01v1h-2.01zM166.72 431.37h1v1h-1zM163.71 432.37h1v1h-1zM168.72 438.36h3.01v1h-3.01zM172.73 438.36h1v1h-1zM174.74 438.36h5.01v1h-5.01zM181.76 438.36h2.01v1h-2.01zM163.71 441.35h2.01v1h-2.01zM169.72 441.35h1v1h-1zM174.74 441.35h1v1h-1zM178.75 441.35h1v1h-1zM180.76 441.35h1v1h-1zM166.72 442.35h1v1h-1zM172.73 442.35h2.01v1h-2.01zM179.75 442.35h1v1h-1zM178.75 444.34h1v1h-1zM164.71 446.34h2.01v1h-2.01zM164.71 447.34h1v1h-1zM175.74 455.32h1v1h-1zM181.76 455.32h2.01v1h-2.01zM177.75 456.32h1v1h-1zM179.75 456.32h2.01v1h-2.01zM182.76 456.32h1v1h-1zM171.73 457.32h1v1h-1zM173.74 458.32h1v1h-1zM178.75 459.32h2.01v1h-2.01zM181.76 459.32h15.04v1h-15.04zM178.75 460.31h3.01v1h-3.01zM183.76 460.31h13.04v1h-13.04zM179.75 461.31h2.01v1h-2.01zM183.76 461.31h13.04v1h-13.04zM176.74 462.31h2.01v1h-2.01zM181.76 462.31h15.04v1h-15.04zM181.76 463.31h2.01v1h-2.01zM184.77 463.31h1v1h-1zM186.77 463.31h1v1h-1zM190.78 463.31h2.01v1h-2.01zM193.79 463.31h2.01v1h-2.01zM182.76 464.31h4.01v1h-4.01zM187.77 464.31h1v1h-1zM190.78 464.31h1v1h-1zM192.79 464.31h1v1h-1zM186.77 465.3h1v1h-1zM188.78 465.3h1v1h-1zM191.79 465.3h1v1h-1z" fill="#a0d938"/>
<path d="M158.69 414.4h1v1h-1zM183.76 414.4h1v1h-1zM188.78 414.4h1v1h-1zM191.79 414.4h3.01v1h-3.01zM160.7 415.4h2.01v1h-2.01zM183.76 415.4h2.01v1h-2.01zM186.77 415.4h2.01v1h-2.01zM189.78 415.4h1v1h-1zM193.79 415.4h2.01v1h-2.01zM148.67 416.4h35.1v1h-35.1zM191.79 416.4h1v1h-1zM193.79 416.4h2.01v1h-2.01zM150.67 417.39h35.1v1h-35.1zM188.78 417.39h1v1h-1zM192.79 417.39h1v1h-1zM194.79 417.39h2.01v1h-2.01zM151.67 418.39h34.09v1h-34.09zM186.77 418.39h2.01v1h-2.01zM189.78 418.39h1v1h-1zM191.79 418.39h1v1h-1zM193.79 418.39h2.01v1h-2.01zM161.7 419.39h1v1h-1zM183.76 419.39h3.01v1h-3.01zM187.77 419.39h1v1h-1zM191.79 419.39h2.01v1h-2.01zM194.79 419.39h2.01v1h-2.01zM156.69 420.39h1v1h-1zM183.76 420.39h1v1h-1zM185.77 420.39h7.02v1h-7.02zM193.79 420.39h3.01v1h-3.01zM156.69 421.39h2.01v1h-2.01zM183.76 421.39h3.01v1h-3.01zM189.78 421.39h4.01v1h-4.01zM194.79 421.39h1v1h-1zM158.69 422.39h2.01v1h-2.01zM184.77 422.39h3.01v1h-3.01zM188.78 422.39h5.01v1h-5.01zM164.71 423.38h20.06v1h-20.06zM186.77 423.38h2.01v1h-2.01zM191.79 423.38h1v1h-1zM164.71 424.38h19.05v1h-19.05zM184.77 424.38h1v1h-1zM186.77 424.38h1v1h-1zM194.79 424.38h1v1h-1zM157.69 425.38h1v1h-1zM157.69 426.38h1v1h-1zM184.77 427.38h5.01v1h-5.01zM158.69 428.37h1v1h-1zM158.69 429.37h1v1h-1zM166.72 430.37h1v1h-1zM183.76 430.37h3.01v1h-3.01zM189.78 430.37h1v1h-1zM192.79 430.37h2.01v1h-2.01zM172.73 430.37h7.02v1h-7.02zM167.72 431.37h2.01v1h-2.01zM186.77 431.37h1v1h-1zM188.78 431.37h2.01v1h-2.01zM191.79 431.37h1v1h-1zM193.79 431.37h1v1h-1zM164.71 432.37h2.01v1h-2.01zM183.76 432.37h2.01v1h-2.01zM189.78 432.37h1v1h-1zM162.71 434.36h1v1h-1zM171.73 438.36h1v1h-1zM173.74 438.36h1v1h-1zM179.75 438.36h2.01v1h-2.01zM165.71 441.35h4.01v1h-4.01zM170.73 441.35h4.01v1h-4.01zM175.74 441.35h3.01v1h-3.01zM179.75 441.35h1v1h-1zM181.76 441.35h2.01v1h-2.01zM163.71 442.35h3.01v1h-3.01zM167.72 442.35h5.01v1h-5.01zM174.74 442.35h5.01v1h-5.01zM180.76 442.35h3.01v1h-3.01zM166.72 446.34h8.02v1h-8.02zM175.74 446.34h5.01v1h-5.01zM181.76 446.34h2.01v1h-2.01zM165.71 447.34h2.01v1h-2.01zM168.72 447.34h3.01v1h-3.01zM173.74 447.34h1v1h-1zM175.74 447.34h2.01v1h-2.01zM178.75 447.34h3.01v1h-3.01zM175.74 449.33h6.02v1h-6.02zM151.67 452.33h7.02v1h-7.02zM172.73 457.32h1v1h-1zM174.74 457.32h1v1h-1zM184.77 457.32h1v1h-1zM186.77 457.32h3.01v1h-3.01zM191.79 457.32h2.01v1h-2.01zM194.79 457.32h2.01v1h-2.01zM174.74 458.32h1v1h-1zM183.76 458.32h1v1h-1zM185.77 458.32h3.01v1h-3.01zM189.78 458.32h7.02v1h-7.02zM180.76 459.32h1v1h-1zM181.76 460.31h2.01v1h-2.01zM181.76 461.31h2.01v1h-2.01zM178.75 462.31h3.01v1h-3.01zM183.76 463.31h1v1h-1zM185.77 463.31h1v1h-1zM187.77 463.31h3.01v1h-3.01zM192.79 463.31h1v1h-1zM195.8 463.31h1v1h-1zM186.77 464.31h1v1h-1zM188.78 464.31h2.01v1h-2.01zM191.79 464.31h1v1h-1zM193.79 464.31h3.01v1h-3.01zM187.77 465.3h1v1h-1zM189.78 465.3h2.01v1h-2.01zM192.79 465.3h4.01v1h-4.01zM186.77 472.29h6.02v1h-6.02zM165.71 475.29h5.01v1h-5.01zM157.69 485.27h2.01v1h-2.01zM154.68 504.23h5.01v1h-5.01zM182.76 518.21h2.01v1h-2.01z" fill="#cfe126"/>
<path d="M159.7 414.4h24.07v1h-24.07zM184.77 414.4h4.01v1h-4.01zM189.78 414.4h2.01v1h-2.01zM194.79 414.4h2.01v1h-2.01zM162.71 415.4h21.06v1h-21.06zM185.77 415.4h1v1h-1zM188.78 415.4h1v1h-1zM190.78 415.4h3.01v1h-3.01zM195.8 415.4h1v1h-1zM162.71 419.39h21.06v1h-21.06zM186.77 419.39h1v1h-1zM188.78 419.39h3.01v1h-3.01zM193.79 419.39h1v1h-1zM157.69 420.39h26.07v1h-26.07zM184.77 420.39h1v1h-1zM192.79 420.39h1v1h-1zM158.69 421.39h25.07v1h-25.07zM186.77 421.39h3.01v1h-3.01zM193.79 421.39h1v1h-1zM195.8 421.39h1v1h-1zM160.7 422.39h24.07v1h-24.07zM187.77 422.39h1v1h-1zM193.79 422.39h3.01v1h-3.01zM158.69 425.38h25.07v1h-25.07zM158.69 426.38h25.07v1h-25.07zM157.69 427.38h26.07v1h-26.07zM159.7 428.37h24.07v1h-24.07zM159.7 429.37h24.07v1h-24.07zM167.72 430.37h16.04v1h-16.04zM186.77 430.37h3.01v1h-3.01zM190.78 430.37h2.01v1h-2.01zM194.79 430.37h2.01v1h-2.01zM169.72 431.37h17.05v1h-17.05zM187.77 431.37h1v1h-1zM190.78 431.37h1v1h-1zM192.79 431.37h1v1h-1zM194.79 431.37h2.01v1h-2.01zM166.72 432.37h17.05v1h-17.05zM185.77 432.37h4.01v1h-4.01zM190.78 432.37h6.02v1h-6.02zM163.71 434.36h20.06v1h-20.06zM174.74 446.34h1v1h-1zM180.76 446.34h1v1h-1zM167.72 447.34h1v1h-1zM171.73 447.34h2.01v1h-2.01zM174.74 447.34h1v1h-1zM177.75 447.34h1v1h-1zM181.76 447.34h2.01v1h-2.01zM173.74 457.32h1v1h-1zM175.74 457.32h9.03v1h-9.03zM185.77 457.32h1v1h-1zM189.78 457.32h2.01v1h-2.01zM193.79 457.32h1v1h-1zM175.74 458.32h8.02v1h-8.02zM184.77 458.32h1v1h-1zM188.78 458.32h1v1h-1z" fill="#fde725"/>
</g>
<text x="123.4" y="419.2" font-size="6.5" fill="#1a1a1a" text-anchor="end">1</text>
<text x="123.4" y="523" font-size="6.5" fill="#1a1a1a" text-anchor="end">341</text>
<text font-size="6.5" fill="#1a1a1a" text-anchor="middle" transform="translate(118 468) rotate(-90)">Neurons</text>
<text x="124.6" y="528.8" font-size="6.5" fill="#1a1a1a" text-anchor="middle">0</text>
<text x="139.04" y="528.8" font-size="6.5" fill="#1a1a1a" text-anchor="middle">30</text>
<text x="153.48" y="528.8" font-size="6.5" fill="#1a1a1a" text-anchor="middle">60</text>
<text x="167.92" y="528.8" font-size="6.5" fill="#1a1a1a" text-anchor="middle">90</text>
<text x="182.36" y="528.8" font-size="6.5" fill="#1a1a1a" text-anchor="middle">120</text>
<text x="196.8" y="528.8" font-size="6.5" fill="#1a1a1a" text-anchor="middle">150</text>
<text x="160.5" y="538.8" font-size="6.5" fill="#1a1a1a" text-anchor="middle">Time (s)</text>
<text x="253.4" y="411.8" font-size="6.5" fill="#1a1a1a" text-anchor="middle">Young co-housed with old</text>
<rect x="217.2" y="414.4" width="71.4" height="85.4" fill="#5a1980"/>
<g shape-rendering="crispEdges">
<path d="M241.34 414.4h2.01v1h-2.01zM241.34 415.4h1.01v1h-1.01zM217.2 416.41h23.13v1h-23.13zM241.34 418.42h3.02v1h-3.02zM244.35 420.43h3.02v1h-3.02zM217.2 421.43h29.16v1h-29.16zM217.2 422.44h29.16v1h-29.16zM243.35 423.44h4.02v1h-4.02zM246.36 424.45h2.01v1h-2.01zM217.2 425.45h31.17v1h-31.17zM217.2 426.46h31.17v1h-31.17zM248.37 427.46h2.01v1h-2.01zM250.39 428.47h2.01v1h-2.01zM217.2 429.47h32.18v1h-32.18zM217.2 431.48h35.2v1h-35.2zM217.2 432.48h34.19v1h-34.19zM217.2 433.49h35.2v1h-35.2zM250.39 434.49h1.01v1h-1.01zM252.4 434.49h2.01v1h-2.01zM253.4 436.5h1.01v1h-1.01zM255.41 436.5h1.01v1h-1.01zM257.43 436.5h1.01v1h-1.01zM252.4 437.51h2.01v1h-2.01zM254.41 438.51h2.01v1h-2.01zM256.42 439.52h1.01v1h-1.01zM255.41 440.52h2.01v1h-2.01zM217.2 441.53h42.24v1h-42.24zM259.44 442.53h3.02v1h-3.02zM217.2 443.54h44.25v1h-44.25zM258.43 444.54h3.02v1h-3.02zM217.2 445.55h43.24v1h-43.24zM260.44 446.55h1.01v1h-1.01zM261.45 447.56h1.01v1h-1.01zM263.46 448.56h1.01v1h-1.01zM217.2 449.56h48.27v1h-48.27zM261.45 450.57h1.01v1h-1.01zM263.46 450.57h1.01v1h-1.01zM217.2 451.57h47.26v1h-47.26zM265.47 451.57h1.01v1h-1.01zM266.48 452.58h3.02v1h-3.02zM264.46 453.58h6.03v1h-6.03zM265.47 454.59h1.01v1h-1.01zM267.48 454.59h4.02v1h-4.02zM217.2 455.59h50.28v1h-50.28zM268.49 455.59h1.01v1h-1.01zM267.48 456.6h1.01v1h-1.01zM217.2 457.6h51.29v1h-51.29zM217.2 458.61h51.29v1h-51.29zM268.49 459.61h1.01v1h-1.01zM217.2 460.62h54.3v1h-54.3zM270.5 461.62h2.01v1h-2.01zM217.2 462.63h55.31v1h-55.31zM217.2 463.63h55.31v1h-55.31zM217.2 465.64h57.32v1h-57.32zM217.2 466.64h56.32v1h-56.32zM274.52 466.64h2.01v1h-2.01zM217.2 467.65h59.33v1h-59.33zM217.2 469.66h58.33v1h-58.33zM217.2 470.66h61.34v1h-61.34zM217.2 471.67h60.34v1h-60.34zM217.2 472.67h59.33v1h-59.33zM277.54 472.67h2.01v1h-2.01zM217.2 473.68h63.35v1h-63.35zM217.2 474.68h64.36v1h-64.36zM282.57 474.68h1.01v1h-1.01zM217.2 475.69h64.36v1h-64.36zM217.2 476.69h65.37v1h-65.37zM217.2 477.7h68.38v1h-68.38zM217.2 478.7h62.35v1h-62.35zM280.55 478.7h1.01v1h-1.01zM283.57 480.71h1.01v1h-1.01zM217.2 481.72h70.39v1h-70.39zM217.2 482.72h69.39v1h-69.39zM217.2 483.72h68.38v1h-68.38zM286.59 483.72h1.01v1h-1.01zM217.2 484.73h71.4v1h-71.4zM217.2 485.73h68.38v1h-68.38zM217.2 486.74h71.4v1h-71.4zM217.2 487.74h69.39v1h-69.39zM287.59 487.74h1.01v1h-1.01zM217.2 488.75h69.39v1h-69.39zM217.2 489.75h71.4v1h-71.4zM217.2 490.76h71.4v1h-71.4zM217.2 491.76h71.4v1h-71.4zM217.2 493.77h71.4v1h-71.4zM217.2 494.78h71.4v1h-71.4zM217.2 495.78h71.4v1h-71.4zM217.2 496.79h71.4v1h-71.4z" fill="#562686"/>
<path d="M243.35 414.4h3.02v1h-3.02zM259.44 414.4h3.02v1h-3.02zM242.34 415.4h1.01v1h-1.01zM240.33 416.41h1.01v1h-1.01zM227.26 416.41h4.02v1h-4.02zM240.33 417.41h2.01v1h-2.01zM244.35 418.42h2.01v1h-2.01zM243.35 419.42h1.01v1h-1.01zM245.36 419.42h4.02v1h-4.02zM247.37 420.43h2.01v1h-2.01zM246.36 421.43h2.01v1h-2.01zM246.36 422.44h3.02v1h-3.02zM247.37 423.44h3.02v1h-3.02zM248.37 424.45h3.02v1h-3.02zM248.37 425.45h3.02v1h-3.02zM248.37 426.46h3.02v1h-3.02zM250.39 427.46h1.01v1h-1.01zM252.4 428.47h2.01v1h-2.01zM249.38 429.47h2.01v1h-2.01zM217.2 430.48h33.19v1h-33.19zM252.4 431.48h1.01v1h-1.01zM251.39 432.48h4.02v1h-4.02zM252.4 433.49h5.03v1h-5.03zM254.41 434.49h7.04v1h-7.04zM217.2 435.5h37.21v1h-37.21zM256.42 436.5h1.01v1h-1.01zM258.43 436.5h2.01v1h-2.01zM254.41 437.51h2.01v1h-2.01zM256.42 438.51h1.01v1h-1.01zM262.45 438.51h2.01v1h-2.01zM257.43 439.52h3.02v1h-3.02zM273.52 439.52h4.02v1h-4.02zM257.43 440.52h2.01v1h-2.01zM259.44 441.53h4.02v1h-4.02zM251.39 441.53h7.04v1h-7.04zM262.45 442.53h4.02v1h-4.02zM261.45 443.54h2.01v1h-2.01zM261.45 444.54h1.01v1h-1.01zM260.44 445.55h3.02v1h-3.02zM268.49 445.55h5.03v1h-5.03zM261.45 446.55h2.01v1h-2.01zM262.45 447.56h2.01v1h-2.01zM264.46 448.56h1.01v1h-1.01zM265.47 449.56h1.01v1h-1.01zM260.44 449.56h5.03v1h-5.03zM264.46 450.57h3.02v1h-3.02zM264.46 451.57h1.01v1h-1.01zM266.48 451.57h1.01v1h-1.01zM269.49 452.58h4.02v1h-4.02zM270.5 453.58h3.02v1h-3.02zM274.52 453.58h6.03v1h-6.03zM271.5 454.59h3.02v1h-3.02zM275.53 454.59h1.01v1h-1.01zM267.48 455.59h1.01v1h-1.01zM269.49 455.59h3.02v1h-3.02zM273.52 455.59h1.01v1h-1.01zM268.49 456.6h4.02v1h-4.02zM268.49 457.6h2.01v1h-2.01zM268.49 458.61h5.03v1h-5.03zM269.49 459.61h2.01v1h-2.01zM277.54 459.61h2.01v1h-2.01zM268.49 459.61h3.02v1h-3.02zM271.5 460.62h3.02v1h-3.02zM272.51 461.62h2.01v1h-2.01zM272.51 462.63h4.02v1h-4.02zM272.51 463.63h3.02v1h-3.02zM217.2 464.64h56.32v1h-56.32zM274.52 465.64h4.02v1h-4.02zM274.52 465.64h3.02v1h-3.02zM276.53 466.64h3.02v1h-3.02zM276.53 467.65h3.02v1h-3.02zM217.2 468.65h60.34v1h-60.34zM260.44 468.65h3.02v1h-3.02zM275.53 469.66h2.01v1h-2.01zM278.54 470.66h4.02v1h-4.02zM277.54 471.67h3.02v1h-3.02zM279.55 472.67h3.02v1h-3.02zM280.55 473.68h3.02v1h-3.02zM271.5 473.68h7.04v1h-7.04zM245.36 473.68h5.03v1h-5.03zM281.56 474.68h1.01v1h-1.01zM283.57 474.68h3.02v1h-3.02zM281.56 475.69h6.03v1h-6.03zM282.57 476.69h2.01v1h-2.01zM285.58 476.69h1.01v1h-1.01zM243.35 476.69h6.03v1h-6.03zM285.58 477.7h2.01v1h-2.01zM279.55 478.7h1.01v1h-1.01zM281.56 478.7h2.01v1h-2.01zM284.58 478.7h1.01v1h-1.01zM257.43 478.7h7.04v1h-7.04zM217.2 479.71h68.38v1h-68.38zM217.2 480.71h66.37v1h-66.37zM284.58 480.71h1.01v1h-1.01zM287.59 480.71h1.01v1h-1.01zM287.59 481.72h1.01v1h-1.01zM286.59 482.72h2.01v1h-2.01zM285.58 483.72h1.01v1h-1.01zM287.59 483.72h1.01v1h-1.01zM225.25 483.72h2.01v1h-2.01zM239.32 483.72h4.02v1h-4.02zM285.58 485.73h3.02v1h-3.02zM286.59 487.74h1.01v1h-1.01zM286.59 488.75h2.01v1h-2.01zM260.44 491.76h5.03v1h-5.03zM217.2 492.77h71.4v1h-71.4zM264.46 494.78h4.02v1h-4.02zM217.2 497.79h71.4v1h-71.4zM217.2 498.8h71.4v1h-71.4z" fill="#4b398c"/>
<path d="M246.36 414.4h1.01v1h-1.01zM243.35 415.4h1.01v1h-1.01zM241.34 416.41h1.01v1h-1.01zM246.36 418.42h3.02v1h-3.02zM244.35 419.42h2.01v1h-2.01zM249.38 420.43h2.01v1h-2.01zM248.37 421.43h3.02v1h-3.02zM264.46 421.43h6.03v1h-6.03zM249.38 422.44h2.01v1h-2.01zM251.39 424.45h1.01v1h-1.01zM251.39 425.45h3.02v1h-3.02zM255.41 425.45h1.01v1h-1.01zM251.39 426.46h3.02v1h-3.02zM272.51 427.46h6.03v1h-6.03zM254.41 428.47h1.01v1h-1.01zM251.39 429.47h2.01v1h-2.01zM250.39 430.48h2.01v1h-2.01zM253.4 431.48h3.02v1h-3.02zM243.35 431.48h5.03v1h-5.03zM255.41 432.48h1.01v1h-1.01zM257.43 432.48h1.01v1h-1.01zM257.43 433.49h2.01v1h-2.01zM254.41 434.49h3.02v1h-3.02zM254.41 435.5h3.02v1h-3.02zM260.44 436.5h1.01v1h-1.01zM277.54 436.5h6.03v1h-6.03zM256.42 437.51h2.01v1h-2.01zM257.43 438.51h2.01v1h-2.01zM260.44 439.52h3.02v1h-3.02zM259.44 440.52h3.02v1h-3.02zM246.36 440.52h2.01v1h-2.01zM263.46 441.53h2.01v1h-2.01zM266.48 442.53h2.01v1h-2.01zM263.46 443.54h3.02v1h-3.02zM262.45 444.54h1.01v1h-1.01zM263.46 445.55h1.01v1h-1.01zM263.46 446.55h1.01v1h-1.01zM264.46 447.56h1.01v1h-1.01zM263.46 447.56h2.01v1h-2.01zM265.47 448.56h2.01v1h-2.01zM236.31 448.56h6.03v1h-6.03zM266.48 449.56h2.01v1h-2.01zM267.48 450.57h3.02v1h-3.02zM267.48 451.57h2.01v1h-2.01zM273.52 452.58h5.03v1h-5.03zM273.52 453.58h4.02v1h-4.02zM274.52 454.59h1.01v1h-1.01zM276.53 454.59h4.02v1h-4.02zM272.51 455.59h1.01v1h-1.01zM274.52 455.59h4.02v1h-4.02zM280.55 455.59h1.01v1h-1.01zM272.51 456.6h2.01v1h-2.01zM270.5 457.6h4.02v1h-4.02zM236.31 457.6h7.04v1h-7.04zM273.52 458.61h3.02v1h-3.02zM278.54 458.61h3.02v1h-3.02zM271.5 459.61h2.01v1h-2.01zM274.52 460.62h3.02v1h-3.02zM274.52 461.62h4.02v1h-4.02zM276.53 462.63h3.02v1h-3.02zM275.53 463.63h3.02v1h-3.02zM273.52 464.64h2.01v1h-2.01zM278.54 465.64h3.02v1h-3.02zM279.55 466.64h4.02v1h-4.02zM279.55 467.65h2.01v1h-2.01zM277.54 468.65h2.01v1h-2.01zM277.54 469.66h3.02v1h-3.02zM282.57 470.66h3.02v1h-3.02zM276.53 470.66h3.02v1h-3.02zM280.55 471.67h2.01v1h-2.01zM282.57 472.67h2.01v1h-2.01zM249.38 472.67h6.03v1h-6.03zM283.57 473.68h3.02v1h-3.02zM286.59 474.68h2.01v1h-2.01zM287.59 475.69h1.01v1h-1.01zM284.58 476.69h1.01v1h-1.01zM286.59 476.69h2.01v1h-2.01zM287.59 477.7h1.01v1h-1.01zM283.57 478.7h1.01v1h-1.01zM285.58 478.7h3.02v1h-3.02zM285.58 479.71h3.02v1h-3.02zM285.58 480.71h2.01v1h-2.01zM242.34 480.71h7.04v1h-7.04zM272.51 490.76h4.02v1h-4.02z" fill="#3f4f8e"/>
<path d="M247.37 414.4h2.01v1h-2.01zM244.35 415.4h1.01v1h-1.01zM242.34 417.41h2.01v1h-2.01zM249.38 418.42h2.01v1h-2.01zM246.36 419.42h1.01v1h-1.01zM251.39 420.43h2.01v1h-2.01zM251.39 421.43h4.02v1h-4.02zM251.39 422.44h3.02v1h-3.02zM250.39 423.44h3.02v1h-3.02zM252.4 424.45h3.02v1h-3.02zM254.41 425.45h1.01v1h-1.01zM256.42 425.45h2.01v1h-2.01zM254.41 426.46h2.01v1h-2.01zM251.39 427.46h2.01v1h-2.01zM282.57 427.46h1.01v1h-1.01zM255.41 428.47h2.01v1h-2.01zM253.4 429.47h2.01v1h-2.01zM252.4 430.48h3.02v1h-3.02zM256.42 431.48h2.01v1h-2.01zM256.42 432.48h1.01v1h-1.01zM258.43 432.48h1.01v1h-1.01zM259.44 433.49h1.01v1h-1.01zM261.45 433.49h1.01v1h-1.01zM257.43 434.49h2.01v1h-2.01zM257.43 435.5h3.02v1h-3.02zM277.54 435.5h6.03v1h-6.03zM261.45 436.5h3.02v1h-3.02zM258.43 437.51h1.01v1h-1.01zM259.44 438.51h1.01v1h-1.01zM263.46 439.52h2.01v1h-2.01zM262.45 440.52h2.01v1h-2.01zM265.47 441.53h2.01v1h-2.01zM268.49 442.53h3.02v1h-3.02zM272.51 442.53h1.01v1h-1.01zM272.51 442.53h6.03v1h-6.03zM266.48 443.54h5.03v1h-5.03zM263.46 444.54h3.02v1h-3.02zM264.46 445.55h1.01v1h-1.01zM264.46 446.55h1.01v1h-1.01zM265.47 447.56h1.01v1h-1.01zM267.48 448.56h1.01v1h-1.01zM268.49 449.56h4.02v1h-4.02zM270.5 450.57h2.01v1h-2.01zM267.48 450.57h4.02v1h-4.02zM269.49 451.57h3.02v1h-3.02zM278.54 452.58h2.01v1h-2.01zM277.54 453.58h3.02v1h-3.02zM280.55 454.59h3.02v1h-3.02zM278.54 455.59h2.01v1h-2.01zM281.56 455.59h3.02v1h-3.02zM285.58 455.59h1.01v1h-1.01zM275.53 456.6h1.01v1h-1.01zM274.52 457.6h1.01v1h-1.01zM276.53 458.61h3.02v1h-3.02zM273.52 459.61h3.02v1h-3.02zM277.54 460.62h3.02v1h-3.02zM278.54 461.62h3.02v1h-3.02zM279.55 462.63h3.02v1h-3.02zM278.54 463.63h1.01v1h-1.01zM280.55 463.63h1.01v1h-1.01zM275.53 464.64h3.02v1h-3.02zM279.55 464.64h1.01v1h-1.01zM281.56 465.64h1.01v1h-1.01zM283.57 466.64h1.01v1h-1.01zM281.56 467.65h3.02v1h-3.02zM279.55 468.65h4.02v1h-4.02zM280.55 469.66h2.01v1h-2.01zM285.58 470.66h3.02v1h-3.02zM282.57 471.67h2.01v1h-2.01zM284.58 472.67h2.01v1h-2.01zM287.59 473.68h1.01v1h-1.01zM255.41 497.79h6.03v1h-6.03z" fill="#32698e"/>
<path d="M249.38 414.4h2.01v1h-2.01zM245.36 415.4h1.01v1h-1.01zM242.34 416.41h2.01v1h-2.01zM251.39 418.42h3.02v1h-3.02zM253.4 420.43h2.01v1h-2.01zM255.41 421.43h1.01v1h-1.01zM254.41 422.44h2.01v1h-2.01zM253.4 423.44h4.02v1h-4.02zM255.41 424.45h3.02v1h-3.02zM258.43 425.45h2.01v1h-2.01zM256.42 426.46h4.02v1h-4.02zM253.4 427.46h1.01v1h-1.01zM277.54 427.46h5.03v1h-5.03zM255.41 429.47h1.01v1h-1.01zM255.41 430.48h1.01v1h-1.01zM264.46 430.48h2.01v1h-2.01zM258.43 431.48h2.01v1h-2.01zM259.44 432.48h4.02v1h-4.02zM245.36 432.48h6.03v1h-6.03zM260.44 433.49h1.01v1h-1.01zM262.45 433.49h2.01v1h-2.01zM259.44 434.49h1.01v1h-1.01zM260.44 435.5h5.03v1h-5.03zM264.46 436.5h3.02v1h-3.02zM259.44 437.51h1.01v1h-1.01zM260.44 438.51h2.01v1h-2.01zM265.47 439.52h3.02v1h-3.02zM264.46 440.52h1.01v1h-1.01zM267.48 441.53h3.02v1h-3.02zM271.5 441.53h1.01v1h-1.01zM271.5 442.53h1.01v1h-1.01zM273.52 442.53h3.02v1h-3.02zM271.5 443.54h1.01v1h-1.01zM266.48 444.54h1.01v1h-1.01zM265.47 445.55h3.02v1h-3.02zM265.47 446.55h2.01v1h-2.01zM266.48 447.56h2.01v1h-2.01zM272.51 449.56h2.01v1h-2.01zM272.51 450.57h4.02v1h-4.02zM272.51 451.57h2.01v1h-2.01zM280.55 452.58h3.02v1h-3.02zM280.55 453.58h4.02v1h-4.02zM283.57 454.59h4.02v1h-4.02zM284.58 455.59h1.01v1h-1.01zM286.59 455.59h2.01v1h-2.01zM274.52 456.6h1.01v1h-1.01zM276.53 456.6h1.01v1h-1.01zM275.53 457.6h3.02v1h-3.02zM279.55 458.61h2.01v1h-2.01zM276.53 459.61h2.01v1h-2.01zM280.55 460.62h2.01v1h-2.01zM282.57 462.63h2.01v1h-2.01zM279.55 463.63h1.01v1h-1.01zM281.56 463.63h3.02v1h-3.02zM278.54 464.64h1.01v1h-1.01zM280.55 464.64h2.01v1h-2.01zM282.57 465.64h4.02v1h-4.02zM284.58 466.64h4.02v1h-4.02zM279.55 466.64h4.02v1h-4.02zM284.58 467.65h3.02v1h-3.02zM283.57 468.65h2.01v1h-2.01zM282.57 469.66h3.02v1h-3.02zM284.58 471.67h2.01v1h-2.01zM286.59 472.67h2.01v1h-2.01zM286.59 473.68h1.01v1h-1.01zM262.45 478.7h7.04v1h-7.04zM230.27 484.73h6.03v1h-6.03zM236.31 489.75h3.02v1h-3.02zM278.54 496.79h7.04v1h-7.04z" fill="#277f8d"/>
<path d="M251.39 414.4h2.01v1h-2.01zM246.36 415.4h1.01v1h-1.01zM244.35 416.41h1.01v1h-1.01zM244.35 417.41h2.01v1h-2.01zM254.41 418.42h2.01v1h-2.01zM247.37 419.42h1.01v1h-1.01zM255.41 420.43h2.01v1h-2.01zM256.42 421.43h2.01v1h-2.01zM256.42 422.44h3.02v1h-3.02zM257.43 423.44h2.01v1h-2.01zM258.43 424.45h2.01v1h-2.01zM260.44 425.45h4.02v1h-4.02zM257.43 428.47h2.01v1h-2.01zM256.42 429.47h2.01v1h-2.01zM256.42 430.48h1.01v1h-1.01zM260.44 431.48h1.01v1h-1.01zM263.46 432.48h2.01v1h-2.01zM264.46 433.49h3.02v1h-3.02zM260.44 434.49h1.01v1h-1.01zM265.47 435.5h3.02v1h-3.02zM275.53 435.5h2.01v1h-2.01zM283.57 435.5h3.02v1h-3.02zM267.48 436.5h2.01v1h-2.01zM275.53 436.5h2.01v1h-2.01zM283.57 436.5h5.03v1h-5.03zM260.44 437.51h2.01v1h-2.01zM262.45 438.51h2.01v1h-2.01zM268.49 439.52h1.01v1h-1.01zM270.5 439.52h1.01v1h-1.01zM272.51 439.52h1.01v1h-1.01zM276.53 439.52h1.01v1h-1.01zM279.55 439.52h1.01v1h-1.01zM285.58 439.52h1.01v1h-1.01zM265.47 440.52h2.01v1h-2.01zM270.5 441.53h1.01v1h-1.01zM272.51 441.53h1.01v1h-1.01zM274.52 441.53h1.01v1h-1.01zM276.53 442.53h3.02v1h-3.02zM281.56 442.53h1.01v1h-1.01zM284.58 442.53h1.01v1h-1.01zM287.59 442.53h1.01v1h-1.01zM272.51 443.54h6.03v1h-6.03zM279.55 443.54h5.03v1h-5.03zM285.58 443.54h2.01v1h-2.01zM267.48 444.54h2.01v1h-2.01zM268.49 445.55h2.01v1h-2.01zM268.49 447.56h1.01v1h-1.01zM268.49 448.56h2.01v1h-2.01zM274.52 449.56h1.01v1h-1.01zM276.53 450.57h3.02v1h-3.02zM274.52 451.57h3.02v1h-3.02zM285.58 451.57h1.01v1h-1.01zM283.57 452.58h5.03v1h-5.03zM284.58 453.58h4.02v1h-4.02zM287.59 454.59h1.01v1h-1.01zM277.54 456.6h3.02v1h-3.02zM278.54 457.6h2.01v1h-2.01zM281.56 458.61h3.02v1h-3.02zM278.54 459.61h1.01v1h-1.01zM282.57 460.62h3.02v1h-3.02zM281.56 461.62h5.03v1h-5.03zM287.59 461.62h1.01v1h-1.01zM284.58 462.63h4.02v1h-4.02zM284.58 463.63h3.02v1h-3.02zM282.57 464.64h2.01v1h-2.01zM285.58 464.64h1.01v1h-1.01zM286.59 465.64h2.01v1h-2.01zM287.59 467.65h1.01v1h-1.01zM285.58 468.65h3.02v1h-3.02zM285.58 469.66h3.02v1h-3.02zM286.59 471.67h2.01v1h-2.01z" fill="#21918c"/>
<path d="M253.4 414.4h2.01v1h-2.01zM247.37 415.4h1.01v1h-1.01zM246.36 417.41h1.01v1h-1.01zM245.36 417.41h5.03v1h-5.03zM256.42 418.42h4.02v1h-4.02zM248.37 419.42h2.01v1h-2.01zM257.43 420.43h1.01v1h-1.01zM258.43 421.43h3.02v1h-3.02zM275.53 421.43h6.03v1h-6.03zM282.57 421.43h1.01v1h-1.01zM287.59 421.43h1.01v1h-1.01zM259.44 422.44h1.01v1h-1.01zM278.54 422.44h1.01v1h-1.01zM284.58 422.44h1.01v1h-1.01zM286.59 422.44h1.01v1h-1.01zM254.41 422.44h6.03v1h-6.03zM259.44 423.44h2.01v1h-2.01zM260.44 424.45h1.01v1h-1.01zM245.36 424.45h5.03v1h-5.03zM264.46 425.45h1.01v1h-1.01zM274.52 425.45h7.04v1h-7.04zM285.58 425.45h1.01v1h-1.01zM260.44 426.46h4.02v1h-4.02zM254.41 427.46h2.01v1h-2.01zM259.44 428.47h2.01v1h-2.01zM277.54 428.47h5.03v1h-5.03zM258.43 429.47h1.01v1h-1.01zM257.43 430.48h2.01v1h-2.01zM261.45 431.48h2.01v1h-2.01zM265.47 432.48h2.01v1h-2.01zM267.48 433.49h3.02v1h-3.02zM269.49 433.49h3.02v1h-3.02zM261.45 434.49h2.01v1h-2.01zM268.49 435.5h2.01v1h-2.01zM286.59 435.5h2.01v1h-2.01zM269.49 436.5h4.02v1h-4.02zM262.45 437.51h2.01v1h-2.01zM264.46 438.51h1.01v1h-1.01zM269.49 439.52h1.01v1h-1.01zM271.5 439.52h1.01v1h-1.01zM273.52 439.52h3.02v1h-3.02zM277.54 439.52h2.01v1h-2.01zM280.55 439.52h5.03v1h-5.03zM286.59 439.52h2.01v1h-2.01zM267.48 440.52h2.01v1h-2.01zM273.52 441.53h1.01v1h-1.01zM275.53 441.53h3.02v1h-3.02zM279.55 442.53h2.01v1h-2.01zM282.57 442.53h2.01v1h-2.01zM285.58 442.53h2.01v1h-2.01zM278.54 443.54h1.01v1h-1.01zM284.58 443.54h1.01v1h-1.01zM287.59 443.54h1.01v1h-1.01zM269.49 444.54h1.01v1h-1.01zM276.53 444.54h1.01v1h-1.01zM281.56 444.54h1.01v1h-1.01zM284.58 444.54h1.01v1h-1.01zM286.59 444.54h2.01v1h-2.01zM263.46 444.54h7.04v1h-7.04zM270.5 445.55h1.01v1h-1.01zM275.53 445.55h1.01v1h-1.01zM278.54 445.55h1.01v1h-1.01zM267.48 446.55h2.01v1h-2.01zM269.49 447.56h1.01v1h-1.01zM270.5 448.56h2.01v1h-2.01zM275.53 449.56h2.01v1h-2.01zM279.55 450.57h3.02v1h-3.02zM277.54 451.57h8.05v1h-8.05zM286.59 451.57h2.01v1h-2.01zM280.55 456.6h2.01v1h-2.01zM280.55 457.6h3.02v1h-3.02zM234.3 457.6h6.03v1h-6.03zM284.58 458.61h3.02v1h-3.02zM279.55 459.61h1.01v1h-1.01zM285.58 460.62h3.02v1h-3.02zM286.59 461.62h1.01v1h-1.01zM284.58 464.64h1.01v1h-1.01zM286.59 464.64h2.01v1h-2.01zM241.34 474.68h2.01v1h-2.01zM258.43 489.75h2.01v1h-2.01z" fill="#22a186"/>
<path d="M255.41 414.4h2.01v1h-2.01zM245.36 416.41h2.01v1h-2.01zM260.44 418.42h1.01v1h-1.01zM258.43 420.43h3.02v1h-3.02zM261.45 421.43h14.08v1h-14.08zM281.56 421.43h1.01v1h-1.01zM283.57 421.43h4.02v1h-4.02zM260.44 422.44h18.1v1h-18.1zM279.55 422.44h5.03v1h-5.03zM285.58 422.44h1.01v1h-1.01zM287.59 422.44h1.01v1h-1.01zM261.45 423.44h3.02v1h-3.02zM261.45 424.45h3.02v1h-3.02zM265.47 425.45h9.05v1h-9.05zM281.56 425.45h4.02v1h-4.02zM286.59 425.45h2.01v1h-2.01zM264.46 426.46h2.01v1h-2.01zM256.42 427.46h1.01v1h-1.01zM261.45 428.47h1.01v1h-1.01zM259.44 429.47h2.01v1h-2.01zM259.44 430.48h2.01v1h-2.01zM263.46 431.48h2.01v1h-2.01zM268.49 431.48h2.01v1h-2.01zM272.51 431.48h6.03v1h-6.03zM279.55 431.48h9.05v1h-9.05zM267.48 432.48h4.02v1h-4.02zM276.53 432.48h1.01v1h-1.01zM278.54 432.48h1.01v1h-1.01zM282.57 432.48h1.01v1h-1.01zM286.59 432.48h2.01v1h-2.01zM270.5 433.49h2.01v1h-2.01zM277.54 433.49h1.01v1h-1.01zM280.55 433.49h2.01v1h-2.01zM284.58 433.49h1.01v1h-1.01zM286.59 433.49h2.01v1h-2.01zM263.46 434.49h2.01v1h-2.01zM270.5 435.5h5.03v1h-5.03zM273.52 436.5h2.01v1h-2.01zM264.46 437.51h1.01v1h-1.01zM265.47 438.51h2.01v1h-2.01zM269.49 440.52h2.01v1h-2.01zM272.51 440.52h1.01v1h-1.01zM274.52 440.52h14.08v1h-14.08zM278.54 441.53h2.01v1h-2.01zM270.5 444.54h6.03v1h-6.03zM277.54 444.54h4.02v1h-4.02zM282.57 444.54h2.01v1h-2.01zM285.58 444.54h1.01v1h-1.01zM271.5 445.55h4.02v1h-4.02zM276.53 445.55h2.01v1h-2.01zM279.55 445.55h9.05v1h-9.05zM269.49 446.55h1.01v1h-1.01zM270.5 447.56h1.01v1h-1.01zM272.51 448.56h1.01v1h-1.01zM277.54 449.56h2.01v1h-2.01zM282.57 450.57h2.01v1h-2.01zM282.57 456.6h2.01v1h-2.01zM283.57 457.6h1.01v1h-1.01zM287.59 458.61h1.01v1h-1.01zM280.55 459.61h3.02v1h-3.02zM287.59 463.63h1.01v1h-1.01z" fill="#31b27b"/>
<path d="M257.43 414.4h2.01v1h-2.01zM248.37 415.4h2.01v1h-2.01zM247.37 417.41h1.01v1h-1.01zM261.45 418.42h2.01v1h-2.01zM276.53 418.42h1.01v1h-1.01zM278.54 418.42h1.01v1h-1.01zM283.57 418.42h2.01v1h-2.01zM286.59 418.42h2.01v1h-2.01zM250.39 419.42h2.01v1h-2.01zM261.45 420.43h2.01v1h-2.01zM264.46 423.44h1.01v1h-1.01zM264.46 424.45h2.01v1h-2.01zM266.48 426.46h2.01v1h-2.01zM275.53 426.46h4.02v1h-4.02zM280.55 426.46h1.01v1h-1.01zM282.57 426.46h3.02v1h-3.02zM286.59 426.46h1.01v1h-1.01zM257.43 427.46h1.01v1h-1.01zM276.53 427.46h1.01v1h-1.01zM284.58 427.46h2.01v1h-2.01zM262.45 428.47h2.01v1h-2.01zM261.45 429.47h2.01v1h-2.01zM261.45 430.48h3.02v1h-3.02zM265.47 431.48h3.02v1h-3.02zM270.5 431.48h2.01v1h-2.01zM278.54 431.48h1.01v1h-1.01zM271.5 432.48h5.03v1h-5.03zM277.54 432.48h1.01v1h-1.01zM279.55 432.48h3.02v1h-3.02zM283.57 432.48h3.02v1h-3.02zM272.51 433.49h5.03v1h-5.03zM278.54 433.49h2.01v1h-2.01zM282.57 433.49h2.01v1h-2.01zM285.58 433.49h1.01v1h-1.01zM265.47 434.49h1.01v1h-1.01zM265.47 437.51h2.01v1h-2.01zM267.48 438.51h1.01v1h-1.01zM271.5 440.52h1.01v1h-1.01zM273.52 440.52h1.01v1h-1.01zM280.55 441.53h2.01v1h-2.01zM270.5 446.55h1.01v1h-1.01zM275.53 446.55h1.01v1h-1.01zM277.54 446.55h2.01v1h-2.01zM280.55 446.55h2.01v1h-2.01zM283.57 446.55h1.01v1h-1.01zM285.58 446.55h1.01v1h-1.01zM271.5 447.56h2.01v1h-2.01zM276.53 447.56h4.02v1h-4.02zM282.57 447.56h2.01v1h-2.01zM285.58 447.56h1.01v1h-1.01zM273.52 448.56h1.01v1h-1.01zM277.54 448.56h3.02v1h-3.02zM282.57 448.56h2.01v1h-2.01zM285.58 448.56h3.02v1h-3.02zM279.55 449.56h3.02v1h-3.02zM283.57 449.56h1.01v1h-1.01zM287.59 449.56h1.01v1h-1.01zM284.58 450.57h4.02v1h-4.02zM284.58 456.6h4.02v1h-4.02zM284.58 457.6h4.02v1h-4.02zM283.57 459.61h1.01v1h-1.01z" fill="#4cc26c"/>
<path d="M259.44 414.4h2.01v1h-2.01zM275.53 414.4h2.01v1h-2.01zM250.39 415.4h1.01v1h-1.01zM247.37 416.41h1.01v1h-1.01zM261.45 416.41h7.04v1h-7.04zM248.37 417.41h1.01v1h-1.01zM263.46 418.42h13.07v1h-13.07zM277.54 418.42h1.01v1h-1.01zM279.55 418.42h4.02v1h-4.02zM285.58 418.42h1.01v1h-1.01zM263.46 420.43h2.01v1h-2.01zM265.47 423.44h3.02v1h-3.02zM266.48 424.45h2.01v1h-2.01zM268.49 426.46h7.04v1h-7.04zM279.55 426.46h1.01v1h-1.01zM281.56 426.46h1.01v1h-1.01zM285.58 426.46h1.01v1h-1.01zM287.59 426.46h1.01v1h-1.01zM258.43 427.46h1.01v1h-1.01zM275.53 427.46h1.01v1h-1.01zM283.57 427.46h1.01v1h-1.01zM286.59 427.46h2.01v1h-2.01zM264.46 428.47h1.01v1h-1.01zM263.46 429.47h1.01v1h-1.01zM266.48 434.49h2.01v1h-2.01zM275.53 434.49h10.06v1h-10.06zM286.59 434.49h2.01v1h-2.01zM267.48 437.51h2.01v1h-2.01zM268.49 438.51h2.01v1h-2.01zM282.57 441.53h6.03v1h-6.03zM253.4 443.54h6.03v1h-6.03zM271.5 446.55h4.02v1h-4.02zM276.53 446.55h1.01v1h-1.01zM279.55 446.55h1.01v1h-1.01zM282.57 446.55h1.01v1h-1.01zM284.58 446.55h1.01v1h-1.01zM286.59 446.55h2.01v1h-2.01zM273.52 447.56h3.02v1h-3.02zM280.55 447.56h2.01v1h-2.01zM284.58 447.56h1.01v1h-1.01zM286.59 447.56h2.01v1h-2.01zM274.52 448.56h3.02v1h-3.02zM280.55 448.56h2.01v1h-2.01zM284.58 448.56h1.01v1h-1.01zM282.57 449.56h1.01v1h-1.01zM284.58 449.56h3.02v1h-3.02zM238.32 454.59h4.02v1h-4.02zM271.5 455.59h2.01v1h-2.01zM284.58 459.61h4.02v1h-4.02zM255.41 461.62h3.02v1h-3.02zM266.48 462.63h5.03v1h-5.03zM256.42 464.64h6.03v1h-6.03zM277.54 465.64h4.02v1h-4.02zM229.27 471.67h7.04v1h-7.04z" fill="#72ce55"/>
<path d="M261.45 414.4h1.01v1h-1.01zM251.39 415.4h1.01v1h-1.01zM248.37 416.41h1.01v1h-1.01zM249.38 417.41h1.01v1h-1.01zM252.4 419.42h1.01v1h-1.01zM265.47 420.43h1.01v1h-1.01zM275.53 420.43h1.01v1h-1.01zM280.55 420.43h1.01v1h-1.01zM285.58 420.43h1.01v1h-1.01zM287.59 420.43h1.01v1h-1.01zM268.49 423.44h3.02v1h-3.02zM272.51 423.44h16.09v1h-16.09zM268.49 424.45h1.01v1h-1.01zM275.53 424.45h13.07v1h-13.07zM259.44 427.46h1.01v1h-1.01zM265.47 428.47h1.01v1h-1.01zM276.53 428.47h3.02v1h-3.02zM281.56 428.47h3.02v1h-3.02zM286.59 428.47h2.01v1h-2.01zM264.46 429.47h2.01v1h-2.01zM275.53 429.47h1.01v1h-1.01zM277.54 429.47h11.06v1h-11.06zM264.46 430.48h3.02v1h-3.02zM273.52 430.48h1.01v1h-1.01zM276.53 430.48h1.01v1h-1.01zM278.54 430.48h2.01v1h-2.01zM281.56 430.48h1.01v1h-1.01zM284.58 430.48h1.01v1h-1.01zM286.59 430.48h2.01v1h-2.01zM268.49 434.49h7.04v1h-7.04zM285.58 434.49h1.01v1h-1.01zM269.49 437.51h1.01v1h-1.01zM275.53 437.51h1.01v1h-1.01zM278.54 437.51h5.03v1h-5.03zM284.58 437.51h4.02v1h-4.02zM270.5 438.51h1.01v1h-1.01zM276.53 438.51h1.01v1h-1.01zM278.54 438.51h1.01v1h-1.01zM281.56 438.51h2.01v1h-2.01zM284.58 438.51h2.01v1h-2.01z" fill="#a0d938"/>
<path d="M262.45 414.4h3.02v1h-3.02zM275.53 414.4h4.02v1h-4.02zM281.56 414.4h1.01v1h-1.01zM283.57 414.4h2.01v1h-2.01zM287.59 414.4h1.01v1h-1.01zM275.53 415.4h2.01v1h-2.01zM282.57 415.4h1.01v1h-1.01zM284.58 415.4h1.01v1h-1.01zM287.59 415.4h1.01v1h-1.01zM260.44 415.4h7.04v1h-7.04zM249.38 416.41h1.01v1h-1.01zM282.57 416.41h1.01v1h-1.01zM286.59 416.41h1.01v1h-1.01zM250.39 417.41h1.01v1h-1.01zM279.55 417.41h1.01v1h-1.01zM283.57 417.41h1.01v1h-1.01zM287.59 417.41h1.01v1h-1.01zM271.5 417.41h3.02v1h-3.02zM253.4 419.42h1.01v1h-1.01zM281.56 419.42h1.01v1h-1.01zM283.57 419.42h1.01v1h-1.01zM287.59 419.42h1.01v1h-1.01zM266.48 420.43h4.02v1h-4.02zM271.5 420.43h4.02v1h-4.02zM276.53 420.43h4.02v1h-4.02zM281.56 420.43h4.02v1h-4.02zM286.59 420.43h1.01v1h-1.01zM271.5 423.44h1.01v1h-1.01zM269.49 424.45h6.03v1h-6.03zM260.44 427.46h1.01v1h-1.01zM266.48 428.47h10.06v1h-10.06zM279.55 428.47h2.01v1h-2.01zM284.58 428.47h2.01v1h-2.01zM266.48 429.47h9.05v1h-9.05zM276.53 429.47h1.01v1h-1.01zM267.48 430.48h6.03v1h-6.03zM274.52 430.48h2.01v1h-2.01zM277.54 430.48h1.01v1h-1.01zM280.55 430.48h1.01v1h-1.01zM282.57 430.48h2.01v1h-2.01zM285.58 430.48h1.01v1h-1.01zM248.37 433.49h5.03v1h-5.03zM270.5 437.51h5.03v1h-5.03zM276.53 437.51h2.01v1h-2.01zM283.57 437.51h1.01v1h-1.01zM271.5 438.51h5.03v1h-5.03zM277.54 438.51h1.01v1h-1.01zM279.55 438.51h2.01v1h-2.01zM283.57 438.51h1.01v1h-1.01zM286.59 438.51h2.01v1h-2.01zM262.45 441.53h5.03v1h-5.03zM225.25 467.65h5.03v1h-5.03zM262.45 488.75h2.01v1h-2.01z" fill="#cfe126"/>
<path d="M265.47 414.4h10.06v1h-10.06zM279.55 414.4h2.01v1h-2.01zM282.57 414.4h1.01v1h-1.01zM285.58 414.4h2.01v1h-2.01zM252.4 415.4h23.13v1h-23.13zM277.54 415.4h5.03v1h-5.03zM283.57 415.4h1.01v1h-1.01zM285.58 415.4h2.01v1h-2.01zM250.39 416.41h32.18v1h-32.18zM283.57 416.41h3.02v1h-3.02zM287.59 416.41h1.01v1h-1.01zM251.39 417.41h28.16v1h-28.16zM280.55 417.41h3.02v1h-3.02zM284.58 417.41h3.02v1h-3.02zM254.41 419.42h27.15v1h-27.15zM282.57 419.42h1.01v1h-1.01zM284.58 419.42h3.02v1h-3.02zM270.5 420.43h1.01v1h-1.01zM261.45 427.46h14.08v1h-14.08z" fill="#fde725"/>
</g>
<text x="216" y="419.2" font-size="6.5" fill="#1a1a1a" text-anchor="end">1</text>
<text x="216" y="501.8" font-size="6.5" fill="#1a1a1a" text-anchor="end">273</text>
<text font-size="6.5" fill="#1a1a1a" text-anchor="middle" transform="translate(210.4 457.5) rotate(-90)">Neurons</text>
<text x="217.2" y="507.2" font-size="6.5" fill="#1a1a1a" text-anchor="middle">0</text>
<text x="231.48" y="507.2" font-size="6.5" fill="#1a1a1a" text-anchor="middle">30</text>
<text x="245.76" y="507.2" font-size="6.5" fill="#1a1a1a" text-anchor="middle">60</text>
<text x="260.04" y="507.2" font-size="6.5" fill="#1a1a1a" text-anchor="middle">90</text>
<text x="274.32" y="507.2" font-size="6.5" fill="#1a1a1a" text-anchor="middle">120</text>
<text x="288.6" y="507.2" font-size="6.5" fill="#1a1a1a" text-anchor="middle">150</text>
<text x="252.6" y="517" font-size="6.5" fill="#1a1a1a" text-anchor="middle">Time (s)</text>
<rect x="239" y="522" width="26.8" height="5.8" fill="url(#virg)"/>
<text x="239.6" y="535" font-size="6.5" fill="#1a1a1a" text-anchor="middle">0</text>
<text x="265.4" y="535" font-size="6.5" fill="#1a1a1a" text-anchor="middle">15</text>
</g>
<g id="panel_w">
<text x="296.5" y="409.2" font-size="9.8" fill="#000" font-weight="bold" stroke="#000" stroke-width="0.35">w</text>
<line x1="331.2" y1="424.6" x2="331.2" y2="501.8" stroke="#444" stroke-width="0.6"/>
<line x1="327.9" y1="424.6" x2="331.2" y2="424.6" stroke="#444" stroke-width="0.6"/>
<text x="326.5" y="426.85" font-size="6.2" fill="#1a1a1a" text-anchor="end">100</text>
<line x1="327.9" y1="440.04" x2="331.2" y2="440.04" stroke="#444" stroke-width="0.6"/>
<text x="326.5" y="442.29" font-size="6.2" fill="#1a1a1a" text-anchor="end">80</text>
<line x1="327.9" y1="455.48" x2="331.2" y2="455.48" stroke="#444" stroke-width="0.6"/>
<text x="326.5" y="457.73" font-size="6.2" fill="#1a1a1a" text-anchor="end">60</text>
<line x1="327.9" y1="470.92" x2="331.2" y2="470.92" stroke="#444" stroke-width="0.6"/>
<text x="326.5" y="473.17" font-size="6.2" fill="#1a1a1a" text-anchor="end">40</text>
<line x1="327.9" y1="486.36" x2="331.2" y2="486.36" stroke="#444" stroke-width="0.6"/>
<text x="326.5" y="488.61" font-size="6.2" fill="#1a1a1a" text-anchor="end">20</text>
<line x1="327.9" y1="501.8" x2="331.2" y2="501.8" stroke="#444" stroke-width="0.6"/>
<text x="326.5" y="504.05" font-size="6.2" fill="#1a1a1a" text-anchor="end">0</text>
<line x1="331.2" y1="501.8" x2="378" y2="501.8" stroke="#444" stroke-width="0.6"/>
<text font-size="6.5" fill="#1a1a1a" text-anchor="middle" transform="translate(301.6 463.5) rotate(-90)">Responsive</text>
<text font-size="6.5" fill="#1a1a1a" text-anchor="middle" transform="translate(308.2 463.5) rotate(-90)">neurons per mouse</text>
<rect x="336.8" y="436.18" width="15.4" height="65.62" fill="#707070"/>
<line x1="344.5" y1="434.64" x2="344.5" y2="437.72" stroke="#444" stroke-width="0.5"/>
<line x1="341.9" y1="434.64" x2="347.1" y2="434.64" stroke="#444" stroke-width="0.5"/>
<line x1="341.9" y1="437.72" x2="347.1" y2="437.72" stroke="#444" stroke-width="0.5"/>
<circle cx="339.5" cy="433.86" r="1.25" fill="#fff" stroke="#888" stroke-width="0.48"/>
<circle cx="341.8" cy="434.25" r="1.25" fill="#fff" stroke="#888" stroke-width="0.48"/>
<circle cx="344" cy="434.64" r="1.25" fill="#fff" stroke="#888" stroke-width="0.48"/>
<circle cx="346.5" cy="435.41" r="1.25" fill="#fff" stroke="#888" stroke-width="0.48"/>
<circle cx="343" cy="440.04" r="1.25" fill="#fff" stroke="#888" stroke-width="0.48"/>
<circle cx="344.5" cy="443.13" r="1.25" fill="#fff" stroke="#888" stroke-width="0.48"/>
<rect x="358.4" y="449.3" width="15.4" height="52.5" fill="#f78fb3"/>
<line x1="366.1" y1="445.83" x2="366.1" y2="452.78" stroke="#f2709f" stroke-width="0.5"/>
<line x1="363.5" y1="445.83" x2="368.7" y2="445.83" stroke="#f2709f" stroke-width="0.5"/>
<line x1="363.5" y1="452.78" x2="368.7" y2="452.78" stroke="#f2709f" stroke-width="0.5"/>
<circle cx="366" cy="439.27" r="1.25" fill="#fff" stroke="#f2709f" stroke-width="0.48"/>
<circle cx="363" cy="450.85" r="1.25" fill="#fff" stroke="#f2709f" stroke-width="0.48"/>
<circle cx="366.5" cy="452.39" r="1.25" fill="#fff" stroke="#f2709f" stroke-width="0.48"/>
<circle cx="369.5" cy="451.62" r="1.25" fill="#fff" stroke="#f2709f" stroke-width="0.48"/>
<line x1="344.5" y1="423.6" x2="367" y2="423.6" stroke="#444" stroke-width="0.6"/>
<text x="355.75" y="425.2" font-size="7.8" fill="#1a1a1a" text-anchor="middle">*</text>
<text x="344" y="510.2" font-size="6.5" fill="#1a1a1a" text-anchor="middle">Young</text>
<text x="366.4" y="510.2" font-size="6.5" fill="#1a1a1a" text-anchor="middle">Young</text>
<text x="366.4" y="517.4" font-size="6.5" fill="#1a1a1a" text-anchor="middle">co-housed</text>
<text x="366.4" y="524.6" font-size="6.5" fill="#1a1a1a" text-anchor="middle">with old</text>
</g>
<g id="panel_x">
<text x="387" y="409.2" font-size="9.8" fill="#000" font-weight="bold" stroke="#000" stroke-width="0.35">x</text>
<line x1="411.8" y1="425.4" x2="411.8" y2="501.7" stroke="#444" stroke-width="0.6"/>
<line x1="408.5" y1="425.4" x2="411.8" y2="425.4" stroke="#444" stroke-width="0.6"/>
<text x="407.1" y="427.65" font-size="6.2" fill="#1a1a1a" text-anchor="end">12.5</text>
<line x1="408.5" y1="440.66" x2="411.8" y2="440.66" stroke="#444" stroke-width="0.6"/>
<text x="407.1" y="442.91" font-size="6.2" fill="#1a1a1a" text-anchor="end">10.0</text>
<line x1="408.5" y1="455.92" x2="411.8" y2="455.92" stroke="#444" stroke-width="0.6"/>
<text x="407.1" y="458.17" font-size="6.2" fill="#1a1a1a" text-anchor="end">7.5</text>
<line x1="408.5" y1="471.18" x2="411.8" y2="471.18" stroke="#444" stroke-width="0.6"/>
<text x="407.1" y="473.43" font-size="6.2" fill="#1a1a1a" text-anchor="end">5.0</text>
<line x1="408.5" y1="486.44" x2="411.8" y2="486.44" stroke="#444" stroke-width="0.6"/>
<text x="407.1" y="488.69" font-size="6.2" fill="#1a1a1a" text-anchor="end">2.5</text>
<line x1="408.5" y1="501.7" x2="411.8" y2="501.7" stroke="#444" stroke-width="0.6"/>
<text x="407.1" y="503.95" font-size="6.2" fill="#1a1a1a" text-anchor="end">0</text>
<line x1="411.8" y1="501.7" x2="526.8" y2="501.7" stroke="#444" stroke-width="0.6"/>
<line x1="411.8" y1="501.7" x2="411.8" y2="503.7" stroke="#444" stroke-width="0.6"/>
<text x="411.8" y="510.3" font-size="6.5" fill="#1a1a1a" text-anchor="middle">0</text>
<line x1="434.76" y1="501.7" x2="434.76" y2="503.7" stroke="#444" stroke-width="0.6"/>
<text x="434.76" y="510.3" font-size="6.5" fill="#1a1a1a" text-anchor="middle">30</text>
<line x1="457.72" y1="501.7" x2="457.72" y2="503.7" stroke="#444" stroke-width="0.6"/>
<text x="457.72" y="510.3" font-size="6.5" fill="#1a1a1a" text-anchor="middle">60</text>
<line x1="480.68" y1="501.7" x2="480.68" y2="503.7" stroke="#444" stroke-width="0.6"/>
<text x="480.68" y="510.3" font-size="6.5" fill="#1a1a1a" text-anchor="middle">90</text>
<line x1="503.64" y1="501.7" x2="503.64" y2="503.7" stroke="#444" stroke-width="0.6"/>
<text x="503.64" y="510.3" font-size="6.5" fill="#1a1a1a" text-anchor="middle">120</text>
<line x1="526.6" y1="501.7" x2="526.6" y2="503.7" stroke="#444" stroke-width="0.6"/>
<text x="526.6" y="510.3" font-size="6.5" fill="#1a1a1a" text-anchor="middle">150</text>
<text x="468.5" y="521.8" font-size="6.5" fill="#1a1a1a" text-anchor="middle">Time (s)</text>
<text font-size="6.5" fill="#1a1a1a" text-anchor="middle" transform="translate(390.6 466.5) rotate(-90)"><tspan font-style="italic">z</tspan>-score</text>
<line x1="417.4" y1="419.3" x2="425" y2="419.3" stroke="#555" stroke-width="1.4"/>
<text x="428.6" y="421.6" font-size="6.5" fill="#1a1a1a">Young</text>
<line x1="417.4" y1="427.8" x2="425" y2="427.8" stroke="#f0679b" stroke-width="1.4"/>
<text x="428.6" y="430" font-size="6.5" fill="#1a1a1a">Young co-housed with old</text>
<line x1="434.8" y1="478.5" x2="434.8" y2="488" stroke="#999" stroke-width="0.8"/>
<path d="M433 487.4 L436.6 487.4 L434.8 491.4 Z" fill="#333"/>
<polygon points="411.8,497.36 412.57,497.7 413.33,497.37 414.1,497.88 414.86,498.15 415.63,497.75 416.39,497.07 417.16,497.39 417.92,497.57 418.69,498.57 419.45,498.2 420.22,498.67 420.98,498.89 421.75,499.05 422.51,498.93 423.28,497.86 424.05,498.07 424.81,498.16 425.58,498.22 426.34,499.24 427.11,499.11 427.87,498.66 428.64,498.55 429.4,498.15 430.17,497.9 430.93,498.95 431.7,497.93 432.46,497.61 433.23,497.67 433.99,497.98 434.76,497.31 435.53,497.75 436.29,496.25 437.06,496.2 437.82,496.53 438.59,496.76 439.35,495.63 440.12,496 440.88,495.35 441.65,495.23 442.41,495.61 443.18,495.72 443.94,494.88 444.71,495.27 445.47,496.01 446.24,495.31 447.01,493.35 447.77,495.83 448.54,495.62 449.3,493.4 450.07,494.41 450.83,493.13 451.6,492.95 452.36,493 453.13,490.33 453.89,492.72 454.66,491.57 455.42,491.91 456.19,490.02 456.95,490.86 457.72,490.19 458.49,488.04 459.25,488.73 460.02,487.11 460.78,485.12 461.55,487.12 462.31,486.47 463.08,485.09 463.84,482.44 464.61,482.17 465.37,482.69 466.14,481.57 466.9,481.32 467.67,479.55 468.43,480.2 469.2,477.13 469.97,475.48 470.73,474.3 471.5,474.1 472.26,472.35 473.03,474.66 473.79,472.75 474.56,469.43 475.32,469.13 476.09,469.43 476.85,466.61 477.62,466.77 478.38,465.11 479.15,465.97 479.91,465.36 480.68,463.51 481.45,464.1 482.21,462.76 482.98,460.26 483.74,461.97 484.51,462.61 485.27,462 486.04,461.08 486.8,458.46 487.57,459.44 488.33,459.21 489.1,459.4 489.86,455.84 490.63,457.3 491.39,457.57 492.16,457.6 492.93,456.79 493.69,455.57 494.46,452.98 495.22,453.99 495.99,453.54 496.75,451.15 497.52,451.17 498.28,447.74 499.05,449.96 499.81,447.72 500.58,446.05 501.34,446.49 502.11,443.95 502.87,445.2 503.64,445.49 504.41,444.38 505.17,445.15 505.94,444.47 506.7,445.73 507.47,444.16 508.23,445.03 509,446.84 509.76,449.13 510.53,448.38 511.29,448.45 512.06,448.6 512.82,448.55 513.59,446.36 514.35,448.92 515.12,449.27 515.89,446.25 516.65,447.54 517.42,446.09 518.18,448.16 518.95,446.46 519.71,447.35 520.48,446.9 521.24,447.09 522.01,448 522.77,449.42 523.54,449.04 524.3,446.76 525.07,446.7 525.83,446.65 526.6,448.72 526.6,459.29 525.83,457.52 525.07,457.56 524.3,457.62 523.54,459.56 522.77,459.88 522.01,458.66 521.24,457.9 520.48,457.73 519.71,458.11 518.95,457.36 518.18,458.81 517.42,457.04 516.65,458.28 515.89,457.17 515.12,459.75 514.35,459.46 513.59,457.27 512.82,459.14 512.06,459.18 511.29,459.05 510.53,458.99 509.76,459.63 509,457.68 508.23,456.13 507.47,455.4 506.7,456.74 505.94,455.67 505.17,456.24 504.41,455.58 503.64,456.53 502.87,456.28 502.11,455.22 501.34,457.39 500.58,457.01 499.81,458.43 499.05,460.34 498.28,458.45 497.52,461.37 496.75,461.36 495.99,463.39 495.22,463.77 494.46,462.91 493.69,465.12 492.93,466.16 492.16,466.85 491.39,466.82 490.63,466.59 489.86,465.35 489.1,468.38 488.33,468.22 487.57,468.42 486.8,467.58 486.04,469.81 485.27,470.6 484.51,471.11 483.74,470.57 482.98,469.11 482.21,471.24 481.45,472.38 480.68,471.88 479.91,473.46 479.15,473.98 478.38,473.25 477.62,474.65 476.85,474.52 476.09,476.92 475.32,476.67 474.56,476.92 473.79,479.76 473.03,481.38 472.26,479.41 471.5,480.9 470.73,481.08 469.97,482.07 469.2,483.49 468.43,486.1 467.67,485.54 466.9,487.05 466.14,487.27 465.37,488.22 464.61,487.77 463.84,488 463.08,490.27 462.31,491.44 461.55,491.99 460.78,490.29 460.02,491.98 459.25,493.36 458.49,492.77 457.72,494.61 456.95,495.18 456.19,494.46 455.42,496.07 454.66,495.79 453.89,496.77 453.13,494.73 452.36,497 451.6,496.96 450.83,497.11 450.07,498.2 449.3,497.34 448.54,499.23 447.77,499.41 447.01,497.3 446.24,498.97 445.47,499.56 444.71,498.93 443.94,498.6 443.18,499.32 442.41,499.22 441.65,498.91 440.88,499 440.12,499.56 439.35,499.24 438.59,500.21 437.82,500.01 437.06,499.72 436.29,499.77 435.53,501.05 434.76,500.67 433.99,501.25 433.23,500.98 432.46,500.93 431.7,501.2 430.93,502.07 430.17,501.18 429.4,501.39 428.64,501.73 427.87,501.82 427.11,502.2 426.34,502.31 425.58,501.45 424.81,501.39 424.05,501.32 423.28,501.14 422.51,502.05 421.75,502.15 420.98,502.02 420.22,501.83 419.45,501.43 418.69,501.74 417.92,500.9 417.16,500.74 416.39,500.47 415.63,501.05 414.86,501.39 414.1,501.16 413.33,500.72 412.57,501 411.8,500.71" fill="#f78fb3" opacity="0.75"/>
<polyline points="411.8,499.03 412.57,499.35 413.33,499.04 414.1,499.52 414.86,499.77 415.63,499.4 416.39,498.77 417.16,499.06 417.92,499.24 418.69,500.15 419.45,499.82 420.22,500.25 420.98,500.45 421.75,500.6 422.51,500.49 423.28,499.5 424.05,499.69 424.81,499.78 425.58,499.84 426.34,500.78 427.11,500.66 427.87,500.24 428.64,500.14 429.4,499.77 430.17,499.54 430.93,500.51 431.7,499.56 432.46,499.27 433.23,499.33 433.99,499.62 434.76,498.99 435.53,499.4 436.29,498.01 437.06,497.96 437.82,498.27 438.59,498.48 439.35,497.44 440.12,497.78 440.88,497.17 441.65,497.07 442.41,497.41 443.18,497.52 443.94,496.74 444.71,497.1 445.47,497.79 446.24,497.14 447.01,495.32 447.77,497.62 448.54,497.42 449.3,495.37 450.07,496.3 450.83,495.12 451.6,494.96 452.36,495 453.13,492.53 453.89,494.75 454.66,493.68 455.42,493.99 456.19,492.24 456.95,493.02 457.72,492.4 458.49,490.41 459.25,491.05 460.02,489.55 460.78,487.7 461.55,489.56 462.31,488.95 463.08,487.68 463.84,485.22 464.61,484.97 465.37,485.46 466.14,484.42 466.9,484.18 467.67,482.54 468.43,483.15 469.2,480.31 469.97,478.78 470.73,477.69 471.5,477.5 472.26,475.88 473.03,478.02 473.79,476.25 474.56,473.18 475.32,472.9 476.09,473.18 476.85,470.57 477.62,470.71 478.38,469.18 479.15,469.97 479.91,469.41 480.68,467.7 481.45,468.24 482.21,467 482.98,464.69 483.74,466.27 484.51,466.86 485.27,466.3 486.04,465.45 486.8,463.02 487.57,463.93 488.33,463.72 489.1,463.89 489.86,460.59 490.63,461.94 491.39,462.19 492.16,462.22 492.93,461.47 493.69,460.35 494.46,457.94 495.22,458.88 495.99,458.47 496.75,456.26 497.52,456.27 498.28,453.1 499.05,455.15 499.81,453.08 500.58,451.53 501.34,451.94 502.11,449.59 502.87,450.74 503.64,451.01 504.41,449.98 505.17,450.7 505.94,450.07 506.7,451.24 507.47,449.78 508.23,450.58 509,452.26 509.76,454.38 510.53,453.69 511.29,453.75 512.06,453.89 512.82,453.84 513.59,451.82 514.35,454.19 515.12,454.51 515.89,451.71 516.65,452.91 517.42,451.56 518.18,453.49 518.95,451.91 519.71,452.73 520.48,452.32 521.24,452.5 522.01,453.33 522.77,454.65 523.54,454.3 524.3,452.19 525.07,452.13 525.83,452.08 526.6,454.01" fill="none" stroke="#e8508c" stroke-width="0.8"/>
<polygon points="411.8,496.8 412.57,496.71 413.33,497.08 414.1,496.94 414.86,497.52 415.63,497.45 416.39,497.53 417.16,498.31 417.92,497.42 418.69,497.5 419.45,499 420.22,497.66 420.98,497.73 421.75,498.24 422.51,499.26 423.28,497.99 424.05,499.24 424.81,497.99 425.58,498.51 426.34,499.5 427.11,499.39 427.87,498.72 428.64,498.88 429.4,498.4 430.17,497.92 430.93,498.81 431.7,498.95 432.46,497.32 433.23,498.53 433.99,496.98 434.76,497.96 435.53,496.48 436.29,496.12 437.06,495.57 437.82,495.67 438.59,494.76 439.35,495.4 440.12,494.27 440.88,494.39 441.65,492.69 442.41,492.04 443.18,491.73 443.94,490.71 444.71,491.59 445.47,490.73 446.24,487.99 447.01,487.35 447.77,485.08 448.54,484.96 449.3,485.57 450.07,483.82 450.83,481.44 451.6,481.28 452.36,482.04 453.13,478.23 453.89,477.27 454.66,478.81 455.42,476.25 456.19,475.82 456.95,473.44 457.72,474.07 458.49,473.6 459.25,472.01 460.02,469.63 460.78,471.88 461.55,471.08 462.31,468.61 463.08,466.98 463.84,467.52 464.61,467.05 465.37,464.87 466.14,464.42 466.9,466.11 467.67,462.59 468.43,464.2 469.2,463.1 469.97,460.63 470.73,461.4 471.5,459.47 472.26,460.98 473.03,457.91 473.79,459.65 474.56,459.1 475.32,457.27 476.09,457.16 476.85,455.81 477.62,453.93 478.38,453.94 479.15,455.7 479.91,454.01 480.68,452.57 481.45,452.12 482.21,450.69 482.98,450.83 483.74,451.58 484.51,450.36 485.27,447.65 486.04,448.68 486.8,446.63 487.57,445.24 488.33,445.82 489.1,445 489.86,444.58 490.63,444.95 491.39,442.25 492.16,443.13 492.93,440.75 493.69,441.95 494.46,439.17 495.22,438.59 495.99,438.32 496.75,438.04 497.52,438.2 498.28,435.19 499.05,435.72 499.81,433.84 500.58,434.78 501.34,434.09 502.11,435.82 502.87,435.49 503.64,439.59 504.41,439.05 505.17,442.55 505.94,443.53 506.7,445.99 507.47,446.74 508.23,450.23 509,449.2 509.76,447.4 510.53,450.01 511.29,448.42 512.06,449.57 512.82,449.68 513.59,450.66 514.35,450.69 515.12,447.55 515.89,447.98 516.65,448.11 517.42,448.11 518.18,447.64 518.95,450.38 519.71,448.96 520.48,449.29 521.24,449.05 522.01,447.83 522.77,448.46 523.54,447.78 524.3,450.71 525.07,448.91 525.83,448.86 526.6,448.65 526.6,456.73 525.83,456.92 525.07,456.96 524.3,458.56 523.54,455.96 522.77,456.56 522.01,456 521.24,457.08 520.48,457.29 519.71,457 518.95,458.27 518.18,455.83 517.42,456.25 516.65,456.25 515.89,456.14 515.12,455.75 514.35,458.54 513.59,458.51 512.82,457.64 512.06,457.54 511.29,456.52 510.53,457.94 509.76,455.62 509,457.22 508.23,458.13 507.47,455.04 506.7,454.37 505.94,452.19 505.17,451.32 504.41,448.22 503.64,448.69 502.87,445.06 502.11,445.35 501.34,443.82 500.58,444.43 499.81,443.59 499.05,445.26 498.28,444.79 497.52,447.47 496.75,447.32 495.99,447.57 495.22,447.8 494.46,448.32 493.69,450.79 492.93,449.72 492.16,451.83 491.39,451.06 490.63,453.45 489.86,453.12 489.1,453.49 488.33,454.22 487.57,453.7 486.8,454.94 486.04,456.76 485.27,455.84 484.51,458.24 483.74,459.33 482.98,458.67 482.21,458.54 481.45,459.81 480.68,460.2 479.91,461.48 479.15,462.98 478.38,461.42 477.62,461.41 476.85,463.08 476.09,464.27 475.32,464.37 474.56,465.99 473.79,466.48 473.03,464.94 472.26,467.66 471.5,466.32 470.73,468.03 469.97,467.35 469.2,469.54 468.43,470.52 467.67,469.09 466.9,472.21 466.14,470.71 465.37,471.11 464.61,473.05 463.84,473.46 463.08,472.98 462.31,474.43 461.55,476.62 460.78,477.33 460.02,475.34 459.25,477.44 458.49,478.86 457.72,479.27 456.95,478.71 456.19,480.82 455.42,481.21 454.66,483.48 453.89,482.11 453.13,482.96 452.36,486.34 451.6,485.67 450.83,485.81 450.07,487.91 449.3,489.47 448.54,488.93 447.77,489.03 447.01,491.05 446.24,491.61 445.47,494.05 444.71,494.81 443.94,494.03 443.18,494.93 442.41,495.21 441.65,495.78 440.88,497.29 440.12,497.18 439.35,498.19 438.59,497.62 437.82,498.43 437.06,498.33 436.29,498.82 435.53,499.14 434.76,500.46 433.99,499.59 433.23,500.96 432.46,499.89 431.7,501.33 430.93,501.21 430.17,500.42 429.4,500.85 428.64,501.27 427.87,501.13 427.11,501.73 426.34,501.83 425.58,500.94 424.81,500.48 424.05,501.59 423.28,500.48 422.51,501.61 421.75,500.7 420.98,500.25 420.22,500.19 419.45,501.38 418.69,500.05 417.92,499.98 417.16,500.77 416.39,500.08 415.63,500 414.86,500.06 414.1,499.55 413.33,499.68 412.57,499.35 411.8,499.43" fill="#4a3a40" opacity="0.75"/>
<polyline points="411.8,498.11 412.57,498.03 413.33,498.38 414.1,498.25 414.86,498.79 415.63,498.73 416.39,498.8 417.16,499.54 417.92,498.7 418.69,498.77 419.45,500.19 420.22,498.92 420.98,498.99 421.75,499.47 422.51,500.43 423.28,499.23 424.05,500.41 424.81,499.23 425.58,499.73 426.34,500.67 427.11,500.56 427.87,499.93 428.64,500.07 429.4,499.62 430.17,499.17 430.93,500.01 431.7,500.14 432.46,498.6 433.23,499.74 433.99,498.29 434.76,499.21 435.53,497.81 436.29,497.47 437.06,496.95 437.82,497.05 438.59,496.19 439.35,496.8 440.12,495.73 440.88,495.84 441.65,494.24 442.41,493.63 443.18,493.33 443.94,492.37 444.71,493.2 445.47,492.39 446.24,489.8 447.01,489.2 447.77,487.06 448.54,486.95 449.3,487.52 450.07,485.87 450.83,483.62 451.6,483.48 452.36,484.19 453.13,480.59 453.89,479.69 454.66,481.14 455.42,478.73 456.19,478.32 456.95,476.07 457.72,476.67 458.49,476.23 459.25,474.72 460.02,472.49 460.78,474.6 461.55,473.85 462.31,471.52 463.08,469.98 463.84,470.49 464.61,470.05 465.37,467.99 466.14,467.56 466.9,469.16 467.67,465.84 468.43,467.36 469.2,466.32 469.97,463.99 470.73,464.72 471.5,462.89 472.26,464.32 473.03,461.43 473.79,463.07 474.56,462.54 475.32,460.82 476.09,460.71 476.85,459.45 477.62,457.67 478.38,457.68 479.15,459.34 479.91,457.75 480.68,456.39 481.45,455.96 482.21,454.61 482.98,454.75 483.74,455.46 484.51,454.3 485.27,451.75 486.04,452.72 486.8,450.79 487.57,449.47 488.33,450.02 489.1,449.25 489.86,448.85 490.63,449.2 491.39,446.65 492.16,447.48 492.93,445.23 493.69,446.37 494.46,443.75 495.22,443.19 495.99,442.94 496.75,442.68 497.52,442.84 498.28,439.99 499.05,440.49 499.81,438.71 500.58,439.6 501.34,438.95 502.11,440.59 502.87,440.27 503.64,444.14 504.41,443.64 505.17,446.93 505.94,447.86 506.7,450.18 507.47,450.89 508.23,454.18 509,453.21 509.76,451.51 510.53,453.98 511.29,452.47 512.06,453.55 512.82,453.66 513.59,454.58 514.35,454.62 515.12,451.65 515.89,452.06 516.65,452.18 517.42,452.18 518.18,451.74 518.95,454.32 519.71,452.98 520.48,453.29 521.24,453.06 522.01,451.91 522.77,452.51 523.54,451.87 524.3,454.64 525.07,452.94 525.83,452.89 526.6,452.69" fill="none" stroke="#3c3c3c" stroke-width="0.8"/>
</g>
<g id="panel_y">
<text x="535.5" y="408.8" font-size="9.8" fill="#000" font-weight="bold" stroke="#000" stroke-width="0.35">y</text>
<line x1="556.5" y1="421" x2="556.5" y2="501.8" stroke="#444" stroke-width="0.6"/>
<line x1="553.2" y1="421" x2="556.5" y2="421" stroke="#444" stroke-width="0.6"/>
<text x="551.8" y="423.25" font-size="6.2" fill="#1a1a1a" text-anchor="end">80</text>
<line x1="553.2" y1="441.2" x2="556.5" y2="441.2" stroke="#444" stroke-width="0.6"/>
<text x="551.8" y="443.45" font-size="6.2" fill="#1a1a1a" text-anchor="end">60</text>
<line x1="553.2" y1="461.4" x2="556.5" y2="461.4" stroke="#444" stroke-width="0.6"/>
<text x="551.8" y="463.65" font-size="6.2" fill="#1a1a1a" text-anchor="end">40</text>
<line x1="553.2" y1="481.6" x2="556.5" y2="481.6" stroke="#444" stroke-width="0.6"/>
<text x="551.8" y="483.85" font-size="6.2" fill="#1a1a1a" text-anchor="end">20</text>
<line x1="553.2" y1="501.8" x2="556.5" y2="501.8" stroke="#444" stroke-width="0.6"/>
<text x="551.8" y="504.05" font-size="6.2" fill="#1a1a1a" text-anchor="end">0</text>
<line x1="556.5" y1="501.8" x2="611.5" y2="501.8" stroke="#444" stroke-width="0.6"/>
<text font-size="6.5" fill="#1a1a1a" text-anchor="middle" transform="translate(541 461.5) rotate(-90)">Mean response</text>
<path d="M573.3 440.19 L573.55 471.5 L573.8 483.62 L574.3 491.7 L575.3 496.25 L578.34 498.77 L580.5 500.29 L579.06 501.8 L567.54 501.8 L566.1 500.29 L568.26 498.77 L571.3 496.25 L572.3 491.7 L572.8 483.62 L573.05 471.5 L573.3 440.19 Z" fill="#555"/>
<path d="M596.2 457.36 L596.45 471.5 L596.7 483.62 L597.2 491.7 L598.2 496.25 L602.22 498.77 L604.8 500.29 L603.08 501.8 L589.32 501.8 L587.6 500.29 L590.18 498.77 L594.2 496.25 L595.2 491.7 L595.7 483.62 L595.95 471.5 L596.2 457.36 Z" fill="#ee5c95"/>
<line x1="573.3" y1="430.6" x2="596.2" y2="430.6" stroke="#444" stroke-width="0.6"/>
<text x="584.75" y="432.2" font-size="7.8" fill="#1a1a1a" text-anchor="middle">***</text>
<text x="573.3" y="510.4" font-size="6.5" fill="#1a1a1a" text-anchor="middle">Young</text>
<text x="599" y="510.4" font-size="6.5" fill="#1a1a1a" text-anchor="middle">Young</text>
<text x="599" y="517.6" font-size="6.5" fill="#1a1a1a" text-anchor="middle">co-housed</text>
<text x="599" y="524.8" font-size="6.5" fill="#1a1a1a" text-anchor="middle">with old</text>
</g>
</svg>
</body></html>
